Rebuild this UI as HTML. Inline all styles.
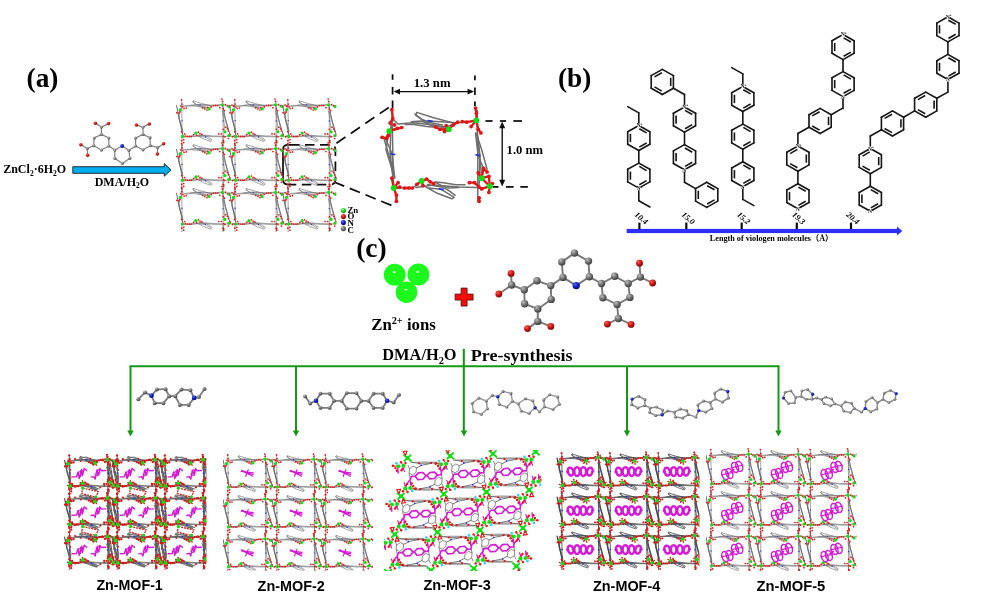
<!DOCTYPE html>
<html><head><meta charset="utf-8"><title>Zn-MOF viologen scheme</title>
<style>
html,body{margin:0;padding:0;background:#fff;}
body{width:1006px;height:596px;overflow:hidden;}
svg{display:block;}
</style></head><body>
<svg width="1006" height="596" viewBox="0 0 1006 596">
<defs>
<radialGradient id="gC" cx="35%" cy="30%" r="75%"><stop offset="0" stop-color="#bdbdbd"/><stop offset="0.5" stop-color="#727272"/><stop offset="1" stop-color="#383838"/></radialGradient>
<radialGradient id="gCl" cx="35%" cy="30%" r="75%"><stop offset="0" stop-color="#e8e8e8"/><stop offset="0.55" stop-color="#a4a4a4"/><stop offset="1" stop-color="#6a6a6a"/></radialGradient>
<radialGradient id="gCm" cx="35%" cy="30%" r="75%"><stop offset="0" stop-color="#c8c8c8"/><stop offset="0.5" stop-color="#848484"/><stop offset="1" stop-color="#4a4a4a"/></radialGradient>
<radialGradient id="gO" cx="35%" cy="30%" r="75%"><stop offset="0" stop-color="#ff5a4a"/><stop offset="0.55" stop-color="#cc1212"/><stop offset="1" stop-color="#6a0606"/></radialGradient>
<radialGradient id="gN" cx="35%" cy="30%" r="75%"><stop offset="0" stop-color="#5566f5"/><stop offset="0.5" stop-color="#1220cc"/><stop offset="1" stop-color="#060c66"/></radialGradient>
<radialGradient id="gZn" cx="40%" cy="32%" r="70%"><stop offset="0" stop-color="#ffffff"/><stop offset="0.1" stop-color="#60ff60"/><stop offset="0.5" stop-color="#14f014"/><stop offset="1" stop-color="#0ed80e"/></radialGradient>
<radialGradient id="gZnS" cx="35%" cy="30%" r="75%"><stop offset="0" stop-color="#90ff90"/><stop offset="0.5" stop-color="#10e010"/><stop offset="1" stop-color="#0a900a"/></radialGradient>
<filter id="gsoft" filterUnits="userSpaceOnUse" x="0" y="0" width="1006" height="596"><feGaussianBlur stdDeviation="0.32"/></filter>
<filter id="soft" x="-5%" y="-5%" width="110%" height="110%"><feGaussianBlur stdDeviation="0.35"/></filter>
<filter id="soft2" x="-5%" y="-5%" width="110%" height="110%"><feGaussianBlur stdDeviation="0.5"/></filter>
</defs>
<rect width="1006" height="596" fill="#ffffff"/>
<g filter="url(#gsoft)">
<text x="26.6" y="86.7" font-family='"Liberation Serif", serif' font-size="27.3" font-weight="bold" text-anchor="start" >(a)</text>
<text x="558.0" y="86.7" font-family='"Liberation Serif", serif' font-size="27.3" font-weight="bold" text-anchor="start" >(b)</text>
<text x="356.2" y="257.0" font-family='"Liberation Serif", serif' font-size="27.5" font-weight="bold" text-anchor="start" >(c)</text>
<text x="3.2" y="173.3" font-family='"Liberation Serif", serif' font-size="12" font-weight="bold" text-anchor="start" >ZnCl<tspan font-size="7.5" dy="2.4">2</tspan><tspan dy="-2.4">·6H</tspan><tspan font-size="7.5" dy="2.4">2</tspan><tspan dy="-2.4">O</tspan></text>
<text x="94.7" y="185.6" font-family='"Liberation Serif", serif' font-size="12" font-weight="bold" text-anchor="start" >DMA/H<tspan font-size="7.5" dy="2.4">2</tspan><tspan dy="-2.4">O</tspan></text>
<path d="M72.8 166.7 H164.3 V163.6 L171 169.9 L164.3 176.2 V173.3 H72.8 Z" fill="#00aeef" stroke="#1a1a22" stroke-width="0.9" stroke-linejoin="miter"/>
<path d="M392.6 74.3L392.6 79.8" stroke="#111" stroke-width="1.75" />
<path d="M392.6 86.9L392.6 94.5" stroke="#111" stroke-width="1.75" />
<path d="M392.6 100.5L392.6 108.2" stroke="#111" stroke-width="1.75" />
<path d="M474.9 75.4L474.9 80.3" stroke="#111" stroke-width="1.75" />
<path d="M474.9 87.4L474.9 95.0" stroke="#111" stroke-width="1.75" />
<path d="M474.9 101.6L474.9 106.0" stroke="#111" stroke-width="1.75" />
<path d="M397.0 91.6L471.0 91.6" stroke="#111" stroke-width="1.4" />
<path d="M393.6 91.6 L400 88.7 L400 94.5 Z M474 91.6 L467.6 88.7 L467.6 94.5 Z" fill="#111"/>
<text x="413.7" y="87.4" font-family='"Liberation Serif", serif' font-size="13" font-weight="bold" text-anchor="start" textLength="36.8" lengthAdjust="spacingAndGlyphs">1.3 nm</text>
<path d="M485.4 121.0L492.6 121.0" stroke="#111" stroke-width="1.75" />
<path d="M499.9 121.0L506.1 121.0" stroke="#111" stroke-width="1.75" />
<path d="M513.3 121.0L522.0 121.0" stroke="#111" stroke-width="1.75" />
<path d="M492.6 186.9L498.5 186.9" stroke="#111" stroke-width="1.75" />
<path d="M506.0 186.9L513.6 186.9" stroke="#111" stroke-width="1.75" />
<path d="M520.3 186.9L527.9 186.9" stroke="#111" stroke-width="1.75" />
<path d="M502.2 125.0L502.2 183.0" stroke="#111" stroke-width="1.4" />
<path d="M502.2 121.4 L499.2 128.2 L505.2 128.2 Z M502.2 186.5 L499.2 179.7 L505.2 179.7 Z" fill="#111"/>
<text x="506.6" y="153.7" font-family='"Liberation Serif", serif' font-size="12.8" font-weight="bold" text-anchor="start" textLength="36.4" lengthAdjust="spacingAndGlyphs">1.0 nm</text>
<path d="M290 144.9 H330.4 Q335.4 144.9 335.4 149.9 V179.6 Q335.4 184.6 330.4 184.6 H290" fill="none" stroke="#111" stroke-width="1.75" stroke-dasharray="9.5 5.5"/>
<path d="M290 144.9 H288 Q283 144.9 283 149.9 V179.6 Q283 184.6 288 184.6 H290" fill="none" stroke="#111" stroke-width="1.75"/>
<path d="M336.4 143.3L392.8 104.7" stroke="#111" stroke-width="1.75" stroke-dasharray="11 6.5"/>
<path d="M334.0 182.0L394.8 206.7" stroke="#111" stroke-width="1.75" stroke-dasharray="11 6"/>
<circle cx="343.4" cy="210.6" r="2.55" fill="url(#gZnS)" />
<text x="347.4" y="212.9" font-family='"Liberation Serif", serif' font-size="8.8" font-weight="bold" text-anchor="start" >Zn</text>
<circle cx="343.4" cy="216.6" r="2.55" fill="url(#gO)" />
<text x="347.4" y="219.2" font-family='"Liberation Serif", serif' font-size="8.8" font-weight="bold" text-anchor="start" >O</text>
<circle cx="343.4" cy="222.6" r="2.55" fill="url(#gN)" />
<text x="347.4" y="225.9" font-family='"Liberation Serif", serif' font-size="8.8" font-weight="bold" text-anchor="start" >N</text>
<circle cx="343.4" cy="228.6" r="2.55" fill="url(#gC)" />
<text x="347.4" y="233.2" font-family='"Liberation Serif", serif' font-size="8.8" font-weight="bold" text-anchor="start" >C</text>
<rect x="626.7" y="228.9" width="271" height="4.2" fill="#2f2ffa"/>
<path d="M897 226.4 L902.3 231 L897 235.6 Z" fill="#2f2ffa"/>
<path d="M639.4 222.6L639.4 229.2" stroke="#111" stroke-width="2.2" />
<text transform="translate(641.4,218.0) rotate(40)" x="0" y="2.8" text-anchor="middle" font-family='"Liberation Serif", serif' font-size="8.2" font-weight="bold" font-style="italic">10.4</text>
<path d="M686.3 222.6L686.3 229.2" stroke="#111" stroke-width="2.2" />
<text transform="translate(688.3,218.0) rotate(40)" x="0" y="2.8" text-anchor="middle" font-family='"Liberation Serif", serif' font-size="8.2" font-weight="bold" font-style="italic">15.0</text>
<path d="M741.7 222.6L741.7 229.2" stroke="#111" stroke-width="2.2" />
<text transform="translate(743.7,218.0) rotate(40)" x="0" y="2.8" text-anchor="middle" font-family='"Liberation Serif", serif' font-size="8.2" font-weight="bold" font-style="italic">15.2</text>
<path d="M796.8 222.6L796.8 229.2" stroke="#111" stroke-width="2.2" />
<text transform="translate(798.8,218.0) rotate(40)" x="0" y="2.8" text-anchor="middle" font-family='"Liberation Serif", serif' font-size="8.2" font-weight="bold" font-style="italic">19.3</text>
<path d="M851.0 222.6L851.0 229.2" stroke="#111" stroke-width="2.2" />
<text transform="translate(853.0,218.0) rotate(40)" x="0" y="2.8" text-anchor="middle" font-family='"Liberation Serif", serif' font-size="8.2" font-weight="bold" font-style="italic">20.4</text>
<text x="709.8" y="241.3" font-family='"Liberation Serif", "Noto Sans CJK SC", serif' font-size="8" font-weight="bold" text-anchor="start" textLength="123.5" lengthAdjust="spacingAndGlyphs">Length of viologen molecules（Å）</text>
<text x="371.2" y="330.3" font-family='"Liberation Serif", serif' font-size="16.8" font-weight="bold" text-anchor="start" >Zn<tspan font-size="10.3" dy="-6">2+</tspan><tspan dy="6"> ions</tspan></text>
<text x="382.3" y="360.4" font-family='"Liberation Serif", serif' font-size="16.6" font-weight="bold" text-anchor="start" textLength="74.3" lengthAdjust="spacingAndGlyphs">DMA/H<tspan font-size="10.5" dy="3.2">2</tspan><tspan dy="-3.2">O</tspan></text>
<text x="470.8" y="360.6" font-family='"Liberation Serif", serif' font-size="16.8" font-weight="bold" text-anchor="start" textLength="101.8" lengthAdjust="spacingAndGlyphs">Pre-synthesis</text>
<text x="96.4" y="589.5" font-family='"Liberation Sans", sans-serif' font-size="13.8" font-weight="bold" text-anchor="start" textLength="66.4" lengthAdjust="spacingAndGlyphs">Zn-MOF-1</text>
<text x="257.6" y="591.2" font-family='"Liberation Sans", sans-serif' font-size="13.8" font-weight="bold" text-anchor="start" textLength="67.2" lengthAdjust="spacingAndGlyphs">Zn-MOF-2</text>
<text x="423.4" y="589.5" font-family='"Liberation Sans", sans-serif' font-size="13.8" font-weight="bold" text-anchor="start" textLength="67.5" lengthAdjust="spacingAndGlyphs">Zn-MOF-3</text>
<text x="593.0" y="590.8" font-family='"Liberation Sans", sans-serif' font-size="13.8" font-weight="bold" text-anchor="start" textLength="67.2" lengthAdjust="spacingAndGlyphs">Zn-MOF-4</text>
<text x="756.5" y="590.5" font-family='"Liberation Sans", sans-serif' font-size="13.8" font-weight="bold" text-anchor="start" textLength="68.8" lengthAdjust="spacingAndGlyphs">Zn-MOF-5</text>
<path d="M129.5 366.3L779.5 366.3" stroke="#189818" stroke-width="2.1" />
<path d="M463.8 348.8L463.8 432.0" stroke="#189818" stroke-width="2.1" />
<path d="M130.5 366.3L130.5 432.0" stroke="#189818" stroke-width="2" />
<path d="M127.3 430.5 L133.7 430.5 L130.5 436.5 Z" fill="#189818"/>
<path d="M296.0 366.3L296.0 432.0" stroke="#189818" stroke-width="2" />
<path d="M292.8 430.5 L299.2 430.5 L296 436.5 Z" fill="#189818"/>
<path d="M460.8 430.5 L467.2 430.5 L464 436.5 Z" fill="#189818"/>
<path d="M627.0 366.3L627.0 432.0" stroke="#189818" stroke-width="2" />
<path d="M623.8 430.5 L630.2 430.5 L627 436.5 Z" fill="#189818"/>
<path d="M778.5 366.3L778.5 432.0" stroke="#189818" stroke-width="2" />
<path d="M775.3 430.5 L781.7 430.5 L778.5 436.5 Z" fill="#189818"/>
<path d="M641.0 126.7L649.9 131.7" stroke="#141414" stroke-width="1.6" stroke-linecap="round"/>
<path d="M639.3 128.8L646.6 132.9" stroke="#141414" stroke-width="1.6" />
<path d="M649.9 131.7L649.9 144.2" stroke="#141414" stroke-width="1.6" stroke-linecap="round"/>
<path d="M649.9 144.2L638.8 150.5" stroke="#141414" stroke-width="1.6" stroke-linecap="round"/>
<path d="M646.6 143.0L639.3 147.1" stroke="#141414" stroke-width="1.6" />
<path d="M638.8 150.5L627.7 144.2" stroke="#141414" stroke-width="1.6" stroke-linecap="round"/>
<path d="M627.7 144.2L627.7 131.7" stroke="#141414" stroke-width="1.6" stroke-linecap="round"/>
<path d="M630.4 142.1L630.4 133.8" stroke="#141414" stroke-width="1.6" />
<path d="M627.7 131.7L636.6 126.7" stroke="#141414" stroke-width="1.6" stroke-linecap="round"/>
<text x="638.6" y="127.3" font-family='"Liberation Serif", serif' font-size="5.6" font-weight="bold" text-anchor="middle" fill="#141414">N</text>
<text x="641.4" y="124.8" font-family='"Liberation Serif", serif' font-size="3.4" font-weight="bold" text-anchor="middle" fill="#141414">+</text>
<path d="M638.8 163.1L649.9 169.3" stroke="#141414" stroke-width="1.6" stroke-linecap="round"/>
<path d="M639.3 166.4L646.6 170.6" stroke="#141414" stroke-width="1.6" />
<path d="M649.9 169.3L649.9 181.9" stroke="#141414" stroke-width="1.6" stroke-linecap="round"/>
<path d="M649.9 181.9L641.0 186.9" stroke="#141414" stroke-width="1.6" stroke-linecap="round"/>
<path d="M646.6 180.6L639.3 184.8" stroke="#141414" stroke-width="1.6" />
<path d="M636.6 186.9L627.7 181.9" stroke="#141414" stroke-width="1.6" stroke-linecap="round"/>
<path d="M627.7 181.9L627.7 169.3" stroke="#141414" stroke-width="1.6" stroke-linecap="round"/>
<path d="M630.4 179.7L630.4 171.5" stroke="#141414" stroke-width="1.6" />
<path d="M627.7 169.3L638.8 163.1" stroke="#141414" stroke-width="1.6" stroke-linecap="round"/>
<text x="638.6" y="190.1" font-family='"Liberation Serif", serif' font-size="5.6" font-weight="bold" text-anchor="middle" fill="#141414">N</text>
<text x="641.4" y="187.6" font-family='"Liberation Serif", serif' font-size="3.4" font-weight="bold" text-anchor="middle" fill="#141414">+</text>
<path d="M638.8 150.5L638.8 163.1" stroke="#141414" stroke-width="1.6" stroke-linecap="round"/>
<path d="M638.8 122.8L638.8 112.9" stroke="#141414" stroke-width="1.6" stroke-linecap="round"/>
<path d="M638.8 112.9L627.7 106.6" stroke="#141414" stroke-width="1.6" stroke-linecap="round"/>
<path d="M638.8 190.8L638.8 200.7" stroke="#141414" stroke-width="1.6" stroke-linecap="round"/>
<path d="M638.8 200.7L649.9 207.0" stroke="#141414" stroke-width="1.6" stroke-linecap="round"/>
<path d="M686.7 108.3L695.6 113.3" stroke="#141414" stroke-width="1.6" stroke-linecap="round"/>
<path d="M685.0 110.4L692.3 114.5" stroke="#141414" stroke-width="1.6" />
<path d="M695.6 113.3L695.6 125.8" stroke="#141414" stroke-width="1.6" stroke-linecap="round"/>
<path d="M695.6 125.8L684.5 132.1" stroke="#141414" stroke-width="1.6" stroke-linecap="round"/>
<path d="M692.3 124.6L685.0 128.7" stroke="#141414" stroke-width="1.6" />
<path d="M684.5 132.1L673.4 125.8" stroke="#141414" stroke-width="1.6" stroke-linecap="round"/>
<path d="M673.4 125.8L673.4 113.3" stroke="#141414" stroke-width="1.6" stroke-linecap="round"/>
<path d="M676.1 123.7L676.1 115.4" stroke="#141414" stroke-width="1.6" />
<path d="M673.4 113.3L682.3 108.3" stroke="#141414" stroke-width="1.6" stroke-linecap="round"/>
<text x="684.3" y="108.9" font-family='"Liberation Serif", serif' font-size="5.6" font-weight="bold" text-anchor="middle" fill="#141414">N</text>
<text x="687.1" y="106.4" font-family='"Liberation Serif", serif' font-size="3.4" font-weight="bold" text-anchor="middle" fill="#141414">+</text>
<path d="M684.5 144.6L695.6 150.9" stroke="#141414" stroke-width="1.6" stroke-linecap="round"/>
<path d="M685.0 148.0L692.3 152.2" stroke="#141414" stroke-width="1.6" />
<path d="M695.6 150.9L695.6 163.5" stroke="#141414" stroke-width="1.6" stroke-linecap="round"/>
<path d="M695.6 163.5L686.7 168.5" stroke="#141414" stroke-width="1.6" stroke-linecap="round"/>
<path d="M692.3 162.2L685.0 166.4" stroke="#141414" stroke-width="1.6" />
<path d="M682.3 168.5L673.4 163.5" stroke="#141414" stroke-width="1.6" stroke-linecap="round"/>
<path d="M673.4 163.5L673.4 150.9" stroke="#141414" stroke-width="1.6" stroke-linecap="round"/>
<path d="M676.1 161.3L676.1 153.1" stroke="#141414" stroke-width="1.6" />
<path d="M673.4 150.9L684.5 144.6" stroke="#141414" stroke-width="1.6" stroke-linecap="round"/>
<text x="684.3" y="171.7" font-family='"Liberation Serif", serif' font-size="5.6" font-weight="bold" text-anchor="middle" fill="#141414">N</text>
<text x="687.1" y="169.2" font-family='"Liberation Serif", serif' font-size="3.4" font-weight="bold" text-anchor="middle" fill="#141414">+</text>
<path d="M684.5 132.1L684.5 144.7" stroke="#141414" stroke-width="1.6" stroke-linecap="round"/>
<path d="M684.5 104.4L684.5 94.5" stroke="#141414" stroke-width="1.6" stroke-linecap="round"/>
<path d="M684.5 94.5L673.4 88.2" stroke="#141414" stroke-width="1.6" stroke-linecap="round"/>
<path d="M662.3 69.4L673.4 75.6" stroke="#141414" stroke-width="1.6" stroke-linecap="round"/>
<path d="M673.4 75.6L673.4 88.2" stroke="#141414" stroke-width="1.6" stroke-linecap="round"/>
<path d="M670.7 77.8L670.7 86.0" stroke="#141414" stroke-width="1.6" />
<path d="M673.4 88.2L662.3 94.5" stroke="#141414" stroke-width="1.6" stroke-linecap="round"/>
<path d="M662.3 94.5L651.2 88.2" stroke="#141414" stroke-width="1.6" stroke-linecap="round"/>
<path d="M661.8 91.1L654.5 86.9" stroke="#141414" stroke-width="1.6" />
<path d="M651.2 88.2L651.2 75.6" stroke="#141414" stroke-width="1.6" stroke-linecap="round"/>
<path d="M651.2 75.6L662.3 69.4" stroke="#141414" stroke-width="1.6" stroke-linecap="round"/>
<path d="M654.5 76.9L661.8 72.7" stroke="#141414" stroke-width="1.6" />
<path d="M684.5 172.3L684.5 182.3" stroke="#141414" stroke-width="1.6" stroke-linecap="round"/>
<path d="M684.5 182.3L695.6 188.6" stroke="#141414" stroke-width="1.6" stroke-linecap="round"/>
<path d="M706.7 182.3L717.8 188.6" stroke="#141414" stroke-width="1.6" stroke-linecap="round"/>
<path d="M707.2 185.7L714.5 189.8" stroke="#141414" stroke-width="1.6" />
<path d="M717.8 188.6L717.8 201.1" stroke="#141414" stroke-width="1.6" stroke-linecap="round"/>
<path d="M717.8 201.1L706.7 207.4" stroke="#141414" stroke-width="1.6" stroke-linecap="round"/>
<path d="M714.5 199.9L707.2 204.0" stroke="#141414" stroke-width="1.6" />
<path d="M706.7 207.4L695.6 201.1" stroke="#141414" stroke-width="1.6" stroke-linecap="round"/>
<path d="M695.6 201.1L695.6 188.6" stroke="#141414" stroke-width="1.6" stroke-linecap="round"/>
<path d="M698.3 199.0L698.3 190.7" stroke="#141414" stroke-width="1.6" />
<path d="M695.6 188.6L706.7 182.3" stroke="#141414" stroke-width="1.6" stroke-linecap="round"/>
<path d="M745.0 87.7L753.9 92.7" stroke="#141414" stroke-width="1.6" stroke-linecap="round"/>
<path d="M743.3 89.8L750.6 93.9" stroke="#141414" stroke-width="1.6" />
<path d="M753.9 92.7L753.9 105.2" stroke="#141414" stroke-width="1.6" stroke-linecap="round"/>
<path d="M753.9 105.2L742.8 111.5" stroke="#141414" stroke-width="1.6" stroke-linecap="round"/>
<path d="M750.6 104.0L743.3 108.1" stroke="#141414" stroke-width="1.6" />
<path d="M742.8 111.5L731.7 105.2" stroke="#141414" stroke-width="1.6" stroke-linecap="round"/>
<path d="M731.7 105.2L731.7 92.7" stroke="#141414" stroke-width="1.6" stroke-linecap="round"/>
<path d="M734.4 103.1L734.4 94.8" stroke="#141414" stroke-width="1.6" />
<path d="M731.7 92.7L740.6 87.7" stroke="#141414" stroke-width="1.6" stroke-linecap="round"/>
<text x="742.6" y="88.3" font-family='"Liberation Serif", serif' font-size="5.6" font-weight="bold" text-anchor="middle" fill="#141414">N</text>
<text x="745.4" y="85.8" font-family='"Liberation Serif", serif' font-size="3.4" font-weight="bold" text-anchor="middle" fill="#141414">+</text>
<path d="M742.8 124.1L753.9 130.3" stroke="#141414" stroke-width="1.6" stroke-linecap="round"/>
<path d="M743.3 127.4L750.6 131.6" stroke="#141414" stroke-width="1.6" />
<path d="M753.9 130.3L753.9 142.9" stroke="#141414" stroke-width="1.6" stroke-linecap="round"/>
<path d="M753.9 142.9L742.8 149.2" stroke="#141414" stroke-width="1.6" stroke-linecap="round"/>
<path d="M750.6 141.6L743.3 145.8" stroke="#141414" stroke-width="1.6" />
<path d="M742.8 149.2L731.7 142.9" stroke="#141414" stroke-width="1.6" stroke-linecap="round"/>
<path d="M731.7 142.9L731.7 130.3" stroke="#141414" stroke-width="1.6" stroke-linecap="round"/>
<path d="M734.4 140.7L734.4 132.5" stroke="#141414" stroke-width="1.6" />
<path d="M731.7 130.3L742.8 124.1" stroke="#141414" stroke-width="1.6" stroke-linecap="round"/>
<path d="M742.8 161.7L753.9 168.0" stroke="#141414" stroke-width="1.6" stroke-linecap="round"/>
<path d="M743.3 165.1L750.6 169.2" stroke="#141414" stroke-width="1.6" />
<path d="M753.9 168.0L753.9 180.5" stroke="#141414" stroke-width="1.6" stroke-linecap="round"/>
<path d="M753.9 180.5L745.0 185.5" stroke="#141414" stroke-width="1.6" stroke-linecap="round"/>
<path d="M750.6 179.3L743.3 183.4" stroke="#141414" stroke-width="1.6" />
<path d="M740.6 185.5L731.7 180.5" stroke="#141414" stroke-width="1.6" stroke-linecap="round"/>
<path d="M731.7 180.5L731.7 168.0" stroke="#141414" stroke-width="1.6" stroke-linecap="round"/>
<path d="M734.4 178.4L734.4 170.1" stroke="#141414" stroke-width="1.6" />
<path d="M731.7 168.0L742.8 161.7" stroke="#141414" stroke-width="1.6" stroke-linecap="round"/>
<text x="742.6" y="188.7" font-family='"Liberation Serif", serif' font-size="5.6" font-weight="bold" text-anchor="middle" fill="#141414">N</text>
<text x="745.4" y="186.2" font-family='"Liberation Serif", serif' font-size="3.4" font-weight="bold" text-anchor="middle" fill="#141414">+</text>
<path d="M742.8 111.5L742.8 124.1" stroke="#141414" stroke-width="1.6" stroke-linecap="round"/>
<path d="M742.8 149.2L742.8 161.7" stroke="#141414" stroke-width="1.6" stroke-linecap="round"/>
<path d="M742.8 83.8L742.8 73.9" stroke="#141414" stroke-width="1.6" stroke-linecap="round"/>
<path d="M742.8 73.9L731.7 67.6" stroke="#141414" stroke-width="1.6" stroke-linecap="round"/>
<path d="M742.8 189.4L742.8 199.4" stroke="#141414" stroke-width="1.6" stroke-linecap="round"/>
<path d="M742.8 199.4L753.9 205.6" stroke="#141414" stroke-width="1.6" stroke-linecap="round"/>
<path d="M797.9 183.7L809.0 190.0" stroke="#141414" stroke-width="1.6" stroke-linecap="round"/>
<path d="M798.4 187.1L805.7 191.2" stroke="#141414" stroke-width="1.6" />
<path d="M809.0 190.0L809.0 202.5" stroke="#141414" stroke-width="1.6" stroke-linecap="round"/>
<path d="M809.0 202.5L800.1 207.5" stroke="#141414" stroke-width="1.6" stroke-linecap="round"/>
<path d="M805.7 201.3L798.4 205.4" stroke="#141414" stroke-width="1.6" />
<path d="M795.7 207.5L786.8 202.5" stroke="#141414" stroke-width="1.6" stroke-linecap="round"/>
<path d="M786.8 202.5L786.8 190.0" stroke="#141414" stroke-width="1.6" stroke-linecap="round"/>
<path d="M789.5 200.4L789.5 192.1" stroke="#141414" stroke-width="1.6" />
<path d="M786.8 190.0L797.9 183.7" stroke="#141414" stroke-width="1.6" stroke-linecap="round"/>
<text x="797.7" y="210.7" font-family='"Liberation Serif", serif' font-size="5.6" font-weight="bold" text-anchor="middle" fill="#141414">N</text>
<text x="800.5" y="208.2" font-family='"Liberation Serif", serif' font-size="3.4" font-weight="bold" text-anchor="middle" fill="#141414">+</text>
<path d="M800.1 147.3L809.0 152.3" stroke="#141414" stroke-width="1.6" stroke-linecap="round"/>
<path d="M809.0 152.3L809.0 164.9" stroke="#141414" stroke-width="1.6" stroke-linecap="round"/>
<path d="M806.3 154.5L806.3 162.7" stroke="#141414" stroke-width="1.6" />
<path d="M809.0 164.9L797.9 171.2" stroke="#141414" stroke-width="1.6" stroke-linecap="round"/>
<path d="M797.9 171.2L786.8 164.9" stroke="#141414" stroke-width="1.6" stroke-linecap="round"/>
<path d="M797.4 167.8L790.1 163.6" stroke="#141414" stroke-width="1.6" />
<path d="M786.8 164.9L786.8 152.3" stroke="#141414" stroke-width="1.6" stroke-linecap="round"/>
<path d="M786.8 152.3L795.7 147.3" stroke="#141414" stroke-width="1.6" stroke-linecap="round"/>
<path d="M790.1 153.6L797.4 149.4" stroke="#141414" stroke-width="1.6" />
<text x="797.7" y="148.0" font-family='"Liberation Serif", serif' font-size="5.6" font-weight="bold" text-anchor="middle" fill="#141414">N</text>
<text x="800.5" y="145.5" font-family='"Liberation Serif", serif' font-size="3.4" font-weight="bold" text-anchor="middle" fill="#141414">+</text>
<path d="M797.9 183.7L797.9 171.2" stroke="#141414" stroke-width="1.6" stroke-linecap="round"/>
<path d="M797.9 143.5L797.9 133.5" stroke="#141414" stroke-width="1.6" stroke-linecap="round"/>
<path d="M797.9 133.5L809.0 127.2" stroke="#141414" stroke-width="1.6" stroke-linecap="round"/>
<path d="M820.1 108.4L831.2 114.7" stroke="#141414" stroke-width="1.6" stroke-linecap="round"/>
<path d="M831.2 114.7L831.2 127.2" stroke="#141414" stroke-width="1.6" stroke-linecap="round"/>
<path d="M828.5 116.8L828.5 125.1" stroke="#141414" stroke-width="1.6" />
<path d="M831.2 127.2L820.1 133.5" stroke="#141414" stroke-width="1.6" stroke-linecap="round"/>
<path d="M820.1 133.5L809.0 127.2" stroke="#141414" stroke-width="1.6" stroke-linecap="round"/>
<path d="M819.6 130.1L812.2 126.0" stroke="#141414" stroke-width="1.6" />
<path d="M809.0 127.2L809.0 114.7" stroke="#141414" stroke-width="1.6" stroke-linecap="round"/>
<path d="M809.0 114.7L820.1 108.4" stroke="#141414" stroke-width="1.6" stroke-linecap="round"/>
<path d="M812.2 115.9L819.6 111.8" stroke="#141414" stroke-width="1.6" />
<path d="M831.2 114.7L842.2 108.4" stroke="#141414" stroke-width="1.6" stroke-linecap="round"/>
<path d="M843.0 108.7L843.0 99.2" stroke="#141414" stroke-width="1.6" stroke-linecap="round"/>
<path d="M843.0 71.6L854.1 77.8" stroke="#141414" stroke-width="1.6" stroke-linecap="round"/>
<path d="M843.6 74.9L850.9 79.1" stroke="#141414" stroke-width="1.6" />
<path d="M854.1 77.8L854.1 90.4" stroke="#141414" stroke-width="1.6" stroke-linecap="round"/>
<path d="M854.1 90.4L845.3 95.4" stroke="#141414" stroke-width="1.6" stroke-linecap="round"/>
<path d="M850.9 89.1L843.6 93.3" stroke="#141414" stroke-width="1.6" />
<path d="M840.8 95.4L832.0 90.4" stroke="#141414" stroke-width="1.6" stroke-linecap="round"/>
<path d="M832.0 90.4L832.0 77.8" stroke="#141414" stroke-width="1.6" stroke-linecap="round"/>
<path d="M834.7 88.2L834.7 80.0" stroke="#141414" stroke-width="1.6" />
<path d="M832.0 77.8L843.0 71.6" stroke="#141414" stroke-width="1.6" stroke-linecap="round"/>
<text x="842.8" y="98.6" font-family='"Liberation Serif", serif' font-size="5.6" font-weight="bold" text-anchor="middle" fill="#141414">N</text>
<text x="845.6" y="96.1" font-family='"Liberation Serif", serif' font-size="3.4" font-weight="bold" text-anchor="middle" fill="#141414">+</text>
<path d="M845.3 35.8L854.1 40.8" stroke="#141414" stroke-width="1.6" stroke-linecap="round"/>
<path d="M843.6 37.9L850.9 42.0" stroke="#141414" stroke-width="1.6" />
<path d="M854.1 40.8L854.1 53.3" stroke="#141414" stroke-width="1.6" stroke-linecap="round"/>
<path d="M854.1 53.3L843.0 59.6" stroke="#141414" stroke-width="1.6" stroke-linecap="round"/>
<path d="M850.9 52.1L843.6 56.2" stroke="#141414" stroke-width="1.6" />
<path d="M843.0 59.6L832.0 53.3" stroke="#141414" stroke-width="1.6" stroke-linecap="round"/>
<path d="M832.0 53.3L832.0 40.8" stroke="#141414" stroke-width="1.6" stroke-linecap="round"/>
<path d="M834.7 51.2L834.7 42.9" stroke="#141414" stroke-width="1.6" />
<path d="M832.0 40.8L840.8 35.8" stroke="#141414" stroke-width="1.6" stroke-linecap="round"/>
<text x="842.8" y="36.4" font-family='"Liberation Serif", serif' font-size="5.6" font-weight="bold" text-anchor="middle" fill="#141414">N</text>
<text x="845.6" y="33.9" font-family='"Liberation Serif", serif' font-size="3.4" font-weight="bold" text-anchor="middle" fill="#141414">+</text>
<path d="M843.0 71.6L843.0 59.6" stroke="#141414" stroke-width="1.6" stroke-linecap="round"/>
<path d="M870.3 186.2L881.4 192.5" stroke="#141414" stroke-width="1.6" stroke-linecap="round"/>
<path d="M870.8 189.6L878.1 193.7" stroke="#141414" stroke-width="1.6" />
<path d="M881.4 192.5L881.4 205.0" stroke="#141414" stroke-width="1.6" stroke-linecap="round"/>
<path d="M881.4 205.0L872.5 210.0" stroke="#141414" stroke-width="1.6" stroke-linecap="round"/>
<path d="M878.1 203.8L870.8 207.9" stroke="#141414" stroke-width="1.6" />
<path d="M868.1 210.0L859.2 205.0" stroke="#141414" stroke-width="1.6" stroke-linecap="round"/>
<path d="M859.2 205.0L859.2 192.5" stroke="#141414" stroke-width="1.6" stroke-linecap="round"/>
<path d="M861.9 202.9L861.9 194.6" stroke="#141414" stroke-width="1.6" />
<path d="M859.2 192.5L870.3 186.2" stroke="#141414" stroke-width="1.6" stroke-linecap="round"/>
<text x="870.1" y="213.2" font-family='"Liberation Serif", serif' font-size="5.6" font-weight="bold" text-anchor="middle" fill="#141414">N</text>
<text x="872.9" y="210.7" font-family='"Liberation Serif", serif' font-size="3.4" font-weight="bold" text-anchor="middle" fill="#141414">+</text>
<path d="M872.5 149.8L881.4 154.8" stroke="#141414" stroke-width="1.6" stroke-linecap="round"/>
<path d="M881.4 154.8L881.4 167.4" stroke="#141414" stroke-width="1.6" stroke-linecap="round"/>
<path d="M878.7 157.0L878.7 165.2" stroke="#141414" stroke-width="1.6" />
<path d="M881.4 167.4L870.3 173.7" stroke="#141414" stroke-width="1.6" stroke-linecap="round"/>
<path d="M870.3 173.7L859.2 167.4" stroke="#141414" stroke-width="1.6" stroke-linecap="round"/>
<path d="M869.8 170.3L862.5 166.1" stroke="#141414" stroke-width="1.6" />
<path d="M859.2 167.4L859.2 154.8" stroke="#141414" stroke-width="1.6" stroke-linecap="round"/>
<path d="M859.2 154.8L868.1 149.8" stroke="#141414" stroke-width="1.6" stroke-linecap="round"/>
<path d="M862.5 156.1L869.8 151.9" stroke="#141414" stroke-width="1.6" />
<text x="870.1" y="150.5" font-family='"Liberation Serif", serif' font-size="5.6" font-weight="bold" text-anchor="middle" fill="#141414">N</text>
<text x="872.9" y="148.0" font-family='"Liberation Serif", serif' font-size="3.4" font-weight="bold" text-anchor="middle" fill="#141414">+</text>
<path d="M870.3 186.2L870.3 173.7" stroke="#141414" stroke-width="1.6" stroke-linecap="round"/>
<path d="M870.3 146.0L870.3 136.0" stroke="#141414" stroke-width="1.6" stroke-linecap="round"/>
<path d="M870.3 136.0L881.4 129.7" stroke="#141414" stroke-width="1.6" stroke-linecap="round"/>
<path d="M892.5 110.9L903.6 117.2" stroke="#141414" stroke-width="1.6" stroke-linecap="round"/>
<path d="M903.6 117.2L903.6 129.7" stroke="#141414" stroke-width="1.6" stroke-linecap="round"/>
<path d="M900.9 119.3L900.9 127.6" stroke="#141414" stroke-width="1.6" />
<path d="M903.6 129.7L892.5 136.0" stroke="#141414" stroke-width="1.6" stroke-linecap="round"/>
<path d="M892.5 136.0L881.4 129.7" stroke="#141414" stroke-width="1.6" stroke-linecap="round"/>
<path d="M892.0 132.6L884.6 128.5" stroke="#141414" stroke-width="1.6" />
<path d="M881.4 129.7L881.4 117.2" stroke="#141414" stroke-width="1.6" stroke-linecap="round"/>
<path d="M881.4 117.2L892.5 110.9" stroke="#141414" stroke-width="1.6" stroke-linecap="round"/>
<path d="M884.6 118.4L892.0 114.3" stroke="#141414" stroke-width="1.6" />
<path d="M903.6 117.2L914.6 110.9" stroke="#141414" stroke-width="1.6" stroke-linecap="round"/>
<path d="M925.7 92.1L936.8 98.3" stroke="#141414" stroke-width="1.6" stroke-linecap="round"/>
<path d="M936.8 98.3L936.8 110.9" stroke="#141414" stroke-width="1.6" stroke-linecap="round"/>
<path d="M934.1 100.5L934.1 108.8" stroke="#141414" stroke-width="1.6" />
<path d="M936.8 110.9L925.7 117.2" stroke="#141414" stroke-width="1.6" stroke-linecap="round"/>
<path d="M925.7 117.2L914.6 110.9" stroke="#141414" stroke-width="1.6" stroke-linecap="round"/>
<path d="M925.2 113.8L917.9 109.6" stroke="#141414" stroke-width="1.6" />
<path d="M914.6 110.9L914.6 98.3" stroke="#141414" stroke-width="1.6" stroke-linecap="round"/>
<path d="M914.6 98.3L925.7 92.1" stroke="#141414" stroke-width="1.6" stroke-linecap="round"/>
<path d="M917.9 99.6L925.2 95.5" stroke="#141414" stroke-width="1.6" />
<path d="M936.8 98.3L947.9 92.1" stroke="#141414" stroke-width="1.6" stroke-linecap="round"/>
<path d="M947.9 92.1L947.9 82.1" stroke="#141414" stroke-width="1.6" stroke-linecap="round"/>
<path d="M947.9 54.4L959.0 60.7" stroke="#141414" stroke-width="1.6" stroke-linecap="round"/>
<path d="M948.4 57.8L955.7 62.0" stroke="#141414" stroke-width="1.6" />
<path d="M959.0 60.7L959.0 73.3" stroke="#141414" stroke-width="1.6" stroke-linecap="round"/>
<path d="M959.0 73.3L950.1 78.3" stroke="#141414" stroke-width="1.6" stroke-linecap="round"/>
<path d="M955.7 72.0L948.4 76.1" stroke="#141414" stroke-width="1.6" />
<path d="M945.7 78.3L936.8 73.3" stroke="#141414" stroke-width="1.6" stroke-linecap="round"/>
<path d="M936.8 73.3L936.8 60.7" stroke="#141414" stroke-width="1.6" stroke-linecap="round"/>
<path d="M939.5 71.1L939.5 62.8" stroke="#141414" stroke-width="1.6" />
<path d="M936.8 60.7L947.9 54.4" stroke="#141414" stroke-width="1.6" stroke-linecap="round"/>
<text x="947.7" y="81.4" font-family='"Liberation Serif", serif' font-size="5.6" font-weight="bold" text-anchor="middle" fill="#141414">N</text>
<text x="950.5" y="78.9" font-family='"Liberation Serif", serif' font-size="3.4" font-weight="bold" text-anchor="middle" fill="#141414">+</text>
<path d="M950.1 18.0L959.0 23.1" stroke="#141414" stroke-width="1.6" stroke-linecap="round"/>
<path d="M948.4 20.2L955.7 24.3" stroke="#141414" stroke-width="1.6" />
<path d="M959.0 23.1L959.0 35.6" stroke="#141414" stroke-width="1.6" stroke-linecap="round"/>
<path d="M959.0 35.6L947.9 41.9" stroke="#141414" stroke-width="1.6" stroke-linecap="round"/>
<path d="M955.7 34.3L948.4 38.5" stroke="#141414" stroke-width="1.6" />
<path d="M947.9 41.9L936.8 35.6" stroke="#141414" stroke-width="1.6" stroke-linecap="round"/>
<path d="M936.8 35.6L936.8 23.1" stroke="#141414" stroke-width="1.6" stroke-linecap="round"/>
<path d="M939.5 33.5L939.5 25.2" stroke="#141414" stroke-width="1.6" />
<path d="M936.8 23.1L945.7 18.0" stroke="#141414" stroke-width="1.6" stroke-linecap="round"/>
<text x="947.7" y="18.7" font-family='"Liberation Serif", serif' font-size="5.6" font-weight="bold" text-anchor="middle" fill="#141414">N</text>
<text x="950.5" y="16.2" font-family='"Liberation Serif", serif' font-size="3.4" font-weight="bold" text-anchor="middle" fill="#141414">+</text>
<path d="M947.9 54.4L947.9 41.9" stroke="#141414" stroke-width="1.6" stroke-linecap="round"/>
<circle cx="394.7" cy="274.7" r="10.90" fill="#1df91d" />
<ellipse cx="394.1" cy="272.1" rx="1.5" ry="0.9" fill="#eaffea"/>
<circle cx="418.4" cy="274.5" r="10.90" fill="#1df91d" />
<ellipse cx="417.8" cy="271.9" rx="1.5" ry="0.9" fill="#eaffea"/>
<circle cx="406.5" cy="292.2" r="10.80" fill="#1df91d" />
<ellipse cx="405.9" cy="289.6" rx="1.5" ry="0.9" fill="#eaffea"/>
<path d="M461.1 288.1 H467.1 V294.1 H473.1 V300.1 H467.1 V306.1 H461.1 V300.1 H455.1 V294.1 H461.1 Z" fill="#f20d0d" stroke="#4a0f0f" stroke-width="0.8"/>
<g filter="url(#soft)">
<path d="M574.5 253.1L588.5 261.1" stroke="#787878" stroke-width="1.9" stroke-linecap="round"/>
<path d="M588.5 261.1L589.4 276.8" stroke="#787878" stroke-width="1.9" stroke-linecap="round"/>
<path d="M589.4 276.8L576.2 285.6" stroke="#787878" stroke-width="1.9" stroke-linecap="round"/>
<path d="M576.2 285.6L563.0 277.4" stroke="#787878" stroke-width="1.9" stroke-linecap="round"/>
<path d="M563.0 277.4L561.8 261.9" stroke="#787878" stroke-width="1.9" stroke-linecap="round"/>
<path d="M561.8 261.9L574.5 253.1" stroke="#787878" stroke-width="1.9" stroke-linecap="round"/>
<path d="M550.8 285.6L537.0 280.8" stroke="#787878" stroke-width="1.9" stroke-linecap="round"/>
<path d="M537.0 280.8L524.3 289.8" stroke="#787878" stroke-width="1.9" stroke-linecap="round"/>
<path d="M524.3 289.8L524.6 303.8" stroke="#787878" stroke-width="1.9" stroke-linecap="round"/>
<path d="M524.6 303.8L537.8 308.9" stroke="#787878" stroke-width="1.9" stroke-linecap="round"/>
<path d="M537.8 308.9L551.2 299.4" stroke="#787878" stroke-width="1.9" stroke-linecap="round"/>
<path d="M551.2 299.4L550.8 285.6" stroke="#787878" stroke-width="1.9" stroke-linecap="round"/>
<path d="M601.5 283.5L614.7 276.3" stroke="#787878" stroke-width="1.9" stroke-linecap="round"/>
<path d="M614.7 276.3L628.2 283.5" stroke="#787878" stroke-width="1.9" stroke-linecap="round"/>
<path d="M628.2 283.5L629.9 297.4" stroke="#787878" stroke-width="1.9" stroke-linecap="round"/>
<path d="M629.9 297.4L617.1 304.5" stroke="#787878" stroke-width="1.9" stroke-linecap="round"/>
<path d="M617.1 304.5L602.9 297.7" stroke="#787878" stroke-width="1.9" stroke-linecap="round"/>
<path d="M602.9 297.7L601.5 283.5" stroke="#787878" stroke-width="1.9" stroke-linecap="round"/>
<path d="M563.0 277.4L550.8 285.6" stroke="#787878" stroke-width="1.9" stroke-linecap="round"/>
<path d="M589.4 276.8L601.5 283.5" stroke="#787878" stroke-width="1.9" stroke-linecap="round"/>
<path d="M524.3 289.8L511.6 285.0" stroke="#787878" stroke-width="1.9" stroke-linecap="round"/>
<path d="M511.6 285.0L511.1 273.4" stroke="#787878" stroke-width="1.9" stroke-linecap="round"/>
<path d="M511.6 285.0L498.8 294.0" stroke="#787878" stroke-width="1.9" stroke-linecap="round"/>
<path d="M537.8 308.9L537.8 321.4" stroke="#787878" stroke-width="1.9" stroke-linecap="round"/>
<path d="M537.8 321.4L527.5 328.6" stroke="#787878" stroke-width="1.9" stroke-linecap="round"/>
<path d="M537.8 321.4L550.8 326.4" stroke="#787878" stroke-width="1.9" stroke-linecap="round"/>
<path d="M628.2 283.5L640.4 277.1" stroke="#787878" stroke-width="1.9" stroke-linecap="round"/>
<path d="M640.4 277.1L639.5 263.2" stroke="#787878" stroke-width="1.9" stroke-linecap="round"/>
<path d="M640.4 277.1L652.6 283.0" stroke="#787878" stroke-width="1.9" stroke-linecap="round"/>
<path d="M617.1 304.5L618.4 318.5" stroke="#787878" stroke-width="1.9" stroke-linecap="round"/>
<path d="M618.4 318.5L607.4 324.1" stroke="#787878" stroke-width="1.9" stroke-linecap="round"/>
<path d="M618.4 318.5L631.1 324.4" stroke="#787878" stroke-width="1.9" stroke-linecap="round"/>
<circle cx="574.5" cy="253.1" r="3.70" fill="url(#gC)" />
<circle cx="588.5" cy="261.1" r="3.70" fill="url(#gC)" />
<circle cx="589.4" cy="276.8" r="3.70" fill="url(#gC)" />
<circle cx="576.2" cy="285.6" r="3.70" fill="url(#gN)" />
<circle cx="563.0" cy="277.4" r="3.70" fill="url(#gC)" />
<circle cx="561.8" cy="261.9" r="3.70" fill="url(#gC)" />
<circle cx="550.8" cy="285.6" r="3.70" fill="url(#gC)" />
<circle cx="537.0" cy="280.8" r="3.70" fill="url(#gC)" />
<circle cx="524.3" cy="289.8" r="3.70" fill="url(#gC)" />
<circle cx="524.6" cy="303.8" r="3.70" fill="url(#gC)" />
<circle cx="537.8" cy="308.9" r="3.70" fill="url(#gC)" />
<circle cx="551.2" cy="299.4" r="3.70" fill="url(#gC)" />
<circle cx="511.6" cy="285.0" r="3.70" fill="url(#gC)" />
<circle cx="511.1" cy="273.4" r="3.40" fill="url(#gO)" />
<circle cx="498.8" cy="294.0" r="3.40" fill="url(#gO)" />
<circle cx="537.8" cy="321.4" r="3.70" fill="url(#gC)" />
<circle cx="527.5" cy="328.6" r="3.40" fill="url(#gO)" />
<circle cx="550.8" cy="326.4" r="3.40" fill="url(#gO)" />
<circle cx="601.5" cy="283.5" r="3.70" fill="url(#gC)" />
<circle cx="614.7" cy="276.3" r="3.70" fill="url(#gC)" />
<circle cx="628.2" cy="283.5" r="3.70" fill="url(#gC)" />
<circle cx="629.9" cy="297.4" r="3.70" fill="url(#gC)" />
<circle cx="617.1" cy="304.5" r="3.70" fill="url(#gC)" />
<circle cx="602.9" cy="297.7" r="3.70" fill="url(#gC)" />
<circle cx="640.4" cy="277.1" r="3.70" fill="url(#gC)" />
<circle cx="639.5" cy="263.2" r="3.40" fill="url(#gO)" />
<circle cx="652.6" cy="283.0" r="3.40" fill="url(#gO)" />
<circle cx="618.4" cy="318.5" r="3.70" fill="url(#gC)" />
<circle cx="607.4" cy="324.1" r="3.40" fill="url(#gO)" />
<circle cx="631.1" cy="324.4" r="3.40" fill="url(#gO)" />
</g>
<g filter="url(#soft)">
<path d="M122.2 146.0L128.9 150.3" stroke="#808080" stroke-width="1.2" stroke-linecap="round"/>
<path d="M128.9 150.3L129.9 158.3" stroke="#808080" stroke-width="1.2" stroke-linecap="round"/>
<path d="M129.9 158.3L122.4 163.4" stroke="#808080" stroke-width="1.2" stroke-linecap="round"/>
<path d="M122.4 163.4L114.8 158.3" stroke="#808080" stroke-width="1.2" stroke-linecap="round"/>
<path d="M114.8 158.3L114.8 150.1" stroke="#808080" stroke-width="1.2" stroke-linecap="round"/>
<path d="M114.8 150.1L122.2 146.0" stroke="#808080" stroke-width="1.2" stroke-linecap="round"/>
<path d="M108.8 146.0L108.8 138.0" stroke="#808080" stroke-width="1.2" stroke-linecap="round"/>
<path d="M108.8 138.0L101.4 134.4" stroke="#808080" stroke-width="1.2" stroke-linecap="round"/>
<path d="M101.4 134.4L94.2 138.0" stroke="#808080" stroke-width="1.2" stroke-linecap="round"/>
<path d="M94.2 138.0L93.7 145.7" stroke="#808080" stroke-width="1.2" stroke-linecap="round"/>
<path d="M93.7 145.7L101.4 150.1" stroke="#808080" stroke-width="1.2" stroke-linecap="round"/>
<path d="M101.4 150.1L108.8 146.0" stroke="#808080" stroke-width="1.2" stroke-linecap="round"/>
<path d="M135.6 146.0L135.6 138.0" stroke="#808080" stroke-width="1.2" stroke-linecap="round"/>
<path d="M135.6 138.0L143.0 134.4" stroke="#808080" stroke-width="1.2" stroke-linecap="round"/>
<path d="M143.0 134.4L150.0 137.7" stroke="#808080" stroke-width="1.2" stroke-linecap="round"/>
<path d="M150.0 137.7L150.3 145.7" stroke="#808080" stroke-width="1.2" stroke-linecap="round"/>
<path d="M150.3 145.7L143.0 149.8" stroke="#808080" stroke-width="1.2" stroke-linecap="round"/>
<path d="M143.0 149.8L135.6 146.0" stroke="#808080" stroke-width="1.2" stroke-linecap="round"/>
<path d="M114.8 150.1L108.8 146.0" stroke="#808080" stroke-width="1.2" stroke-linecap="round"/>
<path d="M128.9 150.3L135.6 146.0" stroke="#808080" stroke-width="1.2" stroke-linecap="round"/>
<path d="M101.4 134.4L101.4 127.1" stroke="#808080" stroke-width="1.2" stroke-linecap="round"/>
<path d="M101.4 127.1L95.4 123.3" stroke="#808080" stroke-width="1.2" stroke-linecap="round"/>
<path d="M101.4 127.1L108.5 123.6" stroke="#808080" stroke-width="1.2" stroke-linecap="round"/>
<path d="M93.7 145.7L87.3 148.5" stroke="#808080" stroke-width="1.2" stroke-linecap="round"/>
<path d="M87.3 148.5L80.9 144.7" stroke="#808080" stroke-width="1.2" stroke-linecap="round"/>
<path d="M87.3 148.5L87.6 155.3" stroke="#808080" stroke-width="1.2" stroke-linecap="round"/>
<path d="M143.0 134.4L143.0 127.1" stroke="#808080" stroke-width="1.2" stroke-linecap="round"/>
<path d="M143.0 127.1L136.5 125.1" stroke="#808080" stroke-width="1.2" stroke-linecap="round"/>
<path d="M143.0 127.1L149.3 123.9" stroke="#808080" stroke-width="1.2" stroke-linecap="round"/>
<path d="M150.3 145.7L157.6 147.4" stroke="#808080" stroke-width="1.2" stroke-linecap="round"/>
<path d="M157.6 147.4L163.6 143.7" stroke="#808080" stroke-width="1.2" stroke-linecap="round"/>
<path d="M157.6 147.4L157.4 154.1" stroke="#808080" stroke-width="1.2" stroke-linecap="round"/>
<circle cx="122.2" cy="146.0" r="2.00" fill="url(#gN)" />
<circle cx="128.9" cy="150.3" r="1.60" fill="url(#gCm)" />
<circle cx="129.9" cy="158.3" r="1.60" fill="url(#gCm)" />
<circle cx="122.4" cy="163.4" r="1.60" fill="url(#gCm)" />
<circle cx="114.8" cy="158.3" r="1.60" fill="url(#gCm)" />
<circle cx="114.8" cy="150.1" r="1.60" fill="url(#gCm)" />
<circle cx="108.8" cy="146.0" r="1.60" fill="url(#gCm)" />
<circle cx="108.8" cy="138.0" r="1.60" fill="url(#gCm)" />
<circle cx="101.4" cy="134.4" r="1.60" fill="url(#gCm)" />
<circle cx="94.2" cy="138.0" r="1.60" fill="url(#gCm)" />
<circle cx="93.7" cy="145.7" r="1.60" fill="url(#gCm)" />
<circle cx="101.4" cy="150.1" r="1.60" fill="url(#gCm)" />
<circle cx="101.4" cy="127.1" r="1.60" fill="url(#gCm)" />
<circle cx="95.4" cy="123.3" r="1.75" fill="url(#gO)" />
<circle cx="108.5" cy="123.6" r="1.75" fill="url(#gO)" />
<circle cx="87.3" cy="148.5" r="1.60" fill="url(#gCm)" />
<circle cx="80.9" cy="144.7" r="1.75" fill="url(#gO)" />
<circle cx="87.6" cy="155.3" r="1.75" fill="url(#gO)" />
<circle cx="135.6" cy="146.0" r="1.60" fill="url(#gCm)" />
<circle cx="135.6" cy="138.0" r="1.60" fill="url(#gCm)" />
<circle cx="143.0" cy="134.4" r="1.60" fill="url(#gCm)" />
<circle cx="150.0" cy="137.7" r="1.60" fill="url(#gCm)" />
<circle cx="150.3" cy="145.7" r="1.60" fill="url(#gCm)" />
<circle cx="143.0" cy="149.8" r="1.60" fill="url(#gCm)" />
<circle cx="143.0" cy="127.1" r="1.60" fill="url(#gCm)" />
<circle cx="136.5" cy="125.1" r="1.75" fill="url(#gO)" />
<circle cx="149.3" cy="123.9" r="1.75" fill="url(#gO)" />
<circle cx="157.6" cy="147.4" r="1.60" fill="url(#gCm)" />
<circle cx="163.6" cy="143.7" r="1.75" fill="url(#gO)" />
<circle cx="157.4" cy="154.1" r="1.75" fill="url(#gO)" />
</g>
<g filter="url(#soft)">
<path d="M138.4 399.3L145.0 392.4" stroke="#7c7c7c" stroke-width="1.8" stroke-linecap="round"/>
<path d="M145.0 392.4L151.5 395.7" stroke="#7c7c7c" stroke-width="1.8" stroke-linecap="round"/>
<path d="M151.5 395.7L156.9 389.4" stroke="#7c7c7c" stroke-width="1.8" stroke-linecap="round"/>
<path d="M156.9 389.4L165.5 389.2" stroke="#7c7c7c" stroke-width="1.8" stroke-linecap="round"/>
<path d="M165.5 389.2L169.3 396.2" stroke="#7c7c7c" stroke-width="1.8" stroke-linecap="round"/>
<path d="M169.3 396.2L163.4 403.2" stroke="#7c7c7c" stroke-width="1.8" stroke-linecap="round"/>
<path d="M163.4 403.2L154.7 403.2" stroke="#7c7c7c" stroke-width="1.8" stroke-linecap="round"/>
<path d="M154.7 403.2L151.5 395.7" stroke="#7c7c7c" stroke-width="1.8" stroke-linecap="round"/>
<path d="M169.3 396.2L175.2 396.2" stroke="#7c7c7c" stroke-width="1.8" stroke-linecap="round"/>
<path d="M175.2 396.2L181.5 389.4" stroke="#7c7c7c" stroke-width="1.8" stroke-linecap="round"/>
<path d="M181.5 389.4L190.4 390.3" stroke="#7c7c7c" stroke-width="1.8" stroke-linecap="round"/>
<path d="M190.4 390.3L194.2 397.9" stroke="#7c7c7c" stroke-width="1.8" stroke-linecap="round"/>
<path d="M194.2 397.9L188.7 404.9" stroke="#7c7c7c" stroke-width="1.8" stroke-linecap="round"/>
<path d="M188.7 404.9L179.9 404.9" stroke="#7c7c7c" stroke-width="1.8" stroke-linecap="round"/>
<path d="M179.9 404.9L175.2 396.2" stroke="#7c7c7c" stroke-width="1.8" stroke-linecap="round"/>
<path d="M194.2 397.9L198.9 397.0" stroke="#7c7c7c" stroke-width="1.8" stroke-linecap="round"/>
<path d="M198.9 397.0L204.5 389.0" stroke="#7c7c7c" stroke-width="1.8" stroke-linecap="round"/>
<circle cx="138.4" cy="399.3" r="2.00" fill="url(#gC)" />
<circle cx="145.0" cy="392.4" r="2.00" fill="url(#gC)" />
<circle cx="151.5" cy="395.7" r="2.40" fill="url(#gN)" />
<circle cx="156.9" cy="389.4" r="2.00" fill="url(#gC)" />
<circle cx="165.5" cy="389.2" r="2.00" fill="url(#gC)" />
<circle cx="169.3" cy="396.2" r="2.00" fill="url(#gC)" />
<circle cx="163.4" cy="403.2" r="2.00" fill="url(#gC)" />
<circle cx="154.7" cy="403.2" r="2.00" fill="url(#gC)" />
<circle cx="175.2" cy="396.2" r="2.00" fill="url(#gC)" />
<circle cx="181.5" cy="389.4" r="2.00" fill="url(#gC)" />
<circle cx="190.4" cy="390.3" r="2.00" fill="url(#gC)" />
<circle cx="194.2" cy="397.9" r="2.40" fill="url(#gN)" />
<circle cx="188.7" cy="404.9" r="2.00" fill="url(#gC)" />
<circle cx="179.9" cy="404.9" r="2.00" fill="url(#gC)" />
<circle cx="198.9" cy="397.0" r="2.00" fill="url(#gC)" />
<circle cx="204.5" cy="389.0" r="2.00" fill="url(#gC)" />
<path d="M305.1 396.4L310.2 403.5" stroke="#7c7c7c" stroke-width="1.8" stroke-linecap="round"/>
<path d="M310.2 403.5L316.0 400.8" stroke="#7c7c7c" stroke-width="1.8" stroke-linecap="round"/>
<path d="M316.0 400.8L320.4 393.7" stroke="#7c7c7c" stroke-width="1.8" stroke-linecap="round"/>
<path d="M320.4 393.7L329.7 393.7" stroke="#7c7c7c" stroke-width="1.8" stroke-linecap="round"/>
<path d="M329.7 393.7L334.1 400.8" stroke="#7c7c7c" stroke-width="1.8" stroke-linecap="round"/>
<path d="M334.1 400.8L329.7 407.9" stroke="#7c7c7c" stroke-width="1.8" stroke-linecap="round"/>
<path d="M329.7 407.9L320.4 407.9" stroke="#7c7c7c" stroke-width="1.8" stroke-linecap="round"/>
<path d="M320.4 407.9L316.0 400.8" stroke="#7c7c7c" stroke-width="1.8" stroke-linecap="round"/>
<path d="M334.1 400.8L341.7 400.8" stroke="#7c7c7c" stroke-width="1.8" stroke-linecap="round"/>
<path d="M341.7 400.8L346.7 393.1" stroke="#7c7c7c" stroke-width="1.8" stroke-linecap="round"/>
<path d="M346.7 393.1L356.5 393.1" stroke="#7c7c7c" stroke-width="1.8" stroke-linecap="round"/>
<path d="M356.5 393.1L361.4 400.8" stroke="#7c7c7c" stroke-width="1.8" stroke-linecap="round"/>
<path d="M361.4 400.8L356.5 408.6" stroke="#7c7c7c" stroke-width="1.8" stroke-linecap="round"/>
<path d="M356.5 408.6L346.7 408.6" stroke="#7c7c7c" stroke-width="1.8" stroke-linecap="round"/>
<path d="M346.7 408.6L341.7 400.8" stroke="#7c7c7c" stroke-width="1.8" stroke-linecap="round"/>
<path d="M361.4 400.8L368.5 400.8" stroke="#7c7c7c" stroke-width="1.8" stroke-linecap="round"/>
<path d="M368.5 400.8L373.5 393.7" stroke="#7c7c7c" stroke-width="1.8" stroke-linecap="round"/>
<path d="M373.5 393.7L382.7 393.7" stroke="#7c7c7c" stroke-width="1.8" stroke-linecap="round"/>
<path d="M382.7 393.7L387.1 400.8" stroke="#7c7c7c" stroke-width="1.8" stroke-linecap="round"/>
<path d="M387.1 400.8L382.7 407.9" stroke="#7c7c7c" stroke-width="1.8" stroke-linecap="round"/>
<path d="M382.7 407.9L373.5 407.9" stroke="#7c7c7c" stroke-width="1.8" stroke-linecap="round"/>
<path d="M373.5 407.9L368.5 400.8" stroke="#7c7c7c" stroke-width="1.8" stroke-linecap="round"/>
<path d="M387.1 400.8L393.7 402.4" stroke="#7c7c7c" stroke-width="1.8" stroke-linecap="round"/>
<path d="M393.7 402.4L399.1 394.8" stroke="#7c7c7c" stroke-width="1.8" stroke-linecap="round"/>
<circle cx="305.1" cy="396.4" r="1.90" fill="url(#gC)" />
<circle cx="310.2" cy="403.5" r="1.90" fill="url(#gC)" />
<circle cx="316.0" cy="400.8" r="2.30" fill="url(#gN)" />
<circle cx="320.4" cy="393.7" r="1.90" fill="url(#gC)" />
<circle cx="329.7" cy="393.7" r="1.90" fill="url(#gC)" />
<circle cx="334.1" cy="400.8" r="1.90" fill="url(#gC)" />
<circle cx="329.7" cy="407.9" r="1.90" fill="url(#gC)" />
<circle cx="320.4" cy="407.9" r="1.90" fill="url(#gC)" />
<circle cx="341.7" cy="400.8" r="1.90" fill="url(#gC)" />
<circle cx="346.7" cy="393.1" r="1.90" fill="url(#gC)" />
<circle cx="356.5" cy="393.1" r="1.90" fill="url(#gC)" />
<circle cx="361.4" cy="400.8" r="1.90" fill="url(#gC)" />
<circle cx="356.5" cy="408.6" r="1.90" fill="url(#gC)" />
<circle cx="346.7" cy="408.6" r="1.90" fill="url(#gC)" />
<circle cx="368.5" cy="400.8" r="1.90" fill="url(#gC)" />
<circle cx="373.5" cy="393.7" r="1.90" fill="url(#gC)" />
<circle cx="382.7" cy="393.7" r="1.90" fill="url(#gC)" />
<circle cx="387.1" cy="400.8" r="2.30" fill="url(#gN)" />
<circle cx="382.7" cy="407.9" r="1.90" fill="url(#gC)" />
<circle cx="373.5" cy="407.9" r="1.90" fill="url(#gC)" />
<circle cx="393.7" cy="402.4" r="1.90" fill="url(#gC)" />
<circle cx="399.1" cy="394.8" r="1.90" fill="url(#gC)" />
<path d="M478.9 398.1L486.4 401.0" stroke="#959595" stroke-width="1.4" stroke-linecap="round"/>
<path d="M486.4 401.0L487.4 408.8" stroke="#959595" stroke-width="1.4" stroke-linecap="round"/>
<path d="M487.4 408.8L481.4 414.3" stroke="#959595" stroke-width="1.4" stroke-linecap="round"/>
<path d="M481.4 414.3L473.5 411.8" stroke="#959595" stroke-width="1.4" stroke-linecap="round"/>
<path d="M473.5 411.8L472.2 403.3" stroke="#959595" stroke-width="1.4" stroke-linecap="round"/>
<path d="M472.2 403.3L478.9 398.1" stroke="#959595" stroke-width="1.4" stroke-linecap="round"/>
<path d="M486.4 401.0L492.3 395.4" stroke="#959595" stroke-width="1.4" stroke-linecap="round"/>
<path d="M492.3 395.4L497.8 396.7" stroke="#959595" stroke-width="1.4" stroke-linecap="round"/>
<path d="M497.8 396.7L503.0 391.4" stroke="#959595" stroke-width="1.4" stroke-linecap="round"/>
<path d="M503.0 391.4L510.9 393.4" stroke="#959595" stroke-width="1.4" stroke-linecap="round"/>
<path d="M510.9 393.4L512.5 401.3" stroke="#959595" stroke-width="1.4" stroke-linecap="round"/>
<path d="M512.5 401.3L506.8 407.0" stroke="#959595" stroke-width="1.4" stroke-linecap="round"/>
<path d="M506.8 407.0L499.3 404.3" stroke="#959595" stroke-width="1.4" stroke-linecap="round"/>
<path d="M499.3 404.3L497.8 396.7" stroke="#959595" stroke-width="1.4" stroke-linecap="round"/>
<path d="M512.5 401.3L518.2 403.8" stroke="#959595" stroke-width="1.4" stroke-linecap="round"/>
<path d="M518.2 403.8L525.4 398.7" stroke="#959595" stroke-width="1.4" stroke-linecap="round"/>
<path d="M525.4 398.7L532.8 400.8" stroke="#959595" stroke-width="1.4" stroke-linecap="round"/>
<path d="M532.8 400.8L535.1 407.8" stroke="#959595" stroke-width="1.4" stroke-linecap="round"/>
<path d="M535.1 407.8L529.1 413.3" stroke="#959595" stroke-width="1.4" stroke-linecap="round"/>
<path d="M529.1 413.3L521.2 411.0" stroke="#959595" stroke-width="1.4" stroke-linecap="round"/>
<path d="M521.2 411.0L518.2 403.8" stroke="#959595" stroke-width="1.4" stroke-linecap="round"/>
<path d="M535.1 407.8L539.4 411.8" stroke="#959595" stroke-width="1.4" stroke-linecap="round"/>
<path d="M539.4 411.8L544.5 406.8" stroke="#959595" stroke-width="1.4" stroke-linecap="round"/>
<path d="M544.5 406.8L543.7 399.9" stroke="#959595" stroke-width="1.4" stroke-linecap="round"/>
<path d="M543.7 399.9L549.7 394.7" stroke="#959595" stroke-width="1.4" stroke-linecap="round"/>
<path d="M549.7 394.7L557.7 396.9" stroke="#959595" stroke-width="1.4" stroke-linecap="round"/>
<path d="M557.7 396.9L559.4 404.3" stroke="#959595" stroke-width="1.4" stroke-linecap="round"/>
<path d="M559.4 404.3L553.0 409.3" stroke="#959595" stroke-width="1.4" stroke-linecap="round"/>
<path d="M553.0 409.3L544.5 406.8" stroke="#959595" stroke-width="1.4" stroke-linecap="round"/>
<circle cx="478.9" cy="398.1" r="1.55" fill="url(#gCm)" />
<circle cx="486.4" cy="401.0" r="1.55" fill="url(#gCm)" />
<circle cx="487.4" cy="408.8" r="1.55" fill="url(#gCm)" />
<circle cx="481.4" cy="414.3" r="1.55" fill="url(#gCm)" />
<circle cx="473.5" cy="411.8" r="1.55" fill="url(#gCm)" />
<circle cx="472.2" cy="403.3" r="1.55" fill="url(#gCm)" />
<circle cx="492.3" cy="395.4" r="1.55" fill="url(#gCm)" />
<circle cx="497.8" cy="396.7" r="1.75" fill="url(#gN)" />
<circle cx="503.0" cy="391.4" r="1.55" fill="url(#gCm)" />
<circle cx="510.9" cy="393.4" r="1.55" fill="url(#gCm)" />
<circle cx="512.5" cy="401.3" r="1.55" fill="url(#gCm)" />
<circle cx="506.8" cy="407.0" r="1.55" fill="url(#gCm)" />
<circle cx="499.3" cy="404.3" r="1.55" fill="url(#gCm)" />
<circle cx="518.2" cy="403.8" r="1.55" fill="url(#gCm)" />
<circle cx="525.4" cy="398.7" r="1.55" fill="url(#gCm)" />
<circle cx="532.8" cy="400.8" r="1.55" fill="url(#gCm)" />
<circle cx="535.1" cy="407.8" r="1.75" fill="url(#gN)" />
<circle cx="529.1" cy="413.3" r="1.55" fill="url(#gCm)" />
<circle cx="521.2" cy="411.0" r="1.55" fill="url(#gCm)" />
<circle cx="539.4" cy="411.8" r="1.55" fill="url(#gCm)" />
<circle cx="544.5" cy="406.8" r="1.55" fill="url(#gCm)" />
<circle cx="543.7" cy="399.9" r="1.55" fill="url(#gCm)" />
<circle cx="549.7" cy="394.7" r="1.55" fill="url(#gCm)" />
<circle cx="557.7" cy="396.9" r="1.55" fill="url(#gCm)" />
<circle cx="559.4" cy="404.3" r="1.55" fill="url(#gCm)" />
<circle cx="553.0" cy="409.3" r="1.55" fill="url(#gCm)" />
<path d="M632.1 399.1L638.7 396.3" stroke="#8c8c8c" stroke-width="1.5" stroke-linecap="round"/>
<path d="M638.7 396.3L645.0 399.5" stroke="#8c8c8c" stroke-width="1.5" stroke-linecap="round"/>
<path d="M645.0 399.5L644.7 405.4" stroke="#8c8c8c" stroke-width="1.5" stroke-linecap="round"/>
<path d="M644.7 405.4L637.8 407.9" stroke="#8c8c8c" stroke-width="1.5" stroke-linecap="round"/>
<path d="M637.8 407.9L631.6 404.5" stroke="#8c8c8c" stroke-width="1.5" stroke-linecap="round"/>
<path d="M631.6 404.5L632.1 399.1" stroke="#8c8c8c" stroke-width="1.5" stroke-linecap="round"/>
<path d="M644.7 405.4L650.1 407.9" stroke="#8c8c8c" stroke-width="1.5" stroke-linecap="round"/>
<path d="M650.1 407.9L656.4 407.1" stroke="#8c8c8c" stroke-width="1.5" stroke-linecap="round"/>
<path d="M656.4 407.1L662.7 410.0" stroke="#8c8c8c" stroke-width="1.5" stroke-linecap="round"/>
<path d="M662.7 410.0L662.2 414.8" stroke="#8c8c8c" stroke-width="1.5" stroke-linecap="round"/>
<path d="M662.2 414.8L655.6 415.5" stroke="#8c8c8c" stroke-width="1.5" stroke-linecap="round"/>
<path d="M655.6 415.5L649.6 412.3" stroke="#8c8c8c" stroke-width="1.5" stroke-linecap="round"/>
<path d="M649.6 412.3L650.1 407.9" stroke="#8c8c8c" stroke-width="1.5" stroke-linecap="round"/>
<path d="M662.2 414.8L667.3 410.9" stroke="#8c8c8c" stroke-width="1.5" stroke-linecap="round"/>
<path d="M667.3 410.9L674.4 412.1" stroke="#8c8c8c" stroke-width="1.5" stroke-linecap="round"/>
<path d="M674.4 412.1L680.1 409.1" stroke="#8c8c8c" stroke-width="1.5" stroke-linecap="round"/>
<path d="M680.1 409.1L686.7 410.6" stroke="#8c8c8c" stroke-width="1.5" stroke-linecap="round"/>
<path d="M686.7 410.6L688.4 414.6" stroke="#8c8c8c" stroke-width="1.5" stroke-linecap="round"/>
<path d="M688.4 414.6L682.7 418.0" stroke="#8c8c8c" stroke-width="1.5" stroke-linecap="round"/>
<path d="M682.7 418.0L675.5 416.9" stroke="#8c8c8c" stroke-width="1.5" stroke-linecap="round"/>
<path d="M675.5 416.9L674.4 412.1" stroke="#8c8c8c" stroke-width="1.5" stroke-linecap="round"/>
<path d="M688.4 414.6L695.9 416.9" stroke="#8c8c8c" stroke-width="1.5" stroke-linecap="round"/>
<path d="M695.9 416.9L698.7 410.6" stroke="#8c8c8c" stroke-width="1.5" stroke-linecap="round"/>
<path d="M698.7 410.6L697.9 404.9" stroke="#8c8c8c" stroke-width="1.5" stroke-linecap="round"/>
<path d="M697.9 404.9L703.6 400.9" stroke="#8c8c8c" stroke-width="1.5" stroke-linecap="round"/>
<path d="M703.6 400.9L710.2 402.6" stroke="#8c8c8c" stroke-width="1.5" stroke-linecap="round"/>
<path d="M710.2 402.6L711.9 408.6" stroke="#8c8c8c" stroke-width="1.5" stroke-linecap="round"/>
<path d="M711.9 408.6L705.6 412.1" stroke="#8c8c8c" stroke-width="1.5" stroke-linecap="round"/>
<path d="M705.6 412.1L698.7 410.6" stroke="#8c8c8c" stroke-width="1.5" stroke-linecap="round"/>
<path d="M710.2 402.6L715.3 399.1" stroke="#8c8c8c" stroke-width="1.5" stroke-linecap="round"/>
<path d="M715.3 399.1L714.7 392.9" stroke="#8c8c8c" stroke-width="1.5" stroke-linecap="round"/>
<path d="M714.7 392.9L720.8 388.9" stroke="#8c8c8c" stroke-width="1.5" stroke-linecap="round"/>
<path d="M720.8 388.9L727.7 391.5" stroke="#8c8c8c" stroke-width="1.5" stroke-linecap="round"/>
<path d="M727.7 391.5L728.5 398.0" stroke="#8c8c8c" stroke-width="1.5" stroke-linecap="round"/>
<path d="M728.5 398.0L722.4 402.0" stroke="#8c8c8c" stroke-width="1.5" stroke-linecap="round"/>
<path d="M722.4 402.0L715.3 399.1" stroke="#8c8c8c" stroke-width="1.5" stroke-linecap="round"/>
<circle cx="632.1" cy="399.1" r="1.70" fill="url(#gN)" />
<circle cx="638.7" cy="396.3" r="1.50" fill="url(#gCm)" />
<circle cx="645.0" cy="399.5" r="1.50" fill="url(#gCm)" />
<circle cx="644.7" cy="405.4" r="1.50" fill="url(#gCm)" />
<circle cx="637.8" cy="407.9" r="1.50" fill="url(#gCm)" />
<circle cx="631.6" cy="404.5" r="1.50" fill="url(#gCm)" />
<circle cx="650.1" cy="407.9" r="1.50" fill="url(#gCm)" />
<circle cx="656.4" cy="407.1" r="1.50" fill="url(#gCm)" />
<circle cx="662.7" cy="410.0" r="1.50" fill="url(#gCm)" />
<circle cx="662.2" cy="414.8" r="1.70" fill="url(#gN)" />
<circle cx="655.6" cy="415.5" r="1.50" fill="url(#gCm)" />
<circle cx="649.6" cy="412.3" r="1.50" fill="url(#gCm)" />
<circle cx="667.3" cy="410.9" r="1.50" fill="url(#gCm)" />
<circle cx="674.4" cy="412.1" r="1.50" fill="url(#gCm)" />
<circle cx="680.1" cy="409.1" r="1.50" fill="url(#gCm)" />
<circle cx="686.7" cy="410.6" r="1.50" fill="url(#gCm)" />
<circle cx="688.4" cy="414.6" r="1.50" fill="url(#gCm)" />
<circle cx="682.7" cy="418.0" r="1.50" fill="url(#gCm)" />
<circle cx="675.5" cy="416.9" r="1.50" fill="url(#gCm)" />
<circle cx="695.9" cy="416.9" r="1.50" fill="url(#gCm)" />
<circle cx="698.7" cy="410.6" r="1.70" fill="url(#gN)" />
<circle cx="697.9" cy="404.9" r="1.50" fill="url(#gCm)" />
<circle cx="703.6" cy="400.9" r="1.50" fill="url(#gCm)" />
<circle cx="710.2" cy="402.6" r="1.50" fill="url(#gCm)" />
<circle cx="711.9" cy="408.6" r="1.50" fill="url(#gCm)" />
<circle cx="705.6" cy="412.1" r="1.50" fill="url(#gCm)" />
<circle cx="715.3" cy="399.1" r="1.50" fill="url(#gCm)" />
<circle cx="714.7" cy="392.9" r="1.50" fill="url(#gCm)" />
<circle cx="720.8" cy="388.9" r="1.50" fill="url(#gCm)" />
<circle cx="727.7" cy="391.5" r="1.70" fill="url(#gN)" />
<circle cx="728.5" cy="398.0" r="1.50" fill="url(#gCm)" />
<circle cx="722.4" cy="402.0" r="1.50" fill="url(#gCm)" />
<path d="M783.4 398.0L785.1 392.2" stroke="#888888" stroke-width="1.4" stroke-linecap="round"/>
<path d="M785.1 392.2L790.9 390.9" stroke="#888888" stroke-width="1.4" stroke-linecap="round"/>
<path d="M790.9 390.9L795.8 397.4" stroke="#888888" stroke-width="1.4" stroke-linecap="round"/>
<path d="M795.8 397.4L794.5 402.8" stroke="#888888" stroke-width="1.4" stroke-linecap="round"/>
<path d="M794.5 402.8L788.6 403.6" stroke="#888888" stroke-width="1.4" stroke-linecap="round"/>
<path d="M788.6 403.6L783.4 398.0" stroke="#888888" stroke-width="1.4" stroke-linecap="round"/>
<path d="M795.8 397.4L801.0 396.4" stroke="#888888" stroke-width="1.4" stroke-linecap="round"/>
<path d="M801.0 396.4L801.9 390.9" stroke="#888888" stroke-width="1.4" stroke-linecap="round"/>
<path d="M801.9 390.9L807.5 389.4" stroke="#888888" stroke-width="1.4" stroke-linecap="round"/>
<path d="M807.5 389.4L812.6 394.2" stroke="#888888" stroke-width="1.4" stroke-linecap="round"/>
<path d="M812.6 394.2L811.9 399.3" stroke="#888888" stroke-width="1.4" stroke-linecap="round"/>
<path d="M811.9 399.3L806.2 399.3" stroke="#888888" stroke-width="1.4" stroke-linecap="round"/>
<path d="M806.2 399.3L801.0 396.4" stroke="#888888" stroke-width="1.4" stroke-linecap="round"/>
<path d="M811.9 399.3L816.8 398.0" stroke="#888888" stroke-width="1.4" stroke-linecap="round"/>
<path d="M816.8 398.0L821.3 399.3" stroke="#888888" stroke-width="1.4" stroke-linecap="round"/>
<path d="M821.3 399.3L825.8 397.1" stroke="#888888" stroke-width="1.4" stroke-linecap="round"/>
<path d="M825.8 397.1L831.6 398.9" stroke="#888888" stroke-width="1.4" stroke-linecap="round"/>
<path d="M831.6 398.9L834.9 403.8" stroke="#888888" stroke-width="1.4" stroke-linecap="round"/>
<path d="M834.9 403.8L830.3 405.8" stroke="#888888" stroke-width="1.4" stroke-linecap="round"/>
<path d="M830.3 405.8L823.9 403.6" stroke="#888888" stroke-width="1.4" stroke-linecap="round"/>
<path d="M823.9 403.6L821.3 399.3" stroke="#888888" stroke-width="1.4" stroke-linecap="round"/>
<path d="M834.9 403.8L841.1 405.8" stroke="#888888" stroke-width="1.4" stroke-linecap="round"/>
<path d="M841.1 405.8L845.2 401.9" stroke="#888888" stroke-width="1.4" stroke-linecap="round"/>
<path d="M845.2 401.9L851.4 403.2" stroke="#888888" stroke-width="1.4" stroke-linecap="round"/>
<path d="M851.4 403.2L854.2 408.4" stroke="#888888" stroke-width="1.4" stroke-linecap="round"/>
<path d="M854.2 408.4L850.4 412.6" stroke="#888888" stroke-width="1.4" stroke-linecap="round"/>
<path d="M850.4 412.6L843.7 411.0" stroke="#888888" stroke-width="1.4" stroke-linecap="round"/>
<path d="M843.7 411.0L841.1 405.8" stroke="#888888" stroke-width="1.4" stroke-linecap="round"/>
<path d="M854.2 408.4L861.4 412.2" stroke="#888888" stroke-width="1.4" stroke-linecap="round"/>
<path d="M861.4 412.2L865.2 408.4" stroke="#888888" stroke-width="1.4" stroke-linecap="round"/>
<path d="M865.2 408.4L865.9 401.3" stroke="#888888" stroke-width="1.4" stroke-linecap="round"/>
<path d="M865.9 401.3L872.1 397.6" stroke="#888888" stroke-width="1.4" stroke-linecap="round"/>
<path d="M872.1 397.6L877.5 402.6" stroke="#888888" stroke-width="1.4" stroke-linecap="round"/>
<path d="M877.5 402.6L876.9 409.0" stroke="#888888" stroke-width="1.4" stroke-linecap="round"/>
<path d="M876.9 409.0L870.8 411.9" stroke="#888888" stroke-width="1.4" stroke-linecap="round"/>
<path d="M870.8 411.9L865.2 408.4" stroke="#888888" stroke-width="1.4" stroke-linecap="round"/>
<path d="M877.5 402.6L882.9 399.3" stroke="#888888" stroke-width="1.4" stroke-linecap="round"/>
<path d="M882.9 399.3L884.2 393.2" stroke="#888888" stroke-width="1.4" stroke-linecap="round"/>
<path d="M884.2 393.2L890.4 390.3" stroke="#888888" stroke-width="1.4" stroke-linecap="round"/>
<path d="M890.4 390.3L896.2 393.5" stroke="#888888" stroke-width="1.4" stroke-linecap="round"/>
<path d="M896.2 393.5L895.0 399.3" stroke="#888888" stroke-width="1.4" stroke-linecap="round"/>
<path d="M895.0 399.3L888.9 402.6" stroke="#888888" stroke-width="1.4" stroke-linecap="round"/>
<path d="M888.9 402.6L882.9 399.3" stroke="#888888" stroke-width="1.4" stroke-linecap="round"/>
<circle cx="783.4" cy="398.0" r="1.60" fill="url(#gN)" />
<circle cx="785.1" cy="392.2" r="1.40" fill="url(#gCm)" />
<circle cx="790.9" cy="390.9" r="1.40" fill="url(#gCm)" />
<circle cx="795.8" cy="397.4" r="1.40" fill="url(#gCm)" />
<circle cx="794.5" cy="402.8" r="1.40" fill="url(#gCm)" />
<circle cx="788.6" cy="403.6" r="1.40" fill="url(#gCm)" />
<circle cx="801.0" cy="396.4" r="1.40" fill="url(#gCm)" />
<circle cx="801.9" cy="390.9" r="1.40" fill="url(#gCm)" />
<circle cx="807.5" cy="389.4" r="1.40" fill="url(#gCm)" />
<circle cx="812.6" cy="394.2" r="1.60" fill="url(#gN)" />
<circle cx="811.9" cy="399.3" r="1.40" fill="url(#gCm)" />
<circle cx="806.2" cy="399.3" r="1.40" fill="url(#gCm)" />
<circle cx="816.8" cy="398.0" r="1.40" fill="url(#gCm)" />
<circle cx="821.3" cy="399.3" r="1.40" fill="url(#gCm)" />
<circle cx="825.8" cy="397.1" r="1.40" fill="url(#gCm)" />
<circle cx="831.6" cy="398.9" r="1.40" fill="url(#gCm)" />
<circle cx="834.9" cy="403.8" r="1.40" fill="url(#gCm)" />
<circle cx="830.3" cy="405.8" r="1.40" fill="url(#gCm)" />
<circle cx="823.9" cy="403.6" r="1.40" fill="url(#gCm)" />
<circle cx="841.1" cy="405.8" r="1.40" fill="url(#gCm)" />
<circle cx="845.2" cy="401.9" r="1.40" fill="url(#gCm)" />
<circle cx="851.4" cy="403.2" r="1.40" fill="url(#gCm)" />
<circle cx="854.2" cy="408.4" r="1.40" fill="url(#gCm)" />
<circle cx="850.4" cy="412.6" r="1.40" fill="url(#gCm)" />
<circle cx="843.7" cy="411.0" r="1.40" fill="url(#gCm)" />
<circle cx="861.4" cy="412.2" r="1.40" fill="url(#gCm)" />
<circle cx="865.2" cy="408.4" r="1.60" fill="url(#gN)" />
<circle cx="865.9" cy="401.3" r="1.40" fill="url(#gCm)" />
<circle cx="872.1" cy="397.6" r="1.40" fill="url(#gCm)" />
<circle cx="877.5" cy="402.6" r="1.40" fill="url(#gCm)" />
<circle cx="876.9" cy="409.0" r="1.40" fill="url(#gCm)" />
<circle cx="870.8" cy="411.9" r="1.40" fill="url(#gCm)" />
<circle cx="882.9" cy="399.3" r="1.40" fill="url(#gCm)" />
<circle cx="884.2" cy="393.2" r="1.40" fill="url(#gCm)" />
<circle cx="890.4" cy="390.3" r="1.40" fill="url(#gCm)" />
<circle cx="896.2" cy="393.5" r="1.60" fill="url(#gN)" />
<circle cx="895.0" cy="399.3" r="1.40" fill="url(#gCm)" />
<circle cx="888.9" cy="402.6" r="1.40" fill="url(#gCm)" />
</g>
<g filter="url(#soft2)">
<path d="M392.8 119.2L398.1 124.0L413.3 122.7L433.7 124.9L448.8 129.3" stroke="#6e6e6e" stroke-width="1.5" fill="none" stroke-linejoin="round" stroke-linecap="round"/>
<path d="M411.5 121.7L428.4 120.9L456.8 122.7L474.6 121.3" stroke="#6e6e6e" stroke-width="1.5" fill="none" stroke-linejoin="round" stroke-linecap="round"/>
<path d="M416.8 112.4L433.7 117.7L455.1 123.4L446.2 127.0L428.4 124.5L415.6 115.1L416.8 112.4" stroke="#6e6e6e" stroke-width="1.5" fill="none" stroke-linejoin="round" stroke-linecap="round"/>
<path d="M393.7 188.0L413.3 187.5L421.6 180.9" stroke="#6e6e6e" stroke-width="1.5" fill="none" stroke-linejoin="round" stroke-linecap="round"/>
<path d="M415.9 187.5L433.7 185.0L458.6 187.1L476.4 187.5" stroke="#6e6e6e" stroke-width="1.5" fill="none" stroke-linejoin="round" stroke-linecap="round"/>
<path d="M428.4 188.0L440.8 189.2L454.2 197.4L451.9 198.8L437.3 193.3L423.0 185.3" stroke="#6e6e6e" stroke-width="1.5" fill="none" stroke-linejoin="round" stroke-linecap="round"/>
<path d="M392.3 110.6L392.3 123.1L392.8 153.3L392.8 178.2L394.2 188.0" stroke="#6e6e6e" stroke-width="1.5" fill="none" stroke-linejoin="round" stroke-linecap="round"/>
<path d="M392.8 123.1L387.8 138.2L386.0 149.8L393.7 174.7" stroke="#6e6e6e" stroke-width="1.5" fill="none" stroke-linejoin="round" stroke-linecap="round"/>
<path d="M383.9 138.2L387.8 151.5L394.9 178.2" stroke="#6e6e6e" stroke-width="1.5" fill="none" stroke-linejoin="round" stroke-linecap="round"/>
<path d="M477.3 110.6L477.3 130.2L477.8 155.1L477.8 201.3" stroke="#6e6e6e" stroke-width="1.5" fill="none" stroke-linejoin="round" stroke-linecap="round"/>
<path d="M476.4 133.8L481.7 149.8L487.1 169.3" stroke="#6e6e6e" stroke-width="1.5" fill="none" stroke-linejoin="round" stroke-linecap="round"/>
<path d="M477.3 135.5L480.0 158.7L481.7 178.2" stroke="#6e6e6e" stroke-width="1.5" fill="none" stroke-linejoin="round" stroke-linecap="round"/>
<path d="M414.9 114.0L422.3 119.5L428.6 122.2L442.6 124.9" stroke="#6e6e6e" stroke-width="1.5" fill="none" stroke-linejoin="round" stroke-linecap="round"/>
<path d="M411.3 121.7L421.3 121.3L428.6 123.6L435.0 127.2" stroke="#6e6e6e" stroke-width="1.5" fill="none" stroke-linejoin="round" stroke-linecap="round"/>
<path d="M405.1 124.5L414.1 124.5L426.8 126.6L435.0 127.2" stroke="#6e6e6e" stroke-width="1.5" fill="none" stroke-linejoin="round" stroke-linecap="round"/>
<path d="M455.2 195.3L447.8 189.8L441.5 187.1L427.5 184.4" stroke="#6e6e6e" stroke-width="1.5" fill="none" stroke-linejoin="round" stroke-linecap="round"/>
<path d="M458.8 187.6L448.8 188.0L441.5 185.7L435.1 182.1" stroke="#6e6e6e" stroke-width="1.5" fill="none" stroke-linejoin="round" stroke-linecap="round"/>
<path d="M465.0 184.8L456.0 184.8L443.3 182.7L435.1 182.1" stroke="#6e6e6e" stroke-width="1.5" fill="none" stroke-linejoin="round" stroke-linecap="round"/>
<path d="M391.0 124.0L390.1 153.3L392.8 176.4" stroke="#6e6e6e" stroke-width="1.5" fill="none" stroke-linejoin="round" stroke-linecap="round"/>
<path d="M385.7 139.1L391.9 153.3L394.6 176.4" stroke="#6e6e6e" stroke-width="1.5" fill="none" stroke-linejoin="round" stroke-linecap="round"/>
<path d="M479.1 185.3L480.0 156.0L477.3 132.9" stroke="#6e6e6e" stroke-width="1.5" fill="none" stroke-linejoin="round" stroke-linecap="round"/>
<path d="M484.4 170.2L478.2 156.0L475.5 132.9" stroke="#6e6e6e" stroke-width="1.5" fill="none" stroke-linejoin="round" stroke-linecap="round"/>
<path d="M391.9 109.7L392.8 118.6" stroke="#e01414" stroke-width="2.3" stroke-linecap="round"/>
<path d="M392.8 118.6L390.1 123.1" stroke="#e01414" stroke-width="2.3" stroke-linecap="round"/>
<path d="M389.2 131.1L397.2 128.4" stroke="#e01414" stroke-width="2.3" stroke-linecap="round"/>
<path d="M389.2 131.1L401.7 127.5" stroke="#e01414" stroke-width="2.3" stroke-linecap="round"/>
<path d="M389.2 131.1L386.6 138.2" stroke="#e01414" stroke-width="2.3" stroke-linecap="round"/>
<path d="M382.1 137.3L386.6 138.2" stroke="#e01414" stroke-width="2.3" stroke-linecap="round"/>
<path d="M448.8 129.3L444.4 131.6" stroke="#e01414" stroke-width="2.3" stroke-linecap="round"/>
<path d="M448.8 129.3L439.9 129.3" stroke="#e01414" stroke-width="2.3" stroke-linecap="round"/>
<path d="M439.9 129.3L435.5 127.0" stroke="#e01414" stroke-width="2.3" stroke-linecap="round"/>
<path d="M448.8 129.3L453.3 124.9" stroke="#e01414" stroke-width="2.3" stroke-linecap="round"/>
<path d="M453.3 124.9L457.7 122.2" stroke="#e01414" stroke-width="2.3" stroke-linecap="round"/>
<path d="M462.2 121.7L466.6 122.2" stroke="#e01414" stroke-width="2.3" stroke-linecap="round"/>
<path d="M476.4 120.4L471.1 126.6" stroke="#e01414" stroke-width="2.3" stroke-linecap="round"/>
<path d="M476.4 120.4L466.6 122.2" stroke="#e01414" stroke-width="2.3" stroke-linecap="round"/>
<path d="M475.5 108.0L476.4 113.3" stroke="#e01414" stroke-width="2.3" stroke-linecap="round"/>
<path d="M476.4 113.3L476.4 120.4" stroke="#e01414" stroke-width="2.3" stroke-linecap="round"/>
<path d="M476.4 120.4L478.2 129.3" stroke="#e01414" stroke-width="2.3" stroke-linecap="round"/>
<path d="M478.2 129.3L480.9 132.9" stroke="#e01414" stroke-width="2.3" stroke-linecap="round"/>
<path d="M393.7 188.0L391.9 178.2" stroke="#e01414" stroke-width="2.3" stroke-linecap="round"/>
<path d="M393.7 188.0L398.1 182.7" stroke="#e01414" stroke-width="2.3" stroke-linecap="round"/>
<path d="M393.7 188.0L399.9 187.1" stroke="#e01414" stroke-width="2.3" stroke-linecap="round"/>
<path d="M404.4 188.0L408.8 188.0" stroke="#e01414" stroke-width="2.3" stroke-linecap="round"/>
<path d="M408.8 188.0L412.4 188.0" stroke="#e01414" stroke-width="2.3" stroke-linecap="round"/>
<path d="M421.6 180.9L416.8 184.4" stroke="#e01414" stroke-width="2.3" stroke-linecap="round"/>
<path d="M421.6 180.9L423.0 185.7" stroke="#e01414" stroke-width="2.3" stroke-linecap="round"/>
<path d="M421.6 180.9L426.6 179.1" stroke="#e01414" stroke-width="2.3" stroke-linecap="round"/>
<path d="M426.6 179.1L430.2 181.8" stroke="#e01414" stroke-width="2.3" stroke-linecap="round"/>
<path d="M430.2 181.8L433.7 183.6" stroke="#e01414" stroke-width="2.3" stroke-linecap="round"/>
<path d="M393.7 188.0L396.4 195.1" stroke="#e01414" stroke-width="2.3" stroke-linecap="round"/>
<path d="M396.4 195.1L396.4 201.3" stroke="#e01414" stroke-width="2.3" stroke-linecap="round"/>
<path d="M481.7 178.2L478.2 172.9" stroke="#e01414" stroke-width="2.3" stroke-linecap="round"/>
<path d="M481.7 178.2L483.5 168.4" stroke="#e01414" stroke-width="2.3" stroke-linecap="round"/>
<path d="M483.5 168.4L487.1 172.0" stroke="#e01414" stroke-width="2.3" stroke-linecap="round"/>
<path d="M481.7 178.2L488.9 176.4" stroke="#e01414" stroke-width="2.3" stroke-linecap="round"/>
<path d="M489.8 186.2L488.9 176.4" stroke="#e01414" stroke-width="2.3" stroke-linecap="round"/>
<path d="M489.8 186.2L492.4 183.6" stroke="#e01414" stroke-width="2.3" stroke-linecap="round"/>
<path d="M489.8 186.2L488.9 192.4" stroke="#e01414" stroke-width="2.3" stroke-linecap="round"/>
<path d="M489.8 186.2L481.7 188.9" stroke="#e01414" stroke-width="2.3" stroke-linecap="round"/>
<path d="M469.3 182.7L474.6 182.7" stroke="#e01414" stroke-width="2.3" stroke-linecap="round"/>
<path d="M474.6 182.7L479.1 187.1" stroke="#e01414" stroke-width="2.3" stroke-linecap="round"/>
<path d="M479.1 187.1L481.7 188.9" stroke="#e01414" stroke-width="2.3" stroke-linecap="round"/>
<path d="M479.1 197.8L479.1 201.3" stroke="#e01414" stroke-width="2.3" stroke-linecap="round"/>
<path d="M481.7 178.2L489.8 186.2" stroke="#e01414" stroke-width="2.3" stroke-linecap="round"/>
<circle cx="391.9" cy="109.7" r="1.85" fill="#e01414" />
<circle cx="392.8" cy="118.6" r="1.85" fill="#e01414" />
<circle cx="390.1" cy="123.1" r="1.85" fill="#e01414" />
<circle cx="397.2" cy="128.4" r="1.85" fill="#e01414" />
<circle cx="401.7" cy="127.5" r="1.85" fill="#e01414" />
<circle cx="382.1" cy="137.3" r="1.85" fill="#e01414" />
<circle cx="386.6" cy="138.2" r="1.85" fill="#e01414" />
<circle cx="388.4" cy="135.5" r="1.85" fill="#e01414" />
<circle cx="394.6" cy="124.9" r="1.85" fill="#e01414" />
<circle cx="435.5" cy="127.0" r="1.85" fill="#e01414" />
<circle cx="439.9" cy="129.3" r="1.85" fill="#e01414" />
<circle cx="444.4" cy="131.6" r="1.85" fill="#e01414" />
<circle cx="446.2" cy="125.7" r="1.85" fill="#e01414" />
<circle cx="453.3" cy="124.9" r="1.85" fill="#e01414" />
<circle cx="457.7" cy="122.2" r="1.85" fill="#e01414" />
<circle cx="462.2" cy="121.7" r="1.85" fill="#e01414" />
<circle cx="466.6" cy="122.2" r="1.85" fill="#e01414" />
<circle cx="471.1" cy="126.6" r="1.85" fill="#e01414" />
<circle cx="475.5" cy="108.0" r="1.85" fill="#e01414" />
<circle cx="476.4" cy="113.3" r="1.85" fill="#e01414" />
<circle cx="478.2" cy="129.3" r="1.85" fill="#e01414" />
<circle cx="480.9" cy="132.9" r="1.85" fill="#e01414" />
<circle cx="391.9" cy="178.2" r="1.85" fill="#e01414" />
<circle cx="398.1" cy="182.7" r="1.85" fill="#e01414" />
<circle cx="399.9" cy="187.1" r="1.85" fill="#e01414" />
<circle cx="404.4" cy="188.0" r="1.85" fill="#e01414" />
<circle cx="408.8" cy="188.0" r="1.85" fill="#e01414" />
<circle cx="412.4" cy="188.0" r="1.85" fill="#e01414" />
<circle cx="416.8" cy="184.4" r="1.85" fill="#e01414" />
<circle cx="423.0" cy="185.7" r="1.85" fill="#e01414" />
<circle cx="426.6" cy="179.1" r="1.85" fill="#e01414" />
<circle cx="430.2" cy="181.8" r="1.85" fill="#e01414" />
<circle cx="433.7" cy="183.6" r="1.85" fill="#e01414" />
<circle cx="396.4" cy="195.1" r="1.85" fill="#e01414" />
<circle cx="396.4" cy="201.3" r="1.85" fill="#e01414" />
<circle cx="478.2" cy="172.9" r="1.85" fill="#e01414" />
<circle cx="483.5" cy="168.4" r="1.85" fill="#e01414" />
<circle cx="487.1" cy="172.0" r="1.85" fill="#e01414" />
<circle cx="488.9" cy="176.4" r="1.85" fill="#e01414" />
<circle cx="469.3" cy="182.7" r="1.85" fill="#e01414" />
<circle cx="474.6" cy="182.7" r="1.85" fill="#e01414" />
<circle cx="479.1" cy="187.1" r="1.85" fill="#e01414" />
<circle cx="481.7" cy="188.9" r="1.85" fill="#e01414" />
<circle cx="488.9" cy="192.4" r="1.85" fill="#e01414" />
<circle cx="479.1" cy="197.8" r="1.85" fill="#e01414" />
<circle cx="479.1" cy="201.3" r="1.85" fill="#e01414" />
<circle cx="492.4" cy="183.6" r="1.85" fill="#e01414" />
<path d="M428.4 120.6L431.9 121.3" stroke="#2636e6" stroke-width="1.7600000000000002" stroke-linecap="round"/>
<path d="M391.0 153.9L394.6 154.5" stroke="#2636e6" stroke-width="1.7600000000000002" stroke-linecap="round"/>
<path d="M476.1 154.8L479.6 155.4" stroke="#2636e6" stroke-width="1.7600000000000002" stroke-linecap="round"/>
<path d="M439.4 188.9L442.9 189.6" stroke="#2636e6" stroke-width="1.7600000000000002" stroke-linecap="round"/>
<circle cx="389.2" cy="131.1" r="2.90" fill="#16dc16" />
<circle cx="448.8" cy="129.3" r="2.90" fill="#16dc16" />
<circle cx="476.4" cy="120.4" r="2.90" fill="#16dc16" />
<circle cx="421.6" cy="180.9" r="2.90" fill="#16dc16" />
<circle cx="393.7" cy="188.0" r="2.90" fill="#16dc16" />
<circle cx="481.7" cy="178.2" r="2.90" fill="#16dc16" />
<circle cx="489.8" cy="186.2" r="2.90" fill="#16dc16" />
</g>
<defs><g id="t1">
<path d="M0.0 -1.0L2.6 1.2L9.9 0.7L19.8 1.7L27.1 3.7" stroke="#6a6a6a" stroke-width="0.6" fill="none" stroke-linejoin="round" stroke-linecap="round"/>
<path d="M9.0 0.2L17.2 -0.2L30.9 0.7L39.5 0.0" stroke="#6a6a6a" stroke-width="0.6" fill="none" stroke-linejoin="round" stroke-linecap="round"/>
<path d="M11.6 -4.2L19.8 -1.7L30.1 1.0L25.8 2.7L17.2 1.5L11.0 -2.9L11.6 -4.2" stroke="#6a6a6a" stroke-width="0.6" fill="none" stroke-linejoin="round" stroke-linecap="round"/>
<path d="M0.4 31.2L9.9 31.0L13.9 27.9" stroke="#6a6a6a" stroke-width="0.6" fill="none" stroke-linejoin="round" stroke-linecap="round"/>
<path d="M11.2 31.0L19.8 29.8L31.8 30.8L40.4 31.0" stroke="#6a6a6a" stroke-width="0.6" fill="none" stroke-linejoin="round" stroke-linecap="round"/>
<path d="M17.2 31.2L23.2 31.8L29.6 35.6L28.5 36.3L21.5 33.7L14.6 30.0" stroke="#6a6a6a" stroke-width="0.6" fill="none" stroke-linejoin="round" stroke-linecap="round"/>
<path d="M-0.3 -5.0L-0.3 0.8L0.0 15.0L0.0 26.6L0.7 31.2" stroke="#6a6a6a" stroke-width="0.6" fill="none" stroke-linejoin="round" stroke-linecap="round"/>
<path d="M0.0 0.8L-2.4 7.9L-3.3 13.3L0.4 25.0" stroke="#6a6a6a" stroke-width="0.6" fill="none" stroke-linejoin="round" stroke-linecap="round"/>
<path d="M-4.3 7.9L-2.4 14.1L1.0 26.6" stroke="#6a6a6a" stroke-width="0.6" fill="none" stroke-linejoin="round" stroke-linecap="round"/>
<path d="M40.8 -5.0L40.8 4.2L41.1 15.8L41.1 37.4" stroke="#6a6a6a" stroke-width="0.6" fill="none" stroke-linejoin="round" stroke-linecap="round"/>
<path d="M40.4 5.8L42.9 13.3L45.5 22.5" stroke="#6a6a6a" stroke-width="0.6" fill="none" stroke-linejoin="round" stroke-linecap="round"/>
<path d="M40.8 6.7L42.1 17.5L42.9 26.6" stroke="#6a6a6a" stroke-width="0.6" fill="none" stroke-linejoin="round" stroke-linecap="round"/>
<path d="M40.8 0.0L53.1 0.2" stroke="#6a6a6a" stroke-width="0.6" fill="none" stroke-linejoin="round" stroke-linecap="round"/>
<path d="M40.8 31.2L53.1 31.0" stroke="#6a6a6a" stroke-width="0.6" fill="none" stroke-linejoin="round" stroke-linecap="round"/>
<path d="M0.0 31.2L-0.2 43.8" stroke="#6a6a6a" stroke-width="0.6" fill="none" stroke-linejoin="round" stroke-linecap="round"/>
<path d="M41.1 31.2L40.9 43.8" stroke="#6a6a6a" stroke-width="0.6" fill="none" stroke-linejoin="round" stroke-linecap="round"/>
<path d="M2.6 0.7L17.2 -0.8L30.9 0.0L39.9 -0.7" stroke="#6a6a6a" stroke-width="0.6" fill="none" stroke-linejoin="round" stroke-linecap="round"/>
<path d="M0.9 31.9L9.9 31.6L19.8 30.5L31.8 31.5L40.4 31.7" stroke="#6a6a6a" stroke-width="0.6" fill="none" stroke-linejoin="round" stroke-linecap="round"/>
<path d="M10.7 -3.4L14.3 -0.8L17.3 0.4L24.1 1.7" stroke="#6a6a6a" stroke-width="0.6" fill="none" stroke-linejoin="round" stroke-linecap="round"/>
<path d="M30.1 34.6L26.5 32.0L23.5 30.8L16.7 29.5" stroke="#6a6a6a" stroke-width="0.6" fill="none" stroke-linejoin="round" stroke-linecap="round"/>
<path d="M40.7 0.4L43.4 13.3L48.3 30.8" stroke="#6a6a6a" stroke-width="0.96" fill="none" stroke-linejoin="round" stroke-linecap="round"/>
<path d="M-5.5 0.4L-2.6 14.1L1.0 30.8" stroke="#6a6a6a" stroke-width="0.96" fill="none" stroke-linejoin="round" stroke-linecap="round"/>
<circle cx="-0.4" cy="-5.4" r="0.85" fill="#e01414" />
<circle cx="0.0" cy="-1.2" r="0.85" fill="#e01414" />
<circle cx="-1.3" cy="0.8" r="0.85" fill="#e01414" />
<circle cx="2.1" cy="3.3" r="0.85" fill="#e01414" />
<circle cx="4.3" cy="2.9" r="0.85" fill="#e01414" />
<circle cx="-5.2" cy="7.5" r="0.85" fill="#e01414" />
<circle cx="-3.0" cy="7.9" r="0.85" fill="#e01414" />
<circle cx="-2.1" cy="6.7" r="0.85" fill="#e01414" />
<circle cx="0.9" cy="1.7" r="0.85" fill="#e01414" />
<circle cx="20.6" cy="2.7" r="0.85" fill="#e01414" />
<circle cx="22.8" cy="3.7" r="0.85" fill="#e01414" />
<circle cx="24.9" cy="4.8" r="0.85" fill="#e01414" />
<circle cx="25.8" cy="2.1" r="0.85" fill="#e01414" />
<circle cx="29.2" cy="1.7" r="0.85" fill="#e01414" />
<circle cx="31.4" cy="0.4" r="0.85" fill="#e01414" />
<circle cx="33.5" cy="0.2" r="0.85" fill="#e01414" />
<circle cx="35.6" cy="0.4" r="0.85" fill="#e01414" />
<circle cx="37.8" cy="2.5" r="0.85" fill="#e01414" />
<circle cx="39.9" cy="-6.2" r="0.85" fill="#e01414" />
<circle cx="40.4" cy="-3.7" r="0.85" fill="#e01414" />
<circle cx="41.2" cy="3.7" r="0.85" fill="#e01414" />
<circle cx="42.5" cy="5.4" r="0.85" fill="#e01414" />
<circle cx="-0.4" cy="26.6" r="0.85" fill="#e01414" />
<circle cx="2.6" cy="28.7" r="0.85" fill="#e01414" />
<circle cx="3.4" cy="30.8" r="0.85" fill="#e01414" />
<circle cx="5.6" cy="31.2" r="0.85" fill="#e01414" />
<circle cx="7.7" cy="31.2" r="0.85" fill="#e01414" />
<circle cx="9.4" cy="31.2" r="0.85" fill="#e01414" />
<circle cx="11.6" cy="29.5" r="0.85" fill="#e01414" />
<circle cx="14.6" cy="30.1" r="0.85" fill="#e01414" />
<circle cx="16.3" cy="27.0" r="0.85" fill="#e01414" />
<circle cx="18.0" cy="28.3" r="0.85" fill="#e01414" />
<circle cx="19.8" cy="29.1" r="0.85" fill="#e01414" />
<circle cx="1.7" cy="34.5" r="0.85" fill="#e01414" />
<circle cx="1.7" cy="37.4" r="0.85" fill="#e01414" />
<circle cx="41.2" cy="24.1" r="0.85" fill="#e01414" />
<circle cx="43.8" cy="22.0" r="0.85" fill="#e01414" />
<circle cx="45.5" cy="23.7" r="0.85" fill="#e01414" />
<circle cx="46.4" cy="25.8" r="0.85" fill="#e01414" />
<circle cx="36.9" cy="28.7" r="0.85" fill="#e01414" />
<circle cx="39.5" cy="28.7" r="0.85" fill="#e01414" />
<circle cx="41.7" cy="30.8" r="0.85" fill="#e01414" />
<circle cx="42.9" cy="31.6" r="0.85" fill="#e01414" />
<circle cx="46.4" cy="33.3" r="0.85" fill="#e01414" />
<circle cx="41.7" cy="35.8" r="0.85" fill="#e01414" />
<circle cx="41.7" cy="37.4" r="0.85" fill="#e01414" />
<circle cx="48.1" cy="29.1" r="0.85" fill="#e01414" />
<circle cx="43.4" cy="-0.7" r="0.85" fill="#e01414" />
<circle cx="45.4" cy="0.7" r="0.85" fill="#e01414" />
<circle cx="50.0" cy="-0.2" r="0.85" fill="#e01414" />
<circle cx="51.5" cy="1.2" r="0.85" fill="#e01414" />
<circle cx="50.5" cy="31.6" r="0.85" fill="#e01414" />
<circle cx="52.1" cy="31.0" r="0.85" fill="#e01414" />
<circle cx="-0.3" cy="35.4" r="0.85" fill="#e01414" />
<circle cx="0.0" cy="39.9" r="0.85" fill="#e01414" />
<circle cx="41.2" cy="35.4" r="0.85" fill="#e01414" />
<circle cx="40.7" cy="39.9" r="0.85" fill="#e01414" />
<circle cx="18.0" cy="-0.2" r="0.70" fill="#2636e6" />
<circle cx="0.0" cy="15.4" r="0.70" fill="#2636e6" />
<circle cx="41.1" cy="15.8" r="0.70" fill="#2636e6" />
<circle cx="23.4" cy="31.8" r="0.70" fill="#2636e6" />
<circle cx="-1.7" cy="4.6" r="1.60" fill="#16dc16" />
<circle cx="27.1" cy="3.7" r="1.60" fill="#16dc16" />
<circle cx="40.4" cy="-0.4" r="1.60" fill="#16dc16" />
<circle cx="13.9" cy="27.9" r="1.60" fill="#16dc16" />
<circle cx="0.4" cy="31.2" r="1.60" fill="#16dc16" />
<circle cx="42.9" cy="26.6" r="1.60" fill="#16dc16" />
<circle cx="46.8" cy="30.4" r="1.60" fill="#16dc16" />
<circle cx="47.1" cy="1.5" r="1.60" fill="#16dc16" />
</g></defs>
<defs><clipPath id="ct1"><rect x="175" y="98" width="161.5" height="134"/></clipPath></defs>
<g filter="url(#soft)" clip-path="url(#ct1)">
<use href="#t1" x="182.0" y="105.2"/>
<use href="#t1" x="235.1" y="105.2"/>
<use href="#t1" x="288.2" y="105.2"/>
<use href="#t1" x="182.0" y="149.0"/>
<use href="#t1" x="235.1" y="149.0"/>
<use href="#t1" x="288.2" y="149.0"/>
<use href="#t1" x="182.0" y="192.8"/>
<use href="#t1" x="235.1" y="192.8"/>
<use href="#t1" x="288.2" y="192.8"/>
</g>
<defs><g id="t2">
<path d="M0.0 -0.9L2.4 1.1L9.1 0.6L18.1 1.5L24.8 3.3" stroke="#6a6a6a" stroke-width="0.6" fill="none" stroke-linejoin="round" stroke-linecap="round"/>
<path d="M8.3 0.1L15.7 -0.1L28.3 0.6L36.2 0.0" stroke="#6a6a6a" stroke-width="0.6" fill="none" stroke-linejoin="round" stroke-linecap="round"/>
<path d="M10.6 -3.7L18.1 -1.5L27.6 0.9L23.6 2.3L15.7 1.3L10.1 -2.6L10.6 -3.7" stroke="#6a6a6a" stroke-width="0.6" fill="none" stroke-linejoin="round" stroke-linecap="round"/>
<path d="M0.4 27.4L9.1 27.2L12.8 24.5" stroke="#6a6a6a" stroke-width="0.6" fill="none" stroke-linejoin="round" stroke-linecap="round"/>
<path d="M10.2 27.2L18.1 26.2L29.1 27.0L37.0 27.2" stroke="#6a6a6a" stroke-width="0.6" fill="none" stroke-linejoin="round" stroke-linecap="round"/>
<path d="M15.7 27.4L21.3 27.9L27.2 31.3L26.1 31.9L19.7 29.6L13.4 26.3" stroke="#6a6a6a" stroke-width="0.6" fill="none" stroke-linejoin="round" stroke-linecap="round"/>
<path d="M-0.2 -4.4L-0.2 0.7L0.0 13.2L0.0 23.4L0.6 27.4" stroke="#6a6a6a" stroke-width="0.6" fill="none" stroke-linejoin="round" stroke-linecap="round"/>
<path d="M0.0 0.7L-2.2 6.9L-3.0 11.7L0.4 21.9" stroke="#6a6a6a" stroke-width="0.6" fill="none" stroke-linejoin="round" stroke-linecap="round"/>
<path d="M-3.9 6.9L-2.2 12.4L0.9 23.4" stroke="#6a6a6a" stroke-width="0.6" fill="none" stroke-linejoin="round" stroke-linecap="round"/>
<path d="M37.4 -4.4L37.4 3.7L37.6 13.9L37.6 32.9" stroke="#6a6a6a" stroke-width="0.6" fill="none" stroke-linejoin="round" stroke-linecap="round"/>
<path d="M37.0 5.1L39.4 11.7L41.7 19.7" stroke="#6a6a6a" stroke-width="0.6" fill="none" stroke-linejoin="round" stroke-linecap="round"/>
<path d="M37.4 5.8L38.6 15.3L39.4 23.4" stroke="#6a6a6a" stroke-width="0.6" fill="none" stroke-linejoin="round" stroke-linecap="round"/>
<path d="M37.4 0.0L48.7 0.1" stroke="#6a6a6a" stroke-width="0.6" fill="none" stroke-linejoin="round" stroke-linecap="round"/>
<path d="M37.4 27.4L48.7 27.3" stroke="#6a6a6a" stroke-width="0.6" fill="none" stroke-linejoin="round" stroke-linecap="round"/>
<path d="M0.0 27.4L-0.2 38.4" stroke="#6a6a6a" stroke-width="0.6" fill="none" stroke-linejoin="round" stroke-linecap="round"/>
<path d="M37.6 27.4L37.5 38.4" stroke="#6a6a6a" stroke-width="0.6" fill="none" stroke-linejoin="round" stroke-linecap="round"/>
<path d="M2.4 0.6L15.7 -0.7L28.3 0.0L36.6 -0.6" stroke="#6a6a6a" stroke-width="0.6" fill="none" stroke-linejoin="round" stroke-linecap="round"/>
<path d="M0.8 28.0L9.1 27.8L18.1 26.8L29.1 27.7L37.0 27.8" stroke="#6a6a6a" stroke-width="0.6" fill="none" stroke-linejoin="round" stroke-linecap="round"/>
<path d="M9.8 -3.0L13.1 -0.7L15.8 0.4L22.0 1.5" stroke="#6a6a6a" stroke-width="0.6" fill="none" stroke-linejoin="round" stroke-linecap="round"/>
<path d="M27.6 30.4L24.3 28.1L21.6 27.0L15.4 25.9" stroke="#6a6a6a" stroke-width="0.6" fill="none" stroke-linejoin="round" stroke-linecap="round"/>
<path d="M37.3 0.4L39.8 11.7L44.3 27.0" stroke="#6a6a6a" stroke-width="0.96" fill="none" stroke-linejoin="round" stroke-linecap="round"/>
<path d="M-5.0 0.4L-2.4 12.4L0.9 27.0" stroke="#6a6a6a" stroke-width="0.96" fill="none" stroke-linejoin="round" stroke-linecap="round"/>
<circle cx="-0.4" cy="-4.7" r="0.85" fill="#e01414" />
<circle cx="0.0" cy="-1.1" r="0.85" fill="#e01414" />
<circle cx="-1.2" cy="0.7" r="0.85" fill="#e01414" />
<circle cx="2.0" cy="2.9" r="0.85" fill="#e01414" />
<circle cx="3.9" cy="2.6" r="0.85" fill="#e01414" />
<circle cx="-4.7" cy="6.6" r="0.85" fill="#e01414" />
<circle cx="-2.8" cy="6.9" r="0.85" fill="#e01414" />
<circle cx="-2.0" cy="5.8" r="0.85" fill="#e01414" />
<circle cx="0.8" cy="1.5" r="0.85" fill="#e01414" />
<circle cx="18.9" cy="2.3" r="0.85" fill="#e01414" />
<circle cx="20.9" cy="3.3" r="0.85" fill="#e01414" />
<circle cx="22.8" cy="4.2" r="0.85" fill="#e01414" />
<circle cx="23.6" cy="1.8" r="0.85" fill="#e01414" />
<circle cx="26.8" cy="1.5" r="0.85" fill="#e01414" />
<circle cx="28.7" cy="0.4" r="0.85" fill="#e01414" />
<circle cx="30.7" cy="0.1" r="0.85" fill="#e01414" />
<circle cx="32.7" cy="0.4" r="0.85" fill="#e01414" />
<circle cx="34.6" cy="2.2" r="0.85" fill="#e01414" />
<circle cx="36.6" cy="-5.5" r="0.85" fill="#e01414" />
<circle cx="37.0" cy="-3.3" r="0.85" fill="#e01414" />
<circle cx="37.8" cy="3.3" r="0.85" fill="#e01414" />
<circle cx="39.0" cy="4.7" r="0.85" fill="#e01414" />
<circle cx="-0.4" cy="23.4" r="0.85" fill="#e01414" />
<circle cx="2.4" cy="25.2" r="0.85" fill="#e01414" />
<circle cx="3.1" cy="27.0" r="0.85" fill="#e01414" />
<circle cx="5.1" cy="27.4" r="0.85" fill="#e01414" />
<circle cx="7.1" cy="27.4" r="0.85" fill="#e01414" />
<circle cx="8.7" cy="27.4" r="0.85" fill="#e01414" />
<circle cx="10.6" cy="25.9" r="0.85" fill="#e01414" />
<circle cx="13.4" cy="26.5" r="0.85" fill="#e01414" />
<circle cx="15.0" cy="23.7" r="0.85" fill="#e01414" />
<circle cx="16.5" cy="24.8" r="0.85" fill="#e01414" />
<circle cx="18.1" cy="25.6" r="0.85" fill="#e01414" />
<circle cx="1.6" cy="30.3" r="0.85" fill="#e01414" />
<circle cx="1.6" cy="32.9" r="0.85" fill="#e01414" />
<circle cx="37.8" cy="21.2" r="0.85" fill="#e01414" />
<circle cx="40.2" cy="19.4" r="0.85" fill="#e01414" />
<circle cx="41.7" cy="20.8" r="0.85" fill="#e01414" />
<circle cx="42.5" cy="22.7" r="0.85" fill="#e01414" />
<circle cx="33.9" cy="25.2" r="0.85" fill="#e01414" />
<circle cx="36.2" cy="25.2" r="0.85" fill="#e01414" />
<circle cx="38.2" cy="27.0" r="0.85" fill="#e01414" />
<circle cx="39.4" cy="27.8" r="0.85" fill="#e01414" />
<circle cx="42.5" cy="29.2" r="0.85" fill="#e01414" />
<circle cx="38.2" cy="31.4" r="0.85" fill="#e01414" />
<circle cx="38.2" cy="32.9" r="0.85" fill="#e01414" />
<circle cx="44.1" cy="25.6" r="0.85" fill="#e01414" />
<circle cx="39.8" cy="-0.6" r="0.85" fill="#e01414" />
<circle cx="41.6" cy="0.6" r="0.85" fill="#e01414" />
<circle cx="45.8" cy="-0.1" r="0.85" fill="#e01414" />
<circle cx="47.2" cy="1.0" r="0.85" fill="#e01414" />
<circle cx="46.3" cy="27.8" r="0.85" fill="#e01414" />
<circle cx="47.7" cy="27.2" r="0.85" fill="#e01414" />
<circle cx="-0.3" cy="31.1" r="0.85" fill="#e01414" />
<circle cx="0.0" cy="35.1" r="0.85" fill="#e01414" />
<circle cx="37.8" cy="31.1" r="0.85" fill="#e01414" />
<circle cx="37.3" cy="35.1" r="0.85" fill="#e01414" />
<circle cx="16.5" cy="-0.1" r="0.70" fill="#2636e6" />
<circle cx="0.0" cy="13.5" r="0.70" fill="#2636e6" />
<circle cx="37.6" cy="13.9" r="0.70" fill="#2636e6" />
<circle cx="21.4" cy="27.9" r="0.70" fill="#2636e6" />
<circle cx="-1.6" cy="4.0" r="1.60" fill="#16dc16" />
<circle cx="24.8" cy="3.3" r="1.60" fill="#16dc16" />
<circle cx="37.0" cy="-0.4" r="1.60" fill="#16dc16" />
<circle cx="12.8" cy="24.5" r="1.60" fill="#16dc16" />
<circle cx="0.4" cy="27.4" r="1.60" fill="#16dc16" />
<circle cx="39.4" cy="23.4" r="1.60" fill="#16dc16" />
<circle cx="42.9" cy="26.7" r="1.60" fill="#16dc16" />
<circle cx="43.1" cy="1.3" r="1.60" fill="#16dc16" />
<path d="M13.1 11.7L25.1 13.2" stroke="#d41ad4" stroke-width="1.2" stroke-linecap="round"/>
<path d="M13.6 10.7L24.6 16.7" stroke="#d41ad4" stroke-width="1.2" stroke-linecap="round"/>
<path d="M20.1 10.2L17.6 16.7" stroke="#d41ad4" stroke-width="1.2" stroke-linecap="round"/>
<path d="M14.1 11.2L21.1 14.7" stroke="#d41ad4" stroke-width="1.2" stroke-linecap="round"/>
<path d="M18.1 13.2L25.1 14.7" stroke="#d41ad4" stroke-width="1.2" stroke-linecap="round"/>
</g></defs>
<defs><clipPath id="ct2"><rect x="223" y="451" width="150" height="119.5"/></clipPath></defs>
<g filter="url(#soft)" clip-path="url(#ct2)">
<use href="#t2" x="228.1" y="459.6"/>
<use href="#t2" x="276.9" y="459.6"/>
<use href="#t2" x="325.7" y="459.6"/>
<use href="#t2" x="228.1" y="499.4"/>
<use href="#t2" x="276.9" y="499.4"/>
<use href="#t2" x="325.7" y="499.4"/>
<use href="#t2" x="228.1" y="539.2"/>
<use href="#t2" x="276.9" y="539.2"/>
<use href="#t2" x="325.7" y="539.2"/>
</g>
<defs><g id="t3">
<path d="M0.0 -0.9L2.4 1.2L9.2 0.6L18.3 1.6L25.1 3.5" stroke="#6a6a6a" stroke-width="0.6" fill="none" stroke-linejoin="round" stroke-linecap="round"/>
<path d="M8.4 0.2L15.9 -0.2L28.6 0.6L36.6 0.0" stroke="#6a6a6a" stroke-width="0.6" fill="none" stroke-linejoin="round" stroke-linecap="round"/>
<path d="M10.7 -3.9L18.3 -1.6L27.9 0.9L23.9 2.5L15.9 1.4L10.2 -2.7L10.7 -3.9" stroke="#6a6a6a" stroke-width="0.6" fill="none" stroke-linejoin="round" stroke-linecap="round"/>
<path d="M0.4 29.2L9.2 29.0L12.9 26.1" stroke="#6a6a6a" stroke-width="0.6" fill="none" stroke-linejoin="round" stroke-linecap="round"/>
<path d="M10.3 29.0L18.3 27.9L29.4 28.8L37.4 29.0" stroke="#6a6a6a" stroke-width="0.6" fill="none" stroke-linejoin="round" stroke-linecap="round"/>
<path d="M15.9 29.2L21.5 29.7L27.5 33.3L26.4 33.9L19.9 31.5L13.5 28.0" stroke="#6a6a6a" stroke-width="0.6" fill="none" stroke-linejoin="round" stroke-linecap="round"/>
<path d="M-0.2 -4.7L-0.2 0.8L0.0 14.0L0.0 24.9L0.6 29.2" stroke="#6a6a6a" stroke-width="0.6" fill="none" stroke-linejoin="round" stroke-linecap="round"/>
<path d="M0.0 0.8L-2.2 7.4L-3.0 12.5L0.4 23.4" stroke="#6a6a6a" stroke-width="0.6" fill="none" stroke-linejoin="round" stroke-linecap="round"/>
<path d="M-4.0 7.4L-2.2 13.2L1.0 24.9" stroke="#6a6a6a" stroke-width="0.6" fill="none" stroke-linejoin="round" stroke-linecap="round"/>
<path d="M37.8 -4.7L37.8 3.9L38.0 14.8L38.0 35.0" stroke="#6a6a6a" stroke-width="0.6" fill="none" stroke-linejoin="round" stroke-linecap="round"/>
<path d="M37.4 5.5L39.8 12.5L42.2 21.0" stroke="#6a6a6a" stroke-width="0.6" fill="none" stroke-linejoin="round" stroke-linecap="round"/>
<path d="M37.8 6.2L39.0 16.4L39.8 24.9" stroke="#6a6a6a" stroke-width="0.6" fill="none" stroke-linejoin="round" stroke-linecap="round"/>
<path d="M37.8 0.0L49.2 0.2" stroke="#6a6a6a" stroke-width="0.6" fill="none" stroke-linejoin="round" stroke-linecap="round"/>
<path d="M37.8 29.2L49.2 29.0" stroke="#6a6a6a" stroke-width="0.6" fill="none" stroke-linejoin="round" stroke-linecap="round"/>
<path d="M0.0 29.2L-0.2 41.0" stroke="#6a6a6a" stroke-width="0.6" fill="none" stroke-linejoin="round" stroke-linecap="round"/>
<path d="M38.0 29.2L37.9 41.0" stroke="#6a6a6a" stroke-width="0.6" fill="none" stroke-linejoin="round" stroke-linecap="round"/>
<path d="M2.4 0.6L15.9 -0.8L28.6 0.0L37.0 -0.6" stroke="#6a6a6a" stroke-width="0.6" fill="none" stroke-linejoin="round" stroke-linecap="round"/>
<path d="M0.8 29.8L9.2 29.6L18.3 28.6L29.4 29.5L37.4 29.7" stroke="#6a6a6a" stroke-width="0.6" fill="none" stroke-linejoin="round" stroke-linecap="round"/>
<path d="M9.9 -3.2L13.2 -0.8L16.0 0.4L22.3 1.6" stroke="#6a6a6a" stroke-width="0.6" fill="none" stroke-linejoin="round" stroke-linecap="round"/>
<path d="M27.9 32.4L24.6 30.0L21.8 28.8L15.5 27.6" stroke="#6a6a6a" stroke-width="0.6" fill="none" stroke-linejoin="round" stroke-linecap="round"/>
<path d="M37.7 0.4L40.2 12.5L44.7 28.8" stroke="#6a6a6a" stroke-width="0.96" fill="none" stroke-linejoin="round" stroke-linecap="round"/>
<path d="M-5.1 0.4L-2.4 13.2L1.0 28.8" stroke="#6a6a6a" stroke-width="0.96" fill="none" stroke-linejoin="round" stroke-linecap="round"/>
<circle cx="-0.4" cy="-5.1" r="0.85" fill="#e01414" />
<circle cx="0.0" cy="-1.2" r="0.85" fill="#e01414" />
<circle cx="-1.2" cy="0.8" r="0.85" fill="#e01414" />
<circle cx="2.0" cy="3.1" r="0.85" fill="#e01414" />
<circle cx="4.0" cy="2.7" r="0.85" fill="#e01414" />
<circle cx="-4.8" cy="7.0" r="0.85" fill="#e01414" />
<circle cx="-2.8" cy="7.4" r="0.85" fill="#e01414" />
<circle cx="-2.0" cy="6.2" r="0.85" fill="#e01414" />
<circle cx="0.8" cy="1.6" r="0.85" fill="#e01414" />
<circle cx="19.1" cy="2.5" r="0.85" fill="#e01414" />
<circle cx="21.1" cy="3.5" r="0.85" fill="#e01414" />
<circle cx="23.1" cy="4.5" r="0.85" fill="#e01414" />
<circle cx="23.9" cy="1.9" r="0.85" fill="#e01414" />
<circle cx="27.1" cy="1.6" r="0.85" fill="#e01414" />
<circle cx="29.0" cy="0.4" r="0.85" fill="#e01414" />
<circle cx="31.0" cy="0.2" r="0.85" fill="#e01414" />
<circle cx="33.0" cy="0.4" r="0.85" fill="#e01414" />
<circle cx="35.0" cy="2.3" r="0.85" fill="#e01414" />
<circle cx="37.0" cy="-5.8" r="0.85" fill="#e01414" />
<circle cx="37.4" cy="-3.5" r="0.85" fill="#e01414" />
<circle cx="38.2" cy="3.5" r="0.85" fill="#e01414" />
<circle cx="39.4" cy="5.1" r="0.85" fill="#e01414" />
<circle cx="-0.4" cy="24.9" r="0.85" fill="#e01414" />
<circle cx="2.4" cy="26.9" r="0.85" fill="#e01414" />
<circle cx="3.2" cy="28.8" r="0.85" fill="#e01414" />
<circle cx="5.2" cy="29.2" r="0.85" fill="#e01414" />
<circle cx="7.2" cy="29.2" r="0.85" fill="#e01414" />
<circle cx="8.8" cy="29.2" r="0.85" fill="#e01414" />
<circle cx="10.7" cy="27.6" r="0.85" fill="#e01414" />
<circle cx="13.5" cy="28.2" r="0.85" fill="#e01414" />
<circle cx="15.1" cy="25.3" r="0.85" fill="#e01414" />
<circle cx="16.7" cy="26.5" r="0.85" fill="#e01414" />
<circle cx="18.3" cy="27.3" r="0.85" fill="#e01414" />
<circle cx="1.6" cy="32.3" r="0.85" fill="#e01414" />
<circle cx="1.6" cy="35.0" r="0.85" fill="#e01414" />
<circle cx="38.2" cy="22.6" r="0.85" fill="#e01414" />
<circle cx="40.6" cy="20.6" r="0.85" fill="#e01414" />
<circle cx="42.2" cy="22.2" r="0.85" fill="#e01414" />
<circle cx="43.0" cy="24.1" r="0.85" fill="#e01414" />
<circle cx="34.2" cy="26.9" r="0.85" fill="#e01414" />
<circle cx="36.6" cy="26.9" r="0.85" fill="#e01414" />
<circle cx="38.6" cy="28.8" r="0.85" fill="#e01414" />
<circle cx="39.8" cy="29.6" r="0.85" fill="#e01414" />
<circle cx="43.0" cy="31.1" r="0.85" fill="#e01414" />
<circle cx="38.6" cy="33.5" r="0.85" fill="#e01414" />
<circle cx="38.6" cy="35.0" r="0.85" fill="#e01414" />
<circle cx="44.6" cy="27.3" r="0.85" fill="#e01414" />
<circle cx="40.2" cy="-0.6" r="0.85" fill="#e01414" />
<circle cx="42.0" cy="0.6" r="0.85" fill="#e01414" />
<circle cx="46.3" cy="-0.2" r="0.85" fill="#e01414" />
<circle cx="47.7" cy="1.1" r="0.85" fill="#e01414" />
<circle cx="46.8" cy="29.6" r="0.85" fill="#e01414" />
<circle cx="48.2" cy="29.0" r="0.85" fill="#e01414" />
<circle cx="-0.3" cy="33.1" r="0.85" fill="#e01414" />
<circle cx="0.0" cy="37.4" r="0.85" fill="#e01414" />
<circle cx="38.2" cy="33.1" r="0.85" fill="#e01414" />
<circle cx="37.7" cy="37.4" r="0.85" fill="#e01414" />
<circle cx="16.7" cy="-0.2" r="0.70" fill="#2636e6" />
<circle cx="0.0" cy="14.4" r="0.70" fill="#2636e6" />
<circle cx="38.0" cy="14.8" r="0.70" fill="#2636e6" />
<circle cx="21.6" cy="29.7" r="0.70" fill="#2636e6" />
<circle cx="-1.6" cy="4.3" r="1.60" fill="#16dc16" />
<circle cx="25.1" cy="3.5" r="1.60" fill="#16dc16" />
<circle cx="37.4" cy="-0.4" r="1.60" fill="#16dc16" />
<circle cx="12.9" cy="26.1" r="1.60" fill="#16dc16" />
<circle cx="0.4" cy="29.2" r="1.60" fill="#16dc16" />
<circle cx="39.8" cy="24.9" r="1.60" fill="#16dc16" />
<circle cx="43.4" cy="28.4" r="1.60" fill="#16dc16" />
<circle cx="43.6" cy="1.4" r="1.60" fill="#16dc16" />
<ellipse cx="13.95" cy="19.99" rx="3.2" ry="5.2" transform="rotate(-20 13.95 19.42)" fill="none" stroke="#d41ad4" stroke-width="1.5"/>
<ellipse cx="18.55" cy="18.84" rx="3.2" ry="5.2" transform="rotate(-20 18.55 19.42)" fill="none" stroke="#d41ad4" stroke-width="1.5"/>
<path d="M10.1 20.4L22.5 17.5" stroke="#d41ad4" stroke-width="1.2" />
<ellipse cx="23.78" cy="12.84" rx="3.2" ry="5.2" transform="rotate(-20 23.78 12.26)" fill="none" stroke="#d41ad4" stroke-width="1.5"/>
<ellipse cx="28.38" cy="11.69" rx="3.2" ry="5.2" transform="rotate(-20 28.38 12.26)" fill="none" stroke="#d41ad4" stroke-width="1.5"/>
<path d="M19.9 13.3L32.3 10.4" stroke="#d41ad4" stroke-width="1.2" />
<path d="M18.9 17.5L23.4 14.3" stroke="#d41ad4" stroke-width="1.2" />
</g></defs>
<defs><clipPath id="ct3"><rect x="706" y="446" width="150.5" height="125"/></clipPath></defs>
<g filter="url(#soft)" clip-path="url(#ct3)">
<use href="#t3" x="711.1" y="454.6"/>
<use href="#t3" x="760.8" y="454.6"/>
<use href="#t3" x="810.5" y="454.6"/>
<use href="#t3" x="711.1" y="495.6"/>
<use href="#t3" x="760.8" y="495.6"/>
<use href="#t3" x="810.5" y="495.6"/>
<use href="#t3" x="711.1" y="536.6"/>
<use href="#t3" x="760.8" y="536.6"/>
<use href="#t3" x="810.5" y="536.6"/>
</g>
<defs><g id="t4">
<path d="M-1.5 4.0L1.3 4.9" stroke="#e01414" stroke-width="0.8" stroke-linecap="round"/>
<circle cx="1.3" cy="4.9" r="0.75" fill="#e01414" />
<path d="M-1.5 4.0L-0.9 7.0" stroke="#e01414" stroke-width="0.8" stroke-linecap="round"/>
<circle cx="-0.9" cy="7.0" r="0.75" fill="#e01414" />
<path d="M-1.5 4.0L-3.7 6.1" stroke="#e01414" stroke-width="0.8" stroke-linecap="round"/>
<circle cx="-3.7" cy="6.1" r="0.75" fill="#e01414" />
<path d="M-1.5 4.0L-4.4 3.2" stroke="#e01414" stroke-width="0.8" stroke-linecap="round"/>
<circle cx="-4.4" cy="3.2" r="0.75" fill="#e01414" />
<path d="M-1.5 4.0L-2.2 1.1" stroke="#e01414" stroke-width="0.8" stroke-linecap="round"/>
<circle cx="-2.2" cy="1.1" r="0.75" fill="#e01414" />
<path d="M-1.5 4.0L0.7 2.0" stroke="#e01414" stroke-width="0.8" stroke-linecap="round"/>
<circle cx="0.7" cy="2.0" r="0.75" fill="#e01414" />
<path d="M24.1 3.3L27.0 4.2" stroke="#e01414" stroke-width="0.8" stroke-linecap="round"/>
<circle cx="27.0" cy="4.2" r="0.75" fill="#e01414" />
<path d="M24.1 3.3L24.8 6.2" stroke="#e01414" stroke-width="0.8" stroke-linecap="round"/>
<circle cx="24.8" cy="6.2" r="0.75" fill="#e01414" />
<path d="M24.1 3.3L21.9 5.4" stroke="#e01414" stroke-width="0.8" stroke-linecap="round"/>
<circle cx="21.9" cy="5.4" r="0.75" fill="#e01414" />
<path d="M24.1 3.3L21.3 2.4" stroke="#e01414" stroke-width="0.8" stroke-linecap="round"/>
<circle cx="21.3" cy="2.4" r="0.75" fill="#e01414" />
<path d="M24.1 3.3L23.5 0.4" stroke="#e01414" stroke-width="0.8" stroke-linecap="round"/>
<circle cx="23.5" cy="0.4" r="0.75" fill="#e01414" />
<path d="M24.1 3.3L26.3 1.3" stroke="#e01414" stroke-width="0.8" stroke-linecap="round"/>
<circle cx="26.3" cy="1.3" r="0.75" fill="#e01414" />
<path d="M36.0 -0.4L38.9 0.5" stroke="#e01414" stroke-width="0.8" stroke-linecap="round"/>
<circle cx="38.9" cy="0.5" r="0.75" fill="#e01414" />
<path d="M36.0 -0.4L36.7 2.6" stroke="#e01414" stroke-width="0.8" stroke-linecap="round"/>
<circle cx="36.7" cy="2.6" r="0.75" fill="#e01414" />
<path d="M36.0 -0.4L33.8 1.7" stroke="#e01414" stroke-width="0.8" stroke-linecap="round"/>
<circle cx="33.8" cy="1.7" r="0.75" fill="#e01414" />
<path d="M36.0 -0.4L33.2 -1.3" stroke="#e01414" stroke-width="0.8" stroke-linecap="round"/>
<circle cx="33.2" cy="-1.3" r="0.75" fill="#e01414" />
<path d="M36.0 -0.4L35.4 -3.3" stroke="#e01414" stroke-width="0.8" stroke-linecap="round"/>
<circle cx="35.4" cy="-3.3" r="0.75" fill="#e01414" />
<path d="M36.0 -0.4L38.2 -2.4" stroke="#e01414" stroke-width="0.8" stroke-linecap="round"/>
<circle cx="38.2" cy="-2.4" r="0.75" fill="#e01414" />
<path d="M12.4 24.7L15.3 25.5" stroke="#e01414" stroke-width="0.8" stroke-linecap="round"/>
<circle cx="15.3" cy="25.5" r="0.75" fill="#e01414" />
<path d="M12.4 24.7L13.1 27.6" stroke="#e01414" stroke-width="0.8" stroke-linecap="round"/>
<circle cx="13.1" cy="27.6" r="0.75" fill="#e01414" />
<path d="M12.4 24.7L10.2 26.7" stroke="#e01414" stroke-width="0.8" stroke-linecap="round"/>
<circle cx="10.2" cy="26.7" r="0.75" fill="#e01414" />
<path d="M12.4 24.7L9.5 23.8" stroke="#e01414" stroke-width="0.8" stroke-linecap="round"/>
<circle cx="9.5" cy="23.8" r="0.75" fill="#e01414" />
<path d="M12.4 24.7L11.7 21.7" stroke="#e01414" stroke-width="0.8" stroke-linecap="round"/>
<circle cx="11.7" cy="21.7" r="0.75" fill="#e01414" />
<path d="M12.4 24.7L14.6 22.6" stroke="#e01414" stroke-width="0.8" stroke-linecap="round"/>
<circle cx="14.6" cy="22.6" r="0.75" fill="#e01414" />
<path d="M0.4 27.6L3.2 28.5" stroke="#e01414" stroke-width="0.8" stroke-linecap="round"/>
<circle cx="3.2" cy="28.5" r="0.75" fill="#e01414" />
<path d="M0.4 27.6L1.0 30.5" stroke="#e01414" stroke-width="0.8" stroke-linecap="round"/>
<circle cx="1.0" cy="30.5" r="0.75" fill="#e01414" />
<path d="M0.4 27.6L-1.8 29.6" stroke="#e01414" stroke-width="0.8" stroke-linecap="round"/>
<circle cx="-1.8" cy="29.6" r="0.75" fill="#e01414" />
<path d="M0.4 27.6L-2.5 26.7" stroke="#e01414" stroke-width="0.8" stroke-linecap="round"/>
<circle cx="-2.5" cy="26.7" r="0.75" fill="#e01414" />
<path d="M0.4 27.6L-0.3 24.7" stroke="#e01414" stroke-width="0.8" stroke-linecap="round"/>
<circle cx="-0.3" cy="24.7" r="0.75" fill="#e01414" />
<path d="M0.4 27.6L2.6 25.6" stroke="#e01414" stroke-width="0.8" stroke-linecap="round"/>
<circle cx="2.6" cy="25.6" r="0.75" fill="#e01414" />
<path d="M38.3 23.6L41.2 24.4" stroke="#e01414" stroke-width="0.8" stroke-linecap="round"/>
<circle cx="41.2" cy="24.4" r="0.75" fill="#e01414" />
<path d="M38.3 23.6L39.0 26.5" stroke="#e01414" stroke-width="0.8" stroke-linecap="round"/>
<circle cx="39.0" cy="26.5" r="0.75" fill="#e01414" />
<path d="M38.3 23.6L36.1 25.6" stroke="#e01414" stroke-width="0.8" stroke-linecap="round"/>
<circle cx="36.1" cy="25.6" r="0.75" fill="#e01414" />
<path d="M38.3 23.6L35.4 22.7" stroke="#e01414" stroke-width="0.8" stroke-linecap="round"/>
<circle cx="35.4" cy="22.7" r="0.75" fill="#e01414" />
<path d="M38.3 23.6L37.7 20.6" stroke="#e01414" stroke-width="0.8" stroke-linecap="round"/>
<circle cx="37.7" cy="20.6" r="0.75" fill="#e01414" />
<path d="M38.3 23.6L40.5 21.5" stroke="#e01414" stroke-width="0.8" stroke-linecap="round"/>
<circle cx="40.5" cy="21.5" r="0.75" fill="#e01414" />
<path d="M41.8 26.9L44.6 27.8" stroke="#e01414" stroke-width="0.8" stroke-linecap="round"/>
<circle cx="44.6" cy="27.8" r="0.75" fill="#e01414" />
<path d="M41.8 26.9L42.4 29.8" stroke="#e01414" stroke-width="0.8" stroke-linecap="round"/>
<circle cx="42.4" cy="29.8" r="0.75" fill="#e01414" />
<path d="M41.8 26.9L39.6 28.9" stroke="#e01414" stroke-width="0.8" stroke-linecap="round"/>
<circle cx="39.6" cy="28.9" r="0.75" fill="#e01414" />
<path d="M41.8 26.9L38.9 26.0" stroke="#e01414" stroke-width="0.8" stroke-linecap="round"/>
<circle cx="38.9" cy="26.0" r="0.75" fill="#e01414" />
<path d="M41.8 26.9L41.1 23.9" stroke="#e01414" stroke-width="0.8" stroke-linecap="round"/>
<circle cx="41.1" cy="23.9" r="0.75" fill="#e01414" />
<path d="M41.8 26.9L44.0 24.8" stroke="#e01414" stroke-width="0.8" stroke-linecap="round"/>
<circle cx="44.0" cy="24.8" r="0.75" fill="#e01414" />
<path d="M0.0 -0.9L2.3 1.1L8.8 0.6L17.6 1.5L24.1 3.3" stroke="#4a4a4a" stroke-width="0.8" fill="none" stroke-linejoin="round" stroke-linecap="round"/>
<path d="M8.0 0.1L15.3 -0.1L27.6 0.6L35.3 0.0" stroke="#4a4a4a" stroke-width="0.8" fill="none" stroke-linejoin="round" stroke-linecap="round"/>
<path d="M10.3 -3.7L17.6 -1.5L26.8 0.9L23.0 2.4L15.3 1.3L9.8 -2.6L10.3 -3.7" stroke="#4a4a4a" stroke-width="0.8" fill="none" stroke-linejoin="round" stroke-linecap="round"/>
<path d="M0.4 27.6L8.8 27.4L12.4 24.7" stroke="#4a4a4a" stroke-width="0.8" fill="none" stroke-linejoin="round" stroke-linecap="round"/>
<path d="M10.0 27.4L17.6 26.3L28.4 27.2L36.0 27.4" stroke="#4a4a4a" stroke-width="0.8" fill="none" stroke-linejoin="round" stroke-linecap="round"/>
<path d="M15.3 27.6L20.7 28.1L26.4 31.5L25.4 32.1L19.2 29.8L13.0 26.5" stroke="#4a4a4a" stroke-width="0.8" fill="none" stroke-linejoin="round" stroke-linecap="round"/>
<path d="M-0.2 -4.4L-0.2 0.7L0.0 13.2L0.0 23.6L0.6 27.6" stroke="#4a4a4a" stroke-width="0.8" fill="none" stroke-linejoin="round" stroke-linecap="round"/>
<path d="M0.0 0.7L-2.1 7.0L-2.9 11.8L0.4 22.1" stroke="#4a4a4a" stroke-width="0.8" fill="none" stroke-linejoin="round" stroke-linecap="round"/>
<path d="M-3.8 7.0L-2.1 12.5L0.9 23.6" stroke="#4a4a4a" stroke-width="0.8" fill="none" stroke-linejoin="round" stroke-linecap="round"/>
<path d="M36.4 -4.4L36.4 3.7L36.6 14.0L36.6 33.1" stroke="#4a4a4a" stroke-width="0.8" fill="none" stroke-linejoin="round" stroke-linecap="round"/>
<path d="M36.0 5.2L38.3 11.8L40.6 19.9" stroke="#4a4a4a" stroke-width="0.8" fill="none" stroke-linejoin="round" stroke-linecap="round"/>
<path d="M36.4 5.9L37.5 15.5L38.3 23.6" stroke="#4a4a4a" stroke-width="0.8" fill="none" stroke-linejoin="round" stroke-linecap="round"/>
<path d="M36.4 0.0L47.4 0.1" stroke="#4a4a4a" stroke-width="0.8" fill="none" stroke-linejoin="round" stroke-linecap="round"/>
<path d="M36.4 27.6L47.4 27.5" stroke="#4a4a4a" stroke-width="0.8" fill="none" stroke-linejoin="round" stroke-linecap="round"/>
<path d="M0.0 27.6L-0.2 38.7" stroke="#4a4a4a" stroke-width="0.8" fill="none" stroke-linejoin="round" stroke-linecap="round"/>
<path d="M36.6 27.6L36.5 38.7" stroke="#4a4a4a" stroke-width="0.8" fill="none" stroke-linejoin="round" stroke-linecap="round"/>
<path d="M2.3 0.6L15.3 -0.7L27.6 0.0L35.6 -0.6" stroke="#4a4a4a" stroke-width="0.8" fill="none" stroke-linejoin="round" stroke-linecap="round"/>
<path d="M0.8 28.2L8.8 28.0L17.6 27.0L28.4 27.9L36.0 28.0" stroke="#4a4a4a" stroke-width="0.8" fill="none" stroke-linejoin="round" stroke-linecap="round"/>
<path d="M9.5 -3.0L12.7 -0.7L15.4 0.4L21.5 1.5" stroke="#4a4a4a" stroke-width="0.8" fill="none" stroke-linejoin="round" stroke-linecap="round"/>
<path d="M26.9 30.6L23.7 28.3L21.0 27.2L14.9 26.1" stroke="#4a4a4a" stroke-width="0.8" fill="none" stroke-linejoin="round" stroke-linecap="round"/>
<path d="M36.3 0.4L38.7 11.8L43.1 27.2" stroke="#4a4a4a" stroke-width="1.2800000000000002" fill="none" stroke-linejoin="round" stroke-linecap="round"/>
<path d="M-4.9 0.4L-2.3 12.5L0.9 27.2" stroke="#4a4a4a" stroke-width="1.2800000000000002" fill="none" stroke-linejoin="round" stroke-linecap="round"/>
<circle cx="-0.4" cy="-4.8" r="0.95" fill="#e01414" />
<circle cx="0.0" cy="-1.1" r="0.95" fill="#e01414" />
<circle cx="-1.1" cy="0.7" r="0.95" fill="#e01414" />
<circle cx="1.9" cy="2.9" r="0.95" fill="#e01414" />
<circle cx="3.8" cy="2.6" r="0.95" fill="#e01414" />
<circle cx="-4.6" cy="6.6" r="0.95" fill="#e01414" />
<circle cx="-2.7" cy="7.0" r="0.95" fill="#e01414" />
<circle cx="-1.9" cy="5.9" r="0.95" fill="#e01414" />
<circle cx="0.8" cy="1.5" r="0.95" fill="#e01414" />
<circle cx="18.4" cy="2.4" r="0.95" fill="#e01414" />
<circle cx="20.3" cy="3.3" r="0.95" fill="#e01414" />
<circle cx="22.2" cy="4.3" r="0.95" fill="#e01414" />
<circle cx="23.0" cy="1.8" r="0.95" fill="#e01414" />
<circle cx="26.1" cy="1.5" r="0.95" fill="#e01414" />
<circle cx="28.0" cy="0.4" r="0.95" fill="#e01414" />
<circle cx="29.9" cy="0.1" r="0.95" fill="#e01414" />
<circle cx="31.8" cy="0.4" r="0.95" fill="#e01414" />
<circle cx="33.7" cy="2.2" r="0.95" fill="#e01414" />
<circle cx="35.6" cy="-5.5" r="0.95" fill="#e01414" />
<circle cx="36.0" cy="-3.3" r="0.95" fill="#e01414" />
<circle cx="36.8" cy="3.3" r="0.95" fill="#e01414" />
<circle cx="37.9" cy="4.8" r="0.95" fill="#e01414" />
<circle cx="-0.4" cy="23.6" r="0.95" fill="#e01414" />
<circle cx="2.3" cy="25.4" r="0.95" fill="#e01414" />
<circle cx="3.1" cy="27.2" r="0.95" fill="#e01414" />
<circle cx="5.0" cy="27.6" r="0.95" fill="#e01414" />
<circle cx="6.9" cy="27.6" r="0.95" fill="#e01414" />
<circle cx="8.4" cy="27.6" r="0.95" fill="#e01414" />
<circle cx="10.3" cy="26.1" r="0.95" fill="#e01414" />
<circle cx="13.0" cy="26.6" r="0.95" fill="#e01414" />
<circle cx="14.6" cy="23.9" r="0.95" fill="#e01414" />
<circle cx="16.1" cy="25.0" r="0.95" fill="#e01414" />
<circle cx="17.6" cy="25.8" r="0.95" fill="#e01414" />
<circle cx="1.5" cy="30.5" r="0.95" fill="#e01414" />
<circle cx="1.5" cy="33.1" r="0.95" fill="#e01414" />
<circle cx="36.8" cy="21.3" r="0.95" fill="#e01414" />
<circle cx="39.1" cy="19.5" r="0.95" fill="#e01414" />
<circle cx="40.6" cy="21.0" r="0.95" fill="#e01414" />
<circle cx="41.4" cy="22.8" r="0.95" fill="#e01414" />
<circle cx="33.0" cy="25.4" r="0.95" fill="#e01414" />
<circle cx="35.3" cy="25.4" r="0.95" fill="#e01414" />
<circle cx="37.2" cy="27.2" r="0.95" fill="#e01414" />
<circle cx="38.3" cy="28.0" r="0.95" fill="#e01414" />
<circle cx="41.4" cy="29.4" r="0.95" fill="#e01414" />
<circle cx="37.2" cy="31.6" r="0.95" fill="#e01414" />
<circle cx="37.2" cy="33.1" r="0.95" fill="#e01414" />
<circle cx="42.9" cy="25.8" r="0.95" fill="#e01414" />
<circle cx="38.7" cy="-0.6" r="0.95" fill="#e01414" />
<circle cx="40.5" cy="0.6" r="0.95" fill="#e01414" />
<circle cx="44.6" cy="-0.1" r="0.95" fill="#e01414" />
<circle cx="46.0" cy="1.0" r="0.95" fill="#e01414" />
<circle cx="45.1" cy="28.0" r="0.95" fill="#e01414" />
<circle cx="46.4" cy="27.4" r="0.95" fill="#e01414" />
<circle cx="-0.3" cy="31.3" r="0.95" fill="#e01414" />
<circle cx="0.0" cy="35.3" r="0.95" fill="#e01414" />
<circle cx="36.8" cy="31.3" r="0.95" fill="#e01414" />
<circle cx="36.3" cy="35.3" r="0.95" fill="#e01414" />
<circle cx="16.1" cy="-0.1" r="0.85" fill="#2636e6" />
<circle cx="0.0" cy="13.6" r="0.85" fill="#2636e6" />
<circle cx="36.6" cy="14.0" r="0.85" fill="#2636e6" />
<circle cx="20.8" cy="28.1" r="0.85" fill="#2636e6" />
<circle cx="-1.5" cy="4.0" r="1.80" fill="#16dc16" />
<circle cx="24.1" cy="3.3" r="1.80" fill="#16dc16" />
<circle cx="36.0" cy="-0.4" r="1.80" fill="#16dc16" />
<circle cx="12.4" cy="24.7" r="1.80" fill="#16dc16" />
<circle cx="0.4" cy="27.6" r="1.80" fill="#16dc16" />
<circle cx="38.3" cy="23.6" r="1.80" fill="#16dc16" />
<circle cx="41.8" cy="26.9" r="1.80" fill="#16dc16" />
<circle cx="42.0" cy="1.3" r="1.80" fill="#16dc16" />
<ellipse cx="8.60" cy="13.80" rx="2.75" ry="4.0" transform="rotate(-18 8.60 13.80)" fill="none" stroke="#d41ad4" stroke-width="2.5"/>
<ellipse cx="15.05" cy="13.80" rx="2.75" ry="4.4" transform="rotate(0 15.05 13.80)" fill="none" stroke="#d41ad4" stroke-width="2.5"/>
<ellipse cx="21.35" cy="13.80" rx="2.75" ry="4.4" transform="rotate(0 21.35 13.80)" fill="none" stroke="#d41ad4" stroke-width="2.5"/>
<ellipse cx="27.80" cy="13.80" rx="2.75" ry="4.0" transform="rotate(18 27.80 13.80)" fill="none" stroke="#d41ad4" stroke-width="2.5"/>
<path d="M4.0 14.1L7.2 14.1" stroke="#d41ad4" stroke-width="1.4" />
<path d="M29.2 13.5L32.4 13.5" stroke="#d41ad4" stroke-width="1.4" />
</g></defs>
<defs><clipPath id="ct4"><rect x="556" y="447" width="143.5" height="123"/></clipPath></defs>
<g filter="url(#soft)" clip-path="url(#ct4)">
<use href="#t4" x="562.0" y="457.8"/>
<use href="#t4" x="610.3" y="457.8"/>
<use href="#t4" x="658.6" y="457.8"/>
<use href="#t4" x="562.0" y="496.8"/>
<use href="#t4" x="610.3" y="496.8"/>
<use href="#t4" x="658.6" y="496.8"/>
<use href="#t4" x="562.0" y="535.8"/>
<use href="#t4" x="610.3" y="535.8"/>
<use href="#t4" x="658.6" y="535.8"/>
</g>
<defs><g id="t5">
<path d="M13.1 28.1L28.7 31.6L26.1 37.1L12.1 33.6Z" stroke="#d01818" stroke-width="1.25" fill="none" stroke-dasharray="2 0.9"/>
<circle cx="13.1" cy="28.1" r="1.70" fill="#16dc16" />
<circle cx="26.1" cy="37.1" r="1.70" fill="#16dc16" />
<path d="M6.5 -0.2L17.6 -0.5L23.6 1.0" stroke="#686868" stroke-width="0.9" fill="none" stroke-linejoin="round" stroke-linecap="round"/>
<path d="M9.6 -1.8L16.6 -3.0L23.6 -0.2" stroke="#686868" stroke-width="0.9" fill="none" stroke-linejoin="round" stroke-linecap="round"/>
<path d="M15.6 26.6L23.6 27.1L29.7 29.1" stroke="#686868" stroke-width="0.9" fill="none" stroke-linejoin="round" stroke-linecap="round"/>
<path d="M20.6 28.1L27.6 30.1L20.6 26.6" stroke="#686868" stroke-width="0.9" fill="none" stroke-linejoin="round" stroke-linecap="round"/>
<path d="M0.5 5.0L0.0 13.1L1.0 21.1" stroke="#686868" stroke-width="0.9" fill="none" stroke-linejoin="round" stroke-linecap="round"/>
<path d="M-1.0 7.0L1.5 17.1L0.5 22.1" stroke="#686868" stroke-width="0.9" fill="none" stroke-linejoin="round" stroke-linecap="round"/>
<path d="M37.7 5.0L38.7 17.1L38.2 22.1" stroke="#686868" stroke-width="0.9" fill="none" stroke-linejoin="round" stroke-linecap="round"/>
<path d="M36.7 7.0L39.7 13.1L37.7 21.1" stroke="#686868" stroke-width="0.9" fill="none" stroke-linejoin="round" stroke-linecap="round"/>
<path d="M37.7 2.0L40.7 25.6" stroke="#5a5a5a" stroke-width="1.0" fill="none" stroke-linecap="round"/>
<path d="M40.2 1.0L43.9 24.3" stroke="#5a5a5a" stroke-width="1.0" fill="none" stroke-linecap="round"/>
<path d="M42.9 2.0L46.9 25.6" stroke="#5a5a5a" stroke-width="1.0" fill="none" stroke-linecap="round"/>
<circle cx="39.7" cy="7.0" r="1.10" fill="#d81414" />
<circle cx="41.9" cy="17.1" r="1.10" fill="#d81414" />
<circle cx="44.7" cy="12.0" r="1.10" fill="#d81414" />
<circle cx="43.2" cy="5.0" r="1.10" fill="#d81414" />
<circle cx="40.7" cy="21.1" r="1.10" fill="#d81414" />
<circle cx="45.9" cy="20.1" r="1.10" fill="#d81414" />
<circle cx="5.5" cy="-0.8" r="1.10" fill="#d81414" />
<circle cx="11.1" cy="1.0" r="1.10" fill="#d81414" />
<circle cx="20.6" cy="-1.2" r="1.10" fill="#d81414" />
<circle cx="32.7" cy="-0.4" r="1.10" fill="#d81414" />
<circle cx="5.5" cy="26.7" r="1.10" fill="#d81414" />
<circle cx="15.6" cy="25.7" r="1.10" fill="#d81414" />
<circle cx="30.7" cy="27.3" r="1.10" fill="#d81414" />
<circle cx="34.7" cy="25.7" r="1.10" fill="#d81414" />
<circle cx="0.5" cy="10.0" r="1.10" fill="#d81414" />
<circle cx="-0.3" cy="17.1" r="1.10" fill="#d81414" />
<circle cx="38.7" cy="10.0" r="1.10" fill="#d81414" />
<circle cx="39.3" cy="18.1" r="1.10" fill="#d81414" />
<path d="M0.0 -0.8L2.4 1.0L9.2 0.6L18.5 1.4L25.3 3.1" stroke="#606060" stroke-width="0.75" fill="none" stroke-linejoin="round" stroke-linecap="round"/>
<path d="M8.4 0.1L16.1 -0.1L29.0 0.6L37.0 0.0" stroke="#606060" stroke-width="0.75" fill="none" stroke-linejoin="round" stroke-linecap="round"/>
<path d="M10.9 -3.5L18.5 -1.4L28.1 0.8L24.1 2.2L16.1 1.3L10.3 -2.4L10.9 -3.5" stroke="#606060" stroke-width="0.75" fill="none" stroke-linejoin="round" stroke-linecap="round"/>
<path d="M0.4 26.1L9.2 25.9L13.0 23.3" stroke="#606060" stroke-width="0.75" fill="none" stroke-linejoin="round" stroke-linecap="round"/>
<path d="M10.5 25.9L18.5 24.9L29.8 25.8L37.8 25.9" stroke="#606060" stroke-width="0.75" fill="none" stroke-linejoin="round" stroke-linecap="round"/>
<path d="M16.1 26.1L21.7 26.6L27.7 29.8L26.7 30.3L20.1 28.2L13.7 25.1" stroke="#606060" stroke-width="0.75" fill="none" stroke-linejoin="round" stroke-linecap="round"/>
<path d="M-0.2 -4.2L-0.2 0.7L0.0 12.5L0.0 22.3L0.6 26.1" stroke="#606060" stroke-width="0.75" fill="none" stroke-linejoin="round" stroke-linecap="round"/>
<path d="M0.0 0.7L-2.3 6.6L-3.1 11.1L0.4 20.9" stroke="#606060" stroke-width="0.75" fill="none" stroke-linejoin="round" stroke-linecap="round"/>
<path d="M-4.0 6.6L-2.3 11.8L1.0 22.3" stroke="#606060" stroke-width="0.75" fill="none" stroke-linejoin="round" stroke-linecap="round"/>
<path d="M38.2 -4.2L38.2 3.5L38.4 13.2L38.4 31.3" stroke="#606060" stroke-width="0.75" fill="none" stroke-linejoin="round" stroke-linecap="round"/>
<path d="M37.8 4.9L40.2 11.1L42.6 18.8" stroke="#606060" stroke-width="0.75" fill="none" stroke-linejoin="round" stroke-linecap="round"/>
<path d="M38.2 5.6L39.4 14.6L40.2 22.3" stroke="#606060" stroke-width="0.75" fill="none" stroke-linejoin="round" stroke-linecap="round"/>
<path d="M38.2 0.0L49.7 0.1" stroke="#606060" stroke-width="0.75" fill="none" stroke-linejoin="round" stroke-linecap="round"/>
<path d="M38.2 26.1L49.7 26.0" stroke="#606060" stroke-width="0.75" fill="none" stroke-linejoin="round" stroke-linecap="round"/>
<path d="M0.0 26.1L-0.2 36.6" stroke="#606060" stroke-width="0.75" fill="none" stroke-linejoin="round" stroke-linecap="round"/>
<path d="M38.4 26.1L38.3 36.6" stroke="#606060" stroke-width="0.75" fill="none" stroke-linejoin="round" stroke-linecap="round"/>
<path d="M2.4 0.6L16.1 -0.7L29.0 0.0L37.4 -0.6" stroke="#606060" stroke-width="0.75" fill="none" stroke-linejoin="round" stroke-linecap="round"/>
<path d="M0.8 26.7L9.2 26.4L18.5 25.5L29.8 26.4L37.8 26.5" stroke="#606060" stroke-width="0.75" fill="none" stroke-linejoin="round" stroke-linecap="round"/>
<path d="M10.0 -2.9L13.3 -0.7L16.2 0.3L22.5 1.4" stroke="#606060" stroke-width="0.75" fill="none" stroke-linejoin="round" stroke-linecap="round"/>
<path d="M28.2 29.0L24.9 26.8L22.0 25.8L15.7 24.7" stroke="#606060" stroke-width="0.75" fill="none" stroke-linejoin="round" stroke-linecap="round"/>
<path d="M38.1 0.3L40.6 11.1L45.2 25.8" stroke="#606060" stroke-width="1.2000000000000002" fill="none" stroke-linejoin="round" stroke-linecap="round"/>
<path d="M-5.1 0.3L-2.4 11.8L1.0 25.8" stroke="#606060" stroke-width="1.2000000000000002" fill="none" stroke-linejoin="round" stroke-linecap="round"/>
<circle cx="-0.4" cy="-4.5" r="1.15" fill="#d81414" />
<circle cx="0.0" cy="-1.0" r="1.15" fill="#d81414" />
<circle cx="-1.2" cy="0.7" r="1.15" fill="#d81414" />
<circle cx="2.0" cy="2.8" r="1.15" fill="#d81414" />
<circle cx="4.0" cy="2.4" r="1.15" fill="#d81414" />
<circle cx="-4.8" cy="6.3" r="1.15" fill="#d81414" />
<circle cx="-2.8" cy="6.6" r="1.15" fill="#d81414" />
<circle cx="-2.0" cy="5.6" r="1.15" fill="#d81414" />
<circle cx="0.8" cy="1.4" r="1.15" fill="#d81414" />
<circle cx="19.3" cy="2.2" r="1.15" fill="#d81414" />
<circle cx="21.3" cy="3.1" r="1.15" fill="#d81414" />
<circle cx="23.3" cy="4.0" r="1.15" fill="#d81414" />
<circle cx="24.1" cy="1.7" r="1.15" fill="#d81414" />
<circle cx="27.3" cy="1.4" r="1.15" fill="#d81414" />
<circle cx="29.4" cy="0.3" r="1.15" fill="#d81414" />
<circle cx="31.4" cy="0.1" r="1.15" fill="#d81414" />
<circle cx="33.4" cy="0.3" r="1.15" fill="#d81414" />
<circle cx="35.4" cy="2.1" r="1.15" fill="#d81414" />
<circle cx="37.4" cy="-5.2" r="1.15" fill="#d81414" />
<circle cx="37.8" cy="-3.1" r="1.15" fill="#d81414" />
<circle cx="38.6" cy="3.1" r="1.15" fill="#d81414" />
<circle cx="39.8" cy="4.5" r="1.15" fill="#d81414" />
<circle cx="-0.4" cy="22.3" r="1.15" fill="#d81414" />
<circle cx="2.4" cy="24.0" r="1.15" fill="#d81414" />
<circle cx="3.2" cy="25.8" r="1.15" fill="#d81414" />
<circle cx="5.2" cy="26.1" r="1.15" fill="#d81414" />
<circle cx="7.2" cy="26.1" r="1.15" fill="#d81414" />
<circle cx="8.8" cy="26.1" r="1.15" fill="#d81414" />
<circle cx="10.9" cy="24.7" r="1.15" fill="#d81414" />
<circle cx="13.7" cy="25.2" r="1.15" fill="#d81414" />
<circle cx="15.3" cy="22.6" r="1.15" fill="#d81414" />
<circle cx="16.9" cy="23.7" r="1.15" fill="#d81414" />
<circle cx="18.5" cy="24.4" r="1.15" fill="#d81414" />
<circle cx="1.6" cy="28.9" r="1.15" fill="#d81414" />
<circle cx="1.6" cy="31.3" r="1.15" fill="#d81414" />
<circle cx="38.6" cy="20.2" r="1.15" fill="#d81414" />
<circle cx="41.0" cy="18.4" r="1.15" fill="#d81414" />
<circle cx="42.6" cy="19.8" r="1.15" fill="#d81414" />
<circle cx="43.4" cy="21.6" r="1.15" fill="#d81414" />
<circle cx="34.6" cy="24.0" r="1.15" fill="#d81414" />
<circle cx="37.0" cy="24.0" r="1.15" fill="#d81414" />
<circle cx="39.0" cy="25.8" r="1.15" fill="#d81414" />
<circle cx="40.2" cy="26.4" r="1.15" fill="#d81414" />
<circle cx="43.4" cy="27.8" r="1.15" fill="#d81414" />
<circle cx="39.0" cy="29.9" r="1.15" fill="#d81414" />
<circle cx="39.0" cy="31.3" r="1.15" fill="#d81414" />
<circle cx="45.0" cy="24.4" r="1.15" fill="#d81414" />
<circle cx="40.6" cy="-0.6" r="1.15" fill="#d81414" />
<circle cx="42.5" cy="0.6" r="1.15" fill="#d81414" />
<circle cx="46.8" cy="-0.1" r="1.15" fill="#d81414" />
<circle cx="48.3" cy="1.0" r="1.15" fill="#d81414" />
<circle cx="47.3" cy="26.4" r="1.15" fill="#d81414" />
<circle cx="48.7" cy="25.9" r="1.15" fill="#d81414" />
<circle cx="-0.3" cy="29.6" r="1.15" fill="#d81414" />
<circle cx="0.0" cy="33.4" r="1.15" fill="#d81414" />
<circle cx="38.6" cy="29.6" r="1.15" fill="#d81414" />
<circle cx="38.1" cy="33.4" r="1.15" fill="#d81414" />
<circle cx="16.9" cy="-0.1" r="0.95" fill="#2636e6" />
<circle cx="0.0" cy="12.9" r="0.95" fill="#2636e6" />
<circle cx="38.4" cy="13.2" r="0.95" fill="#2636e6" />
<circle cx="21.9" cy="26.6" r="0.95" fill="#2636e6" />
<circle cx="-1.6" cy="3.8" r="1.90" fill="#16dc16" />
<circle cx="25.3" cy="3.1" r="1.90" fill="#16dc16" />
<circle cx="37.8" cy="-0.3" r="1.90" fill="#16dc16" />
<circle cx="13.0" cy="23.3" r="1.90" fill="#16dc16" />
<circle cx="0.4" cy="26.1" r="1.90" fill="#16dc16" />
<circle cx="40.2" cy="22.3" r="1.90" fill="#16dc16" />
<circle cx="43.8" cy="25.4" r="1.90" fill="#16dc16" />
<circle cx="44.1" cy="1.3" r="1.90" fill="#16dc16" />
<path d="M-1.6 3.8L-0.1 5.7" stroke="#d81414" stroke-width="0.9" stroke-linecap="round"/>
<circle cx="-0.1" cy="5.7" r="0.75" fill="#d81414" />
<path d="M-1.6 3.8L-2.9 5.8" stroke="#d81414" stroke-width="0.9" stroke-linecap="round"/>
<circle cx="-2.9" cy="5.8" r="0.75" fill="#d81414" />
<path d="M-1.6 3.8L-3.9 3.2" stroke="#d81414" stroke-width="0.9" stroke-linecap="round"/>
<circle cx="-3.9" cy="3.2" r="0.75" fill="#d81414" />
<path d="M-1.6 3.8L-1.7 1.4" stroke="#d81414" stroke-width="0.9" stroke-linecap="round"/>
<circle cx="-1.7" cy="1.4" r="0.75" fill="#d81414" />
<path d="M-1.6 3.8L0.6 3.0" stroke="#d81414" stroke-width="0.9" stroke-linecap="round"/>
<circle cx="0.6" cy="3.0" r="0.75" fill="#d81414" />
<circle cx="-1.6" cy="3.8" r="1.80" fill="#16dc16" />
<path d="M25.3 3.1L26.8 5.0" stroke="#d81414" stroke-width="0.9" stroke-linecap="round"/>
<circle cx="26.8" cy="5.0" r="0.75" fill="#d81414" />
<path d="M25.3 3.1L24.0 5.1" stroke="#d81414" stroke-width="0.9" stroke-linecap="round"/>
<circle cx="24.0" cy="5.1" r="0.75" fill="#d81414" />
<path d="M25.3 3.1L23.0 2.5" stroke="#d81414" stroke-width="0.9" stroke-linecap="round"/>
<circle cx="23.0" cy="2.5" r="0.75" fill="#d81414" />
<path d="M25.3 3.1L25.2 0.7" stroke="#d81414" stroke-width="0.9" stroke-linecap="round"/>
<circle cx="25.2" cy="0.7" r="0.75" fill="#d81414" />
<path d="M25.3 3.1L27.6 2.3" stroke="#d81414" stroke-width="0.9" stroke-linecap="round"/>
<circle cx="27.6" cy="2.3" r="0.75" fill="#d81414" />
<circle cx="25.3" cy="3.1" r="1.80" fill="#16dc16" />
<path d="M37.8 -0.3L39.3 1.5" stroke="#d81414" stroke-width="0.9" stroke-linecap="round"/>
<circle cx="39.3" cy="1.5" r="0.75" fill="#d81414" />
<path d="M37.8 -0.3L36.5 1.7" stroke="#d81414" stroke-width="0.9" stroke-linecap="round"/>
<circle cx="36.5" cy="1.7" r="0.75" fill="#d81414" />
<path d="M37.8 -0.3L35.5 -1.0" stroke="#d81414" stroke-width="0.9" stroke-linecap="round"/>
<circle cx="35.5" cy="-1.0" r="0.75" fill="#d81414" />
<path d="M37.8 -0.3L37.7 -2.7" stroke="#d81414" stroke-width="0.9" stroke-linecap="round"/>
<circle cx="37.7" cy="-2.7" r="0.75" fill="#d81414" />
<path d="M37.8 -0.3L40.0 -1.2" stroke="#d81414" stroke-width="0.9" stroke-linecap="round"/>
<circle cx="40.0" cy="-1.2" r="0.75" fill="#d81414" />
<circle cx="37.8" cy="-0.3" r="1.80" fill="#16dc16" />
<path d="M13.0 23.3L14.5 25.2" stroke="#d81414" stroke-width="0.9" stroke-linecap="round"/>
<circle cx="14.5" cy="25.2" r="0.75" fill="#d81414" />
<path d="M13.0 23.3L11.7 25.3" stroke="#d81414" stroke-width="0.9" stroke-linecap="round"/>
<circle cx="11.7" cy="25.3" r="0.75" fill="#d81414" />
<path d="M13.0 23.3L10.7 22.7" stroke="#d81414" stroke-width="0.9" stroke-linecap="round"/>
<circle cx="10.7" cy="22.7" r="0.75" fill="#d81414" />
<path d="M13.0 23.3L12.9 20.9" stroke="#d81414" stroke-width="0.9" stroke-linecap="round"/>
<circle cx="12.9" cy="20.9" r="0.75" fill="#d81414" />
<path d="M13.0 23.3L15.3 22.5" stroke="#d81414" stroke-width="0.9" stroke-linecap="round"/>
<circle cx="15.3" cy="22.5" r="0.75" fill="#d81414" />
<circle cx="13.0" cy="23.3" r="1.80" fill="#16dc16" />
<path d="M0.4 26.1L1.9 28.0" stroke="#d81414" stroke-width="0.9" stroke-linecap="round"/>
<circle cx="1.9" cy="28.0" r="0.75" fill="#d81414" />
<path d="M0.4 26.1L-0.9 28.1" stroke="#d81414" stroke-width="0.9" stroke-linecap="round"/>
<circle cx="-0.9" cy="28.1" r="0.75" fill="#d81414" />
<path d="M0.4 26.1L-1.9 25.5" stroke="#d81414" stroke-width="0.9" stroke-linecap="round"/>
<circle cx="-1.9" cy="25.5" r="0.75" fill="#d81414" />
<path d="M0.4 26.1L0.3 23.7" stroke="#d81414" stroke-width="0.9" stroke-linecap="round"/>
<circle cx="0.3" cy="23.7" r="0.75" fill="#d81414" />
<path d="M0.4 26.1L2.7 25.3" stroke="#d81414" stroke-width="0.9" stroke-linecap="round"/>
<circle cx="2.7" cy="25.3" r="0.75" fill="#d81414" />
<circle cx="0.4" cy="26.1" r="1.80" fill="#16dc16" />
<path d="M40.2 22.3L41.7 24.2" stroke="#d81414" stroke-width="0.9" stroke-linecap="round"/>
<circle cx="41.7" cy="24.2" r="0.75" fill="#d81414" />
<path d="M40.2 22.3L38.9 24.3" stroke="#d81414" stroke-width="0.9" stroke-linecap="round"/>
<circle cx="38.9" cy="24.3" r="0.75" fill="#d81414" />
<path d="M40.2 22.3L37.9 21.6" stroke="#d81414" stroke-width="0.9" stroke-linecap="round"/>
<circle cx="37.9" cy="21.6" r="0.75" fill="#d81414" />
<path d="M40.2 22.3L40.1 19.9" stroke="#d81414" stroke-width="0.9" stroke-linecap="round"/>
<circle cx="40.1" cy="19.9" r="0.75" fill="#d81414" />
<path d="M40.2 22.3L42.5 21.4" stroke="#d81414" stroke-width="0.9" stroke-linecap="round"/>
<circle cx="42.5" cy="21.4" r="0.75" fill="#d81414" />
<circle cx="40.2" cy="22.3" r="1.80" fill="#16dc16" />
<path d="M43.8 25.4L45.3 27.3" stroke="#d81414" stroke-width="0.9" stroke-linecap="round"/>
<circle cx="45.3" cy="27.3" r="0.75" fill="#d81414" />
<path d="M43.8 25.4L42.5 27.4" stroke="#d81414" stroke-width="0.9" stroke-linecap="round"/>
<circle cx="42.5" cy="27.4" r="0.75" fill="#d81414" />
<path d="M43.8 25.4L41.5 24.8" stroke="#d81414" stroke-width="0.9" stroke-linecap="round"/>
<circle cx="41.5" cy="24.8" r="0.75" fill="#d81414" />
<path d="M43.8 25.4L43.7 23.0" stroke="#d81414" stroke-width="0.9" stroke-linecap="round"/>
<circle cx="43.7" cy="23.0" r="0.75" fill="#d81414" />
<path d="M43.8 25.4L46.1 24.6" stroke="#d81414" stroke-width="0.9" stroke-linecap="round"/>
<circle cx="46.1" cy="24.6" r="0.75" fill="#d81414" />
<circle cx="43.8" cy="25.4" r="1.80" fill="#16dc16" />
<path d="M3.0 16.9L7.0 16.7L8.5 12.0L9.6 18.6L12.1 9.5L12.8 15.6L14.6 8.5L17.1 10.5" stroke="#d41ad4" stroke-width="1.45" fill="none" stroke-linejoin="round" stroke-linecap="round"/>
<path d="M8.0 14.1L11.1 10.5L10.6 17.1L13.6 10.0" stroke="#d41ad4" stroke-width="1.0" fill="none" stroke-linejoin="round"/>
<path d="M36.2 10.5L31.7 10.7L30.2 8.5L29.2 15.1L27.1 10.5L25.6 19.1L24.1 16.6L21.6 17.1" stroke="#d41ad4" stroke-width="1.45" fill="none" stroke-linejoin="round" stroke-linecap="round"/>
<path d="M30.7 12.5L28.1 9.0L27.8 16.1L25.1 14.1" stroke="#d41ad4" stroke-width="1.0" fill="none" stroke-linejoin="round"/>
</g></defs>
<defs><clipPath id="ct5"><rect x="64" y="451" width="142.5" height="118.5"/></clipPath></defs>
<g filter="url(#soft)" clip-path="url(#ct5)">
<use href="#t5" x="69.6" y="460.0"/>
<use href="#t5" x="117.4" y="460.0"/>
<use href="#t5" x="165.2" y="460.0"/>
<use href="#t5" x="69.6" y="498.4"/>
<use href="#t5" x="117.4" y="498.4"/>
<use href="#t5" x="165.2" y="498.4"/>
</g>
<defs><g id="t6">
<path d="M6.5 -0.2L17.6 -0.5L23.6 1.0" stroke="#686868" stroke-width="0.9" fill="none" stroke-linejoin="round" stroke-linecap="round"/>
<path d="M9.6 -1.8L16.6 -3.0L23.6 -0.2" stroke="#686868" stroke-width="0.9" fill="none" stroke-linejoin="round" stroke-linecap="round"/>
<path d="M15.6 26.6L23.6 27.1L29.7 29.1" stroke="#686868" stroke-width="0.9" fill="none" stroke-linejoin="round" stroke-linecap="round"/>
<path d="M20.6 28.1L27.6 30.1L20.6 26.6" stroke="#686868" stroke-width="0.9" fill="none" stroke-linejoin="round" stroke-linecap="round"/>
<path d="M0.5 5.0L0.0 13.1L1.0 21.1" stroke="#686868" stroke-width="0.9" fill="none" stroke-linejoin="round" stroke-linecap="round"/>
<path d="M-1.0 7.0L1.5 17.1L0.5 22.1" stroke="#686868" stroke-width="0.9" fill="none" stroke-linejoin="round" stroke-linecap="round"/>
<path d="M37.7 5.0L38.7 17.1L38.2 22.1" stroke="#686868" stroke-width="0.9" fill="none" stroke-linejoin="round" stroke-linecap="round"/>
<path d="M36.7 7.0L39.7 13.1L37.7 21.1" stroke="#686868" stroke-width="0.9" fill="none" stroke-linejoin="round" stroke-linecap="round"/>
<path d="M37.7 2.0L40.7 25.6" stroke="#5a5a5a" stroke-width="1.0" fill="none" stroke-linecap="round"/>
<path d="M40.2 1.0L43.9 24.3" stroke="#5a5a5a" stroke-width="1.0" fill="none" stroke-linecap="round"/>
<path d="M42.9 2.0L46.9 25.6" stroke="#5a5a5a" stroke-width="1.0" fill="none" stroke-linecap="round"/>
<circle cx="39.7" cy="7.0" r="1.10" fill="#d81414" />
<circle cx="41.9" cy="17.1" r="1.10" fill="#d81414" />
<circle cx="44.7" cy="12.0" r="1.10" fill="#d81414" />
<circle cx="43.2" cy="5.0" r="1.10" fill="#d81414" />
<circle cx="40.7" cy="21.1" r="1.10" fill="#d81414" />
<circle cx="45.9" cy="20.1" r="1.10" fill="#d81414" />
<circle cx="5.5" cy="-0.8" r="1.10" fill="#d81414" />
<circle cx="11.1" cy="1.0" r="1.10" fill="#d81414" />
<circle cx="20.6" cy="-1.2" r="1.10" fill="#d81414" />
<circle cx="32.7" cy="-0.4" r="1.10" fill="#d81414" />
<circle cx="5.5" cy="26.7" r="1.10" fill="#d81414" />
<circle cx="15.6" cy="25.7" r="1.10" fill="#d81414" />
<circle cx="30.7" cy="27.3" r="1.10" fill="#d81414" />
<circle cx="34.7" cy="25.7" r="1.10" fill="#d81414" />
<circle cx="0.5" cy="10.0" r="1.10" fill="#d81414" />
<circle cx="-0.3" cy="17.1" r="1.10" fill="#d81414" />
<circle cx="38.7" cy="10.0" r="1.10" fill="#d81414" />
<circle cx="39.3" cy="18.1" r="1.10" fill="#d81414" />
<path d="M0.0 -0.8L2.4 1.0L9.2 0.6L18.5 1.4L25.3 3.1" stroke="#606060" stroke-width="0.75" fill="none" stroke-linejoin="round" stroke-linecap="round"/>
<path d="M8.4 0.1L16.1 -0.1L29.0 0.6L37.0 0.0" stroke="#606060" stroke-width="0.75" fill="none" stroke-linejoin="round" stroke-linecap="round"/>
<path d="M10.9 -3.5L18.5 -1.4L28.1 0.8L24.1 2.2L16.1 1.3L10.3 -2.4L10.9 -3.5" stroke="#606060" stroke-width="0.75" fill="none" stroke-linejoin="round" stroke-linecap="round"/>
<path d="M0.4 26.1L9.2 25.9L13.0 23.3" stroke="#606060" stroke-width="0.75" fill="none" stroke-linejoin="round" stroke-linecap="round"/>
<path d="M10.5 25.9L18.5 24.9L29.8 25.8L37.8 25.9" stroke="#606060" stroke-width="0.75" fill="none" stroke-linejoin="round" stroke-linecap="round"/>
<path d="M16.1 26.1L21.7 26.6L27.7 29.8L26.7 30.3L20.1 28.2L13.7 25.1" stroke="#606060" stroke-width="0.75" fill="none" stroke-linejoin="round" stroke-linecap="round"/>
<path d="M-0.2 -4.2L-0.2 0.7L0.0 12.5L0.0 22.3L0.6 26.1" stroke="#606060" stroke-width="0.75" fill="none" stroke-linejoin="round" stroke-linecap="round"/>
<path d="M0.0 0.7L-2.3 6.6L-3.1 11.1L0.4 20.9" stroke="#606060" stroke-width="0.75" fill="none" stroke-linejoin="round" stroke-linecap="round"/>
<path d="M-4.0 6.6L-2.3 11.8L1.0 22.3" stroke="#606060" stroke-width="0.75" fill="none" stroke-linejoin="round" stroke-linecap="round"/>
<path d="M38.2 -4.2L38.2 3.5L38.4 13.2L38.4 31.3" stroke="#606060" stroke-width="0.75" fill="none" stroke-linejoin="round" stroke-linecap="round"/>
<path d="M37.8 4.9L40.2 11.1L42.6 18.8" stroke="#606060" stroke-width="0.75" fill="none" stroke-linejoin="round" stroke-linecap="round"/>
<path d="M38.2 5.6L39.4 14.6L40.2 22.3" stroke="#606060" stroke-width="0.75" fill="none" stroke-linejoin="round" stroke-linecap="round"/>
<path d="M38.2 0.0L49.7 0.1" stroke="#606060" stroke-width="0.75" fill="none" stroke-linejoin="round" stroke-linecap="round"/>
<path d="M38.2 26.1L49.7 26.0" stroke="#606060" stroke-width="0.75" fill="none" stroke-linejoin="round" stroke-linecap="round"/>
<path d="M0.0 26.1L-0.2 36.6" stroke="#606060" stroke-width="0.75" fill="none" stroke-linejoin="round" stroke-linecap="round"/>
<path d="M38.4 26.1L38.3 36.6" stroke="#606060" stroke-width="0.75" fill="none" stroke-linejoin="round" stroke-linecap="round"/>
<path d="M2.4 0.6L16.1 -0.7L29.0 0.0L37.4 -0.6" stroke="#606060" stroke-width="0.75" fill="none" stroke-linejoin="round" stroke-linecap="round"/>
<path d="M0.8 26.7L9.2 26.4L18.5 25.5L29.8 26.4L37.8 26.5" stroke="#606060" stroke-width="0.75" fill="none" stroke-linejoin="round" stroke-linecap="round"/>
<path d="M10.0 -2.9L13.3 -0.7L16.2 0.3L22.5 1.4" stroke="#606060" stroke-width="0.75" fill="none" stroke-linejoin="round" stroke-linecap="round"/>
<path d="M28.2 29.0L24.9 26.8L22.0 25.8L15.7 24.7" stroke="#606060" stroke-width="0.75" fill="none" stroke-linejoin="round" stroke-linecap="round"/>
<path d="M38.1 0.3L40.6 11.1L45.2 25.8" stroke="#606060" stroke-width="1.2000000000000002" fill="none" stroke-linejoin="round" stroke-linecap="round"/>
<path d="M-5.1 0.3L-2.4 11.8L1.0 25.8" stroke="#606060" stroke-width="1.2000000000000002" fill="none" stroke-linejoin="round" stroke-linecap="round"/>
<circle cx="-0.4" cy="-4.5" r="1.15" fill="#d81414" />
<circle cx="0.0" cy="-1.0" r="1.15" fill="#d81414" />
<circle cx="-1.2" cy="0.7" r="1.15" fill="#d81414" />
<circle cx="2.0" cy="2.8" r="1.15" fill="#d81414" />
<circle cx="4.0" cy="2.4" r="1.15" fill="#d81414" />
<circle cx="-4.8" cy="6.3" r="1.15" fill="#d81414" />
<circle cx="-2.8" cy="6.6" r="1.15" fill="#d81414" />
<circle cx="-2.0" cy="5.6" r="1.15" fill="#d81414" />
<circle cx="0.8" cy="1.4" r="1.15" fill="#d81414" />
<circle cx="19.3" cy="2.2" r="1.15" fill="#d81414" />
<circle cx="21.3" cy="3.1" r="1.15" fill="#d81414" />
<circle cx="23.3" cy="4.0" r="1.15" fill="#d81414" />
<circle cx="24.1" cy="1.7" r="1.15" fill="#d81414" />
<circle cx="27.3" cy="1.4" r="1.15" fill="#d81414" />
<circle cx="29.4" cy="0.3" r="1.15" fill="#d81414" />
<circle cx="31.4" cy="0.1" r="1.15" fill="#d81414" />
<circle cx="33.4" cy="0.3" r="1.15" fill="#d81414" />
<circle cx="35.4" cy="2.1" r="1.15" fill="#d81414" />
<circle cx="37.4" cy="-5.2" r="1.15" fill="#d81414" />
<circle cx="37.8" cy="-3.1" r="1.15" fill="#d81414" />
<circle cx="38.6" cy="3.1" r="1.15" fill="#d81414" />
<circle cx="39.8" cy="4.5" r="1.15" fill="#d81414" />
<circle cx="-0.4" cy="22.3" r="1.15" fill="#d81414" />
<circle cx="2.4" cy="24.0" r="1.15" fill="#d81414" />
<circle cx="3.2" cy="25.8" r="1.15" fill="#d81414" />
<circle cx="5.2" cy="26.1" r="1.15" fill="#d81414" />
<circle cx="7.2" cy="26.1" r="1.15" fill="#d81414" />
<circle cx="8.8" cy="26.1" r="1.15" fill="#d81414" />
<circle cx="10.9" cy="24.7" r="1.15" fill="#d81414" />
<circle cx="13.7" cy="25.2" r="1.15" fill="#d81414" />
<circle cx="15.3" cy="22.6" r="1.15" fill="#d81414" />
<circle cx="16.9" cy="23.7" r="1.15" fill="#d81414" />
<circle cx="18.5" cy="24.4" r="1.15" fill="#d81414" />
<circle cx="1.6" cy="28.9" r="1.15" fill="#d81414" />
<circle cx="1.6" cy="31.3" r="1.15" fill="#d81414" />
<circle cx="38.6" cy="20.2" r="1.15" fill="#d81414" />
<circle cx="41.0" cy="18.4" r="1.15" fill="#d81414" />
<circle cx="42.6" cy="19.8" r="1.15" fill="#d81414" />
<circle cx="43.4" cy="21.6" r="1.15" fill="#d81414" />
<circle cx="34.6" cy="24.0" r="1.15" fill="#d81414" />
<circle cx="37.0" cy="24.0" r="1.15" fill="#d81414" />
<circle cx="39.0" cy="25.8" r="1.15" fill="#d81414" />
<circle cx="40.2" cy="26.4" r="1.15" fill="#d81414" />
<circle cx="43.4" cy="27.8" r="1.15" fill="#d81414" />
<circle cx="39.0" cy="29.9" r="1.15" fill="#d81414" />
<circle cx="39.0" cy="31.3" r="1.15" fill="#d81414" />
<circle cx="45.0" cy="24.4" r="1.15" fill="#d81414" />
<circle cx="40.6" cy="-0.6" r="1.15" fill="#d81414" />
<circle cx="42.5" cy="0.6" r="1.15" fill="#d81414" />
<circle cx="46.8" cy="-0.1" r="1.15" fill="#d81414" />
<circle cx="48.3" cy="1.0" r="1.15" fill="#d81414" />
<circle cx="47.3" cy="26.4" r="1.15" fill="#d81414" />
<circle cx="48.7" cy="25.9" r="1.15" fill="#d81414" />
<circle cx="-0.3" cy="29.6" r="1.15" fill="#d81414" />
<circle cx="0.0" cy="33.4" r="1.15" fill="#d81414" />
<circle cx="38.6" cy="29.6" r="1.15" fill="#d81414" />
<circle cx="38.1" cy="33.4" r="1.15" fill="#d81414" />
<circle cx="16.9" cy="-0.1" r="0.95" fill="#2636e6" />
<circle cx="0.0" cy="12.9" r="0.95" fill="#2636e6" />
<circle cx="38.4" cy="13.2" r="0.95" fill="#2636e6" />
<circle cx="21.9" cy="26.6" r="0.95" fill="#2636e6" />
<circle cx="-1.6" cy="3.8" r="1.90" fill="#16dc16" />
<circle cx="25.3" cy="3.1" r="1.90" fill="#16dc16" />
<circle cx="37.8" cy="-0.3" r="1.90" fill="#16dc16" />
<circle cx="13.0" cy="23.3" r="1.90" fill="#16dc16" />
<circle cx="0.4" cy="26.1" r="1.90" fill="#16dc16" />
<circle cx="40.2" cy="22.3" r="1.90" fill="#16dc16" />
<circle cx="43.8" cy="25.4" r="1.90" fill="#16dc16" />
<circle cx="44.1" cy="1.3" r="1.90" fill="#16dc16" />
<path d="M-1.6 3.8L-0.1 5.7" stroke="#d81414" stroke-width="0.9" stroke-linecap="round"/>
<circle cx="-0.1" cy="5.7" r="0.75" fill="#d81414" />
<path d="M-1.6 3.8L-2.9 5.8" stroke="#d81414" stroke-width="0.9" stroke-linecap="round"/>
<circle cx="-2.9" cy="5.8" r="0.75" fill="#d81414" />
<path d="M-1.6 3.8L-3.9 3.2" stroke="#d81414" stroke-width="0.9" stroke-linecap="round"/>
<circle cx="-3.9" cy="3.2" r="0.75" fill="#d81414" />
<path d="M-1.6 3.8L-1.7 1.4" stroke="#d81414" stroke-width="0.9" stroke-linecap="round"/>
<circle cx="-1.7" cy="1.4" r="0.75" fill="#d81414" />
<path d="M-1.6 3.8L0.6 3.0" stroke="#d81414" stroke-width="0.9" stroke-linecap="round"/>
<circle cx="0.6" cy="3.0" r="0.75" fill="#d81414" />
<circle cx="-1.6" cy="3.8" r="1.80" fill="#16dc16" />
<path d="M25.3 3.1L26.8 5.0" stroke="#d81414" stroke-width="0.9" stroke-linecap="round"/>
<circle cx="26.8" cy="5.0" r="0.75" fill="#d81414" />
<path d="M25.3 3.1L24.0 5.1" stroke="#d81414" stroke-width="0.9" stroke-linecap="round"/>
<circle cx="24.0" cy="5.1" r="0.75" fill="#d81414" />
<path d="M25.3 3.1L23.0 2.5" stroke="#d81414" stroke-width="0.9" stroke-linecap="round"/>
<circle cx="23.0" cy="2.5" r="0.75" fill="#d81414" />
<path d="M25.3 3.1L25.2 0.7" stroke="#d81414" stroke-width="0.9" stroke-linecap="round"/>
<circle cx="25.2" cy="0.7" r="0.75" fill="#d81414" />
<path d="M25.3 3.1L27.6 2.3" stroke="#d81414" stroke-width="0.9" stroke-linecap="round"/>
<circle cx="27.6" cy="2.3" r="0.75" fill="#d81414" />
<circle cx="25.3" cy="3.1" r="1.80" fill="#16dc16" />
<path d="M37.8 -0.3L39.3 1.5" stroke="#d81414" stroke-width="0.9" stroke-linecap="round"/>
<circle cx="39.3" cy="1.5" r="0.75" fill="#d81414" />
<path d="M37.8 -0.3L36.5 1.7" stroke="#d81414" stroke-width="0.9" stroke-linecap="round"/>
<circle cx="36.5" cy="1.7" r="0.75" fill="#d81414" />
<path d="M37.8 -0.3L35.5 -1.0" stroke="#d81414" stroke-width="0.9" stroke-linecap="round"/>
<circle cx="35.5" cy="-1.0" r="0.75" fill="#d81414" />
<path d="M37.8 -0.3L37.7 -2.7" stroke="#d81414" stroke-width="0.9" stroke-linecap="round"/>
<circle cx="37.7" cy="-2.7" r="0.75" fill="#d81414" />
<path d="M37.8 -0.3L40.0 -1.2" stroke="#d81414" stroke-width="0.9" stroke-linecap="round"/>
<circle cx="40.0" cy="-1.2" r="0.75" fill="#d81414" />
<circle cx="37.8" cy="-0.3" r="1.80" fill="#16dc16" />
<path d="M13.0 23.3L14.5 25.2" stroke="#d81414" stroke-width="0.9" stroke-linecap="round"/>
<circle cx="14.5" cy="25.2" r="0.75" fill="#d81414" />
<path d="M13.0 23.3L11.7 25.3" stroke="#d81414" stroke-width="0.9" stroke-linecap="round"/>
<circle cx="11.7" cy="25.3" r="0.75" fill="#d81414" />
<path d="M13.0 23.3L10.7 22.7" stroke="#d81414" stroke-width="0.9" stroke-linecap="round"/>
<circle cx="10.7" cy="22.7" r="0.75" fill="#d81414" />
<path d="M13.0 23.3L12.9 20.9" stroke="#d81414" stroke-width="0.9" stroke-linecap="round"/>
<circle cx="12.9" cy="20.9" r="0.75" fill="#d81414" />
<path d="M13.0 23.3L15.3 22.5" stroke="#d81414" stroke-width="0.9" stroke-linecap="round"/>
<circle cx="15.3" cy="22.5" r="0.75" fill="#d81414" />
<circle cx="13.0" cy="23.3" r="1.80" fill="#16dc16" />
<path d="M0.4 26.1L1.9 28.0" stroke="#d81414" stroke-width="0.9" stroke-linecap="round"/>
<circle cx="1.9" cy="28.0" r="0.75" fill="#d81414" />
<path d="M0.4 26.1L-0.9 28.1" stroke="#d81414" stroke-width="0.9" stroke-linecap="round"/>
<circle cx="-0.9" cy="28.1" r="0.75" fill="#d81414" />
<path d="M0.4 26.1L-1.9 25.5" stroke="#d81414" stroke-width="0.9" stroke-linecap="round"/>
<circle cx="-1.9" cy="25.5" r="0.75" fill="#d81414" />
<path d="M0.4 26.1L0.3 23.7" stroke="#d81414" stroke-width="0.9" stroke-linecap="round"/>
<circle cx="0.3" cy="23.7" r="0.75" fill="#d81414" />
<path d="M0.4 26.1L2.7 25.3" stroke="#d81414" stroke-width="0.9" stroke-linecap="round"/>
<circle cx="2.7" cy="25.3" r="0.75" fill="#d81414" />
<circle cx="0.4" cy="26.1" r="1.80" fill="#16dc16" />
<path d="M40.2 22.3L41.7 24.2" stroke="#d81414" stroke-width="0.9" stroke-linecap="round"/>
<circle cx="41.7" cy="24.2" r="0.75" fill="#d81414" />
<path d="M40.2 22.3L38.9 24.3" stroke="#d81414" stroke-width="0.9" stroke-linecap="round"/>
<circle cx="38.9" cy="24.3" r="0.75" fill="#d81414" />
<path d="M40.2 22.3L37.9 21.6" stroke="#d81414" stroke-width="0.9" stroke-linecap="round"/>
<circle cx="37.9" cy="21.6" r="0.75" fill="#d81414" />
<path d="M40.2 22.3L40.1 19.9" stroke="#d81414" stroke-width="0.9" stroke-linecap="round"/>
<circle cx="40.1" cy="19.9" r="0.75" fill="#d81414" />
<path d="M40.2 22.3L42.5 21.4" stroke="#d81414" stroke-width="0.9" stroke-linecap="round"/>
<circle cx="42.5" cy="21.4" r="0.75" fill="#d81414" />
<circle cx="40.2" cy="22.3" r="1.80" fill="#16dc16" />
<path d="M43.8 25.4L45.3 27.3" stroke="#d81414" stroke-width="0.9" stroke-linecap="round"/>
<circle cx="45.3" cy="27.3" r="0.75" fill="#d81414" />
<path d="M43.8 25.4L42.5 27.4" stroke="#d81414" stroke-width="0.9" stroke-linecap="round"/>
<circle cx="42.5" cy="27.4" r="0.75" fill="#d81414" />
<path d="M43.8 25.4L41.5 24.8" stroke="#d81414" stroke-width="0.9" stroke-linecap="round"/>
<circle cx="41.5" cy="24.8" r="0.75" fill="#d81414" />
<path d="M43.8 25.4L43.7 23.0" stroke="#d81414" stroke-width="0.9" stroke-linecap="round"/>
<circle cx="43.7" cy="23.0" r="0.75" fill="#d81414" />
<path d="M43.8 25.4L46.1 24.6" stroke="#d81414" stroke-width="0.9" stroke-linecap="round"/>
<circle cx="46.1" cy="24.6" r="0.75" fill="#d81414" />
<circle cx="43.8" cy="25.4" r="1.80" fill="#16dc16" />
<path d="M3.0 16.9L7.0 16.7L8.5 12.0L9.6 18.6L12.1 9.5L12.8 15.6L14.6 8.5L17.1 10.5" stroke="#d41ad4" stroke-width="1.45" fill="none" stroke-linejoin="round" stroke-linecap="round"/>
<path d="M8.0 14.1L11.1 10.5L10.6 17.1L13.6 10.0" stroke="#d41ad4" stroke-width="1.0" fill="none" stroke-linejoin="round"/>
<path d="M36.2 10.5L31.7 10.7L30.2 8.5L29.2 15.1L27.1 10.5L25.6 19.1L24.1 16.6L21.6 17.1" stroke="#d41ad4" stroke-width="1.45" fill="none" stroke-linejoin="round" stroke-linecap="round"/>
<path d="M30.7 12.5L28.1 9.0L27.8 16.1L25.1 14.1" stroke="#d41ad4" stroke-width="1.0" fill="none" stroke-linejoin="round"/>
</g></defs>
<defs><clipPath id="ct6"><rect x="64" y="451" width="142.5" height="118.5"/></clipPath></defs>
<g filter="url(#soft)" clip-path="url(#ct6)">
<use href="#t6" x="69.6" y="536.8"/>
<use href="#t6" x="117.4" y="536.8"/>
<use href="#t6" x="165.2" y="536.8"/>
</g>
<defs><g id="t7">
<path d="M-15.1 -13.9L-6.5 -12.8L5.5 -13.1L14.1 -12.9" stroke="#555" stroke-width="0.8" fill="none" />
<path d="M-9.1 -8.1L-3.5 -10.9L5.5 -12.7" stroke="#555" stroke-width="0.8" fill="none" />
<path d="M-13.4 -13.7L-3.5 -14.1L10.6 -13.9" stroke="#555" stroke-width="0.6" fill="none" />
<path d="M-16.1 -7.4L-12.6 -9.9L-9.1 -8.4L-9.6 -3.8L-13.1 -1.0L-16.6 -2.8Z" stroke="#666" stroke-width="0.75" fill="none" stroke-linejoin="round"/>
<path d="M-16.6 -2.8L-15.4 2.4" stroke="#555" stroke-width="0.7" fill="none" />
<path d="M-16.1 -7.4L-17.6 -10.9" stroke="#555" stroke-width="0.7" fill="none" />
<circle cx="-4.5" cy="-10.9" r="0.90" fill="#2636e6" />
<circle cx="5.5" cy="-13.1" r="1.10" fill="#e01414" />
<circle cx="10.6" cy="-12.9" r="1.10" fill="#e01414" />
<circle cx="-6.5" cy="-12.8" r="1.10" fill="#e01414" />
<path d="M15.1 13.9L6.5 12.8L-5.5 13.1L-14.1 12.9" stroke="#555" stroke-width="0.8" fill="none" />
<path d="M9.1 8.1L3.5 10.9L-5.5 12.7" stroke="#555" stroke-width="0.8" fill="none" />
<path d="M13.4 13.7L3.5 14.1L-10.6 13.9" stroke="#555" stroke-width="0.6" fill="none" />
<path d="M16.1 7.4L12.6 9.9L9.1 8.4L9.6 3.8L13.1 1.0L16.6 2.8Z" stroke="#666" stroke-width="0.75" fill="none" stroke-linejoin="round"/>
<path d="M16.6 2.8L15.4 -2.4" stroke="#555" stroke-width="0.7" fill="none" />
<path d="M16.1 7.4L17.6 10.9" stroke="#555" stroke-width="0.7" fill="none" />
<circle cx="4.5" cy="10.9" r="0.90" fill="#2636e6" />
<circle cx="-5.5" cy="13.1" r="1.10" fill="#e01414" />
<circle cx="-10.6" cy="12.9" r="1.10" fill="#e01414" />
<circle cx="6.5" cy="12.8" r="1.10" fill="#e01414" />
<path d="M-10.4 0.2L-7.4 -3.2L-2.7 -3.6L0.3 -0.3L-2.7 3.2L-7.6 3.6Z" stroke="#d41ad4" stroke-width="1.6" fill="none" stroke-linejoin="round"/>
<path d="M1.5 -0.6L4.3 -3.6L9.1 -4.0L11.8 -1.0L8.8 2.4L4.0 2.8Z" stroke="#d41ad4" stroke-width="1.6" fill="none" stroke-linejoin="round"/>
<path d="M0.3 -0.3L1.5 -0.6" stroke="#d41ad4" stroke-width="1.6" fill="none" />
<path d="M-10.4 0.2L-14.4 0.4L-15.4 3.7L-17.6 6.2" stroke="#d41ad4" stroke-width="1.6" fill="none" stroke-linejoin="round" stroke-linecap="round"/>
<path d="M11.8 -1.0L15.4 -1.3L16.1 -5.3L18.4 -7.4" stroke="#d41ad4" stroke-width="1.6" fill="none" stroke-linejoin="round" stroke-linecap="round"/>
</g></defs>
<defs><clipPath id="ct7"><rect x="384" y="450" width="157.5" height="121"/></clipPath></defs>
<g filter="url(#soft)" clip-path="url(#ct7)">
<use href="#t7" x="425.6" y="476.1"/>
<use href="#t7" x="468.3" y="473.9"/>
<use href="#t7" x="511.0" y="471.9"/>
<use href="#t7" x="419.2" y="514.2"/>
<use href="#t7" x="461.9" y="512.1"/>
<use href="#t7" x="504.6" y="510.1"/>
<use href="#t7" x="412.8" y="552.4"/>
<use href="#t7" x="455.5" y="550.3"/>
<use href="#t7" x="498.2" y="548.2"/>
</g>
<defs><g id="t8">
<path d="M-3.5 -3.0L3.5 3.0" stroke="#16dc16" stroke-width="1.9" stroke-linecap="round"/>
<path d="M-3.0 2.8L3.0 -2.8" stroke="#16dc16" stroke-width="1.9" stroke-linecap="round"/>
<circle cx="0.0" cy="0.0" r="2.00" fill="#16dc16" />
<path d="M-4.5 -6.5L-0.5 -7.0L-2.0 -2.8Z" stroke="#e01414" stroke-width="1.15" fill="none" stroke-linejoin="round"/>
<circle cx="-6.5" cy="4.2" r="1.20" fill="#e01414" />
<circle cx="-10.6" cy="12.8" r="1.20" fill="#e01414" />
<circle cx="-6.0" cy="12.3" r="1.20" fill="#e01414" />
<circle cx="-14.6" cy="7.8" r="1.20" fill="#e01414" />
<circle cx="-2.0" cy="5.0" r="1.20" fill="#e01414" />
<circle cx="-12.1" cy="10.1" r="1.20" fill="#e01414" />
<circle cx="-4.5" cy="10.6" r="1.20" fill="#e01414" />
<path d="M-6.5 4.2L-4.0 7.8L-6.0 12.3" stroke="#e01414" stroke-width="0.9" fill="none" />
<path d="M-14.6 7.8L-9.1 8.3L-10.6 12.8" stroke="#e01414" stroke-width="0.9" fill="none" />
<path d="M-9.6 11.3L-9.3 15.1" stroke="#d41ad4" stroke-width="1.4" fill="none" stroke-linecap="round"/>
<path d="M-4.5 10.1L-3.0 13.6" stroke="#d41ad4" stroke-width="1.1" fill="none" stroke-linecap="round"/>
<circle cx="-9.1" cy="8.3" r="2.00" fill="#16dc16" />
<circle cx="-4.0" cy="7.8" r="2.00" fill="#16dc16" />
<circle cx="-11.1" cy="5.2" r="1.30" fill="#20d8f0" />
</g></defs>
<defs><clipPath id="ct8"><rect x="384" y="450" width="157.5" height="121"/></clipPath></defs>
<g filter="url(#soft)" clip-path="url(#ct8)">
<use href="#t8" x="407.5" y="458.0"/>
<use href="#t8" x="450.2" y="455.9"/>
<use href="#t8" x="492.9" y="453.8"/>
<use href="#t8" x="535.6" y="451.7"/>
</g>
<defs><g id="t9">
<path d="M-3.5 -3.0L3.5 3.0" stroke="#16dc16" stroke-width="1.9" stroke-linecap="round"/>
<path d="M-3.0 2.8L3.0 -2.8" stroke="#16dc16" stroke-width="1.9" stroke-linecap="round"/>
<circle cx="0.0" cy="0.0" r="2.00" fill="#16dc16" />
<path d="M-4.5 -6.5L-0.5 -7.0L-2.0 -2.8Z" stroke="#e01414" stroke-width="1.15" fill="none" stroke-linejoin="round"/>
<circle cx="-6.5" cy="4.2" r="1.20" fill="#e01414" />
<circle cx="-10.6" cy="12.8" r="1.20" fill="#e01414" />
<circle cx="-6.0" cy="12.3" r="1.20" fill="#e01414" />
<circle cx="-14.6" cy="7.8" r="1.20" fill="#e01414" />
<circle cx="-2.0" cy="5.0" r="1.20" fill="#e01414" />
<circle cx="-12.1" cy="10.1" r="1.20" fill="#e01414" />
<circle cx="-4.5" cy="10.6" r="1.20" fill="#e01414" />
<path d="M-6.5 4.2L-4.0 7.8L-6.0 12.3" stroke="#e01414" stroke-width="0.9" fill="none" />
<path d="M-14.6 7.8L-9.1 8.3L-10.6 12.8" stroke="#e01414" stroke-width="0.9" fill="none" />
<path d="M-9.6 11.3L-9.3 15.1" stroke="#d41ad4" stroke-width="1.4" fill="none" stroke-linecap="round"/>
<path d="M-4.5 10.1L-3.0 13.6" stroke="#d41ad4" stroke-width="1.1" fill="none" stroke-linecap="round"/>
<circle cx="-9.1" cy="8.3" r="2.00" fill="#16dc16" />
<circle cx="-4.0" cy="7.8" r="2.00" fill="#16dc16" />
<circle cx="-11.1" cy="5.2" r="1.30" fill="#20d8f0" />
<path d="M4.5 6.5L0.5 7.0L2.0 2.8Z" stroke="#e01414" stroke-width="1.15" fill="none" stroke-linejoin="round"/>
<circle cx="6.5" cy="-4.2" r="1.20" fill="#e01414" />
<circle cx="10.6" cy="-12.8" r="1.20" fill="#e01414" />
<circle cx="6.0" cy="-12.3" r="1.20" fill="#e01414" />
<circle cx="14.6" cy="-7.8" r="1.20" fill="#e01414" />
<circle cx="2.0" cy="-5.0" r="1.20" fill="#e01414" />
<circle cx="12.1" cy="-10.1" r="1.20" fill="#e01414" />
<circle cx="4.5" cy="-10.6" r="1.20" fill="#e01414" />
<path d="M6.5 -4.2L4.0 -7.8L6.0 -12.3" stroke="#e01414" stroke-width="0.9" fill="none" />
<path d="M14.6 -7.8L9.1 -8.3L10.6 -12.8" stroke="#e01414" stroke-width="0.9" fill="none" />
<path d="M9.6 -11.3L9.3 -15.1" stroke="#d41ad4" stroke-width="1.4" fill="none" stroke-linecap="round"/>
<path d="M4.5 -10.1L3.0 -13.6" stroke="#d41ad4" stroke-width="1.1" fill="none" stroke-linecap="round"/>
<circle cx="9.1" cy="-8.3" r="2.00" fill="#16dc16" />
<circle cx="4.0" cy="-7.8" r="2.00" fill="#16dc16" />
<circle cx="11.1" cy="-5.2" r="1.30" fill="#20d8f0" />
</g></defs>
<defs><clipPath id="ct9"><rect x="384" y="450" width="157.5" height="121"/></clipPath></defs>
<g filter="url(#soft)" clip-path="url(#ct9)">
<use href="#t9" x="401.1" y="496.2"/>
<use href="#t9" x="443.8" y="494.1"/>
<use href="#t9" x="486.5" y="492.0"/>
<use href="#t9" x="529.2" y="489.9"/>
<use href="#t9" x="394.7" y="534.4"/>
<use href="#t9" x="437.4" y="532.3"/>
<use href="#t9" x="480.1" y="530.2"/>
<use href="#t9" x="522.8" y="528.1"/>
</g>
<defs><g id="t10">
<path d="M-3.5 -3.0L3.5 3.0" stroke="#16dc16" stroke-width="1.9" stroke-linecap="round"/>
<path d="M-3.0 2.8L3.0 -2.8" stroke="#16dc16" stroke-width="1.9" stroke-linecap="round"/>
<circle cx="0.0" cy="0.0" r="2.00" fill="#16dc16" />
<path d="M4.5 6.5L0.5 7.0L2.0 2.8Z" stroke="#e01414" stroke-width="1.15" fill="none" stroke-linejoin="round"/>
<circle cx="6.5" cy="-4.2" r="1.20" fill="#e01414" />
<circle cx="10.6" cy="-12.8" r="1.20" fill="#e01414" />
<circle cx="6.0" cy="-12.3" r="1.20" fill="#e01414" />
<circle cx="14.6" cy="-7.8" r="1.20" fill="#e01414" />
<circle cx="2.0" cy="-5.0" r="1.20" fill="#e01414" />
<circle cx="12.1" cy="-10.1" r="1.20" fill="#e01414" />
<circle cx="4.5" cy="-10.6" r="1.20" fill="#e01414" />
<path d="M6.5 -4.2L4.0 -7.8L6.0 -12.3" stroke="#e01414" stroke-width="0.9" fill="none" />
<path d="M14.6 -7.8L9.1 -8.3L10.6 -12.8" stroke="#e01414" stroke-width="0.9" fill="none" />
<path d="M9.6 -11.3L9.3 -15.1" stroke="#d41ad4" stroke-width="1.4" fill="none" stroke-linecap="round"/>
<path d="M4.5 -10.1L3.0 -13.6" stroke="#d41ad4" stroke-width="1.1" fill="none" stroke-linecap="round"/>
<circle cx="9.1" cy="-8.3" r="2.00" fill="#16dc16" />
<circle cx="4.0" cy="-7.8" r="2.00" fill="#16dc16" />
<circle cx="11.1" cy="-5.2" r="1.30" fill="#20d8f0" />
</g></defs>
<defs><clipPath id="ct10"><rect x="384" y="450" width="157.5" height="121"/></clipPath></defs>
<g filter="url(#soft)" clip-path="url(#ct10)">
<use href="#t10" x="388.3" y="572.6"/>
<use href="#t10" x="431.0" y="570.5"/>
<use href="#t10" x="473.7" y="568.4"/>
<use href="#t10" x="516.4" y="566.3"/>
</g>
</g>
</svg>
</body></html>
